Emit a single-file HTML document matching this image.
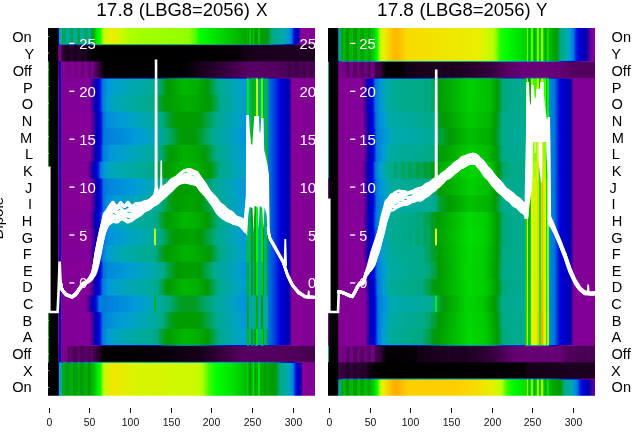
<!DOCTYPE html>
<html><head><meta charset="utf-8"><title>chart</title>
<style>
html,body{margin:0;padding:0;background:#fff;}
body{width:640px;height:440px;overflow:hidden;font-family:"Liberation Sans",sans-serif;}
svg{display:block;will-change:transform;}
text{font-family:"Liberation Sans",sans-serif;}
</style></head><body>
<svg width="640" height="440" viewBox="0 0 640 440">
<rect width="640" height="440" fill="#fff"/>
<defs><linearGradient id="g1" gradientUnits="userSpaceOnUse" x1="48.0" x2="315.0" y1="0" y2="0"><stop offset=".0007" stop-color="#000"/><stop offset=".0382" stop-color="#000"/><stop offset=".0397" stop-color="#00d"/><stop offset=".0412" stop-color="#00d"/><stop offset=".0427" stop-color="#0096dd"/><stop offset=".0442" stop-color="#00aaa9"/><stop offset=".0516" stop-color="#00aa9f"/><stop offset=".0531" stop-color="#00a456"/><stop offset=".0606" stop-color="#00a353"/><stop offset=".0636" stop-color="#00a55f"/><stop offset=".0651" stop-color="#00a55e"/><stop offset=".0666" stop-color="#00aaa1"/><stop offset=".0786" stop-color="#00aaa5"/><stop offset=".0801" stop-color="#00a770"/><stop offset=".0861" stop-color="#00a76d"/><stop offset=".0876" stop-color="#00a24a"/><stop offset=".0921" stop-color="#00a249"/><stop offset=".0936" stop-color="#00aa9b"/><stop offset=".107" stop-color="#00aaa3"/><stop offset=".1085" stop-color="#00a666"/><stop offset=".11" stop-color="#00a665"/><stop offset=".1115" stop-color="#00a247"/><stop offset=".1205" stop-color="#00a244"/><stop offset=".122" stop-color="#00aa9a"/><stop offset=".134" stop-color="#00aaa0"/><stop offset=".1355" stop-color="#00a55c"/><stop offset=".1475" stop-color="#00a457"/><stop offset=".149" stop-color="#0a9"/><stop offset=".1609" stop-color="#00aa90"/><stop offset=".1624" stop-color="#009c1b"/><stop offset=".1639" stop-color="#009c1b"/><stop offset=".1654" stop-color="#00a55c"/><stop offset=".1669" stop-color="#009d21"/><stop offset=".1684" stop-color="#00a000"/><stop offset=".1849" stop-color="#00f300"/><stop offset=".1939" stop-color="#04ff00"/><stop offset=".1984" stop-color="#25ff00"/><stop offset=".2058" stop-color="#bf0"/><stop offset=".2298" stop-color="#e7f000"/><stop offset=".2493" stop-color="#e8f000"/><stop offset=".3031" stop-color="#b0ff00"/><stop offset=".357" stop-color="#a4ff00"/><stop offset=".5262" stop-color="#91ff00"/><stop offset=".5531" stop-color="#4fff00"/><stop offset=".5696" stop-color="#0f0"/><stop offset=".7463" stop-color="#00a600"/><stop offset=".7478" stop-color="#00c900"/><stop offset=".7493" stop-color="#00c900"/><stop offset=".7507" stop-color="#00a500"/><stop offset=".7537" stop-color="#00a400"/><stop offset=".7552" stop-color="#00cf00"/><stop offset=".7597" stop-color="#00cf00"/><stop offset=".7612" stop-color="#00a300"/><stop offset=".7657" stop-color="#00a200"/><stop offset=".7672" stop-color="#00c900"/><stop offset=".7717" stop-color="#00c900"/><stop offset=".7732" stop-color="#00a100"/><stop offset=".7792" stop-color="#090"/><stop offset=".7867" stop-color="#009f00"/><stop offset=".7882" stop-color="#00c900"/><stop offset=".7927" stop-color="#00c900"/><stop offset=".7942" stop-color="#009d00"/><stop offset=".8091" stop-color="#009b00"/><stop offset=".8106" stop-color="#009c1b"/><stop offset=".8136" stop-color="#009c1b"/><stop offset=".8151" stop-color="#009a00"/><stop offset=".8196" stop-color="#090"/><stop offset=".8361" stop-color="#00a76e"/><stop offset=".8436" stop-color="#00aa8c"/><stop offset=".884" stop-color="#00aaa9"/><stop offset=".9004" stop-color="#0096dd"/><stop offset=".9124" stop-color="#0079dd"/><stop offset=".9214" stop-color="#0013dd"/><stop offset=".9259" stop-color="#0000d9"/><stop offset=".9349" stop-color="#0000b8"/><stop offset=".9379" stop-color="#0500a9"/><stop offset=".9469" stop-color="#809"/><stop offset=".9993" stop-color="#810092"/></linearGradient>
<linearGradient id="g2" gradientUnits="userSpaceOnUse" x1="48.0" x2="315.0" y1="0" y2="0"><stop offset=".0007" stop-color="#000"/><stop offset=".0382" stop-color="#000"/><stop offset=".0397" stop-color="#7e008f"/><stop offset=".0487" stop-color="#708"/><stop offset=".0501" stop-color="#51005c"/><stop offset=".0516" stop-color="#400049"/><stop offset=".0576" stop-color="#2a0030"/><stop offset=".0651" stop-color="#28002e"/><stop offset=".0681" stop-color="#1c0020"/><stop offset=".0786" stop-color="#19001d"/><stop offset=".0816" stop-color="#25002b"/><stop offset=".0921" stop-color="#28002d"/><stop offset=".0951" stop-color="#1b001f"/><stop offset=".107" stop-color="#17001b"/><stop offset=".11" stop-color="#240029"/><stop offset=".1205" stop-color="#26002b"/><stop offset=".1235" stop-color="#17001a"/><stop offset=".134" stop-color="#160019"/><stop offset=".137" stop-color="#200025"/><stop offset=".1475" stop-color="#18001b"/><stop offset=".149" stop-color="#0c000e"/><stop offset=".1969" stop-color="#000"/><stop offset=".4963" stop-color="#000"/><stop offset=".7148" stop-color="#050005"/><stop offset=".7343" stop-color="#130016"/><stop offset=".7822" stop-color="#19001d"/><stop offset=".9993" stop-color="#1f0023"/></linearGradient>
<linearGradient id="g3" gradientUnits="userSpaceOnUse" x1="48.0" x2="315.0" y1="0" y2="0"><stop offset=".0007" stop-color="#0b0"/><stop offset=".0037" stop-color="#0b0"/><stop offset=".0052" stop-color="#000"/><stop offset=".0382" stop-color="#000"/><stop offset=".0397" stop-color="#7e008f"/><stop offset=".0412" stop-color="#7e008f"/><stop offset=".0427" stop-color="#0000be"/><stop offset=".0472" stop-color="#0000be"/><stop offset=".0487" stop-color="#810092"/><stop offset=".0651" stop-color="#810092"/><stop offset=".0786" stop-color="#708"/><stop offset=".0921" stop-color="#810092"/><stop offset=".107" stop-color="#720082"/><stop offset=".11" stop-color="#7e008f"/><stop offset=".1205" stop-color="#7f0090"/><stop offset=".125" stop-color="#6e007e"/><stop offset=".134" stop-color="#6b007a"/><stop offset=".1355" stop-color="#7d008e"/><stop offset=".1475" stop-color="#7d008e"/><stop offset=".1519" stop-color="#6c007c"/><stop offset=".1594" stop-color="#5e006c"/><stop offset=".1624" stop-color="#7c008d"/><stop offset=".1669" stop-color="#7b008c"/><stop offset=".1699" stop-color="#680076"/><stop offset=".2118" stop-color="#030003"/><stop offset=".5112" stop-color="#000"/><stop offset=".5322" stop-color="#0a000c"/><stop offset=".5621" stop-color="#150018"/><stop offset=".6654" stop-color="#35003c"/><stop offset=".7537" stop-color="#5a0067"/><stop offset=".8735" stop-color="#52005e"/><stop offset=".887" stop-color="#4d0058"/><stop offset=".896" stop-color="#4c0056"/><stop offset=".9004" stop-color="#42004b"/><stop offset=".9094" stop-color="#43004c"/><stop offset=".9124" stop-color="#4c0057"/><stop offset=".9229" stop-color="#4a0055"/><stop offset=".9274" stop-color="#3e0046"/><stop offset=".9364" stop-color="#3d0046"/><stop offset=".9409" stop-color="#490054"/><stop offset=".9513" stop-color="#4f005b"/><stop offset=".9543" stop-color="#460050"/><stop offset=".9648" stop-color="#43004c"/><stop offset=".9678" stop-color="#4c0057"/><stop offset=".9783" stop-color="#4e0059"/><stop offset=".9828" stop-color="#45004f"/><stop offset=".9933" stop-color="#43004d"/><stop offset=".9963" stop-color="#4d0058"/><stop offset=".9993" stop-color="#4a0054"/></linearGradient>
<linearGradient id="g4" gradientUnits="userSpaceOnUse" x1="48.0" x2="315.0" y1="0" y2="0"><stop offset=".0007" stop-color="#0b0"/><stop offset=".0037" stop-color="#0b0"/><stop offset=".0052" stop-color="#000"/><stop offset=".0367" stop-color="#000"/><stop offset=".0382" stop-color="#7e008f"/><stop offset=".0397" stop-color="#7e008f"/><stop offset=".0412" stop-color="#0000be"/><stop offset=".0472" stop-color="#0000be"/><stop offset=".0487" stop-color="#810092"/><stop offset=".1549" stop-color="#81009a"/><stop offset=".1699" stop-color="#3600a3"/><stop offset=".1759" stop-color="#00a"/><stop offset=".1909" stop-color="#00d"/><stop offset=".1984" stop-color="#0030dd"/><stop offset=".2043" stop-color="#0078dd"/><stop offset=".2268" stop-color="#009adb"/><stop offset=".2582" stop-color="#00a1c5"/><stop offset=".2702" stop-color="#00a1c6"/><stop offset=".2867" stop-color="#00a5b8"/><stop offset=".354" stop-color="#00aaa6"/><stop offset=".4109" stop-color="#00aa8b"/><stop offset=".4469" stop-color="#090"/><stop offset=".5097" stop-color="#00b700"/><stop offset=".5591" stop-color="#00af00"/><stop offset=".5951" stop-color="#009903"/><stop offset=".637" stop-color="#00aa8a"/><stop offset=".7163" stop-color="#00a2c3"/><stop offset=".7433" stop-color="#009ad9"/><stop offset=".7448" stop-color="#00f100"/><stop offset=".7507" stop-color="#00f100"/><stop offset=".7522" stop-color="#0a9"/><stop offset=".7582" stop-color="#0a9"/><stop offset=".7597" stop-color="#0b0"/><stop offset=".7672" stop-color="#0b0"/><stop offset=".7687" stop-color="#00a352"/><stop offset=".7702" stop-color="#00a352"/><stop offset=".7717" stop-color="#0b0"/><stop offset=".7792" stop-color="#0b0"/><stop offset=".7807" stop-color="#c5fc00"/><stop offset=".7867" stop-color="#c5fc00"/><stop offset=".7882" stop-color="#0a9"/><stop offset=".7957" stop-color="#0a9"/><stop offset=".7972" stop-color="#4bff00"/><stop offset=".8046" stop-color="#4bff00"/><stop offset=".8061" stop-color="#0b0"/><stop offset=".8076" stop-color="#0b0"/><stop offset=".8091" stop-color="#0a8"/><stop offset=".8181" stop-color="#0a8"/><stop offset=".8196" stop-color="#0b0"/><stop offset=".8241" stop-color="#0b0"/><stop offset=".8256" stop-color="#0076dd"/><stop offset=".8466" stop-color="#0045dd"/><stop offset=".8705" stop-color="#0000db"/><stop offset=".9019" stop-color="#0000ad"/><stop offset=".9064" stop-color="#2600a5"/><stop offset=".9124" stop-color="#78009b"/><stop offset=".9154" stop-color="#860097"/><stop offset=".9993" stop-color="#810092"/></linearGradient>
<linearGradient id="g5" gradientUnits="userSpaceOnUse" x1="48.0" x2="315.0" y1="0" y2="0"><stop offset=".0007" stop-color="#0b0"/><stop offset=".0037" stop-color="#0b0"/><stop offset=".0052" stop-color="#000"/><stop offset=".0367" stop-color="#000"/><stop offset=".0382" stop-color="#7e008f"/><stop offset=".0397" stop-color="#7e008f"/><stop offset=".0412" stop-color="#0000be"/><stop offset=".0472" stop-color="#0000be"/><stop offset=".0487" stop-color="#810092"/><stop offset=".1549" stop-color="#81009a"/><stop offset=".1699" stop-color="#3600a3"/><stop offset=".1759" stop-color="#00a"/><stop offset=".1909" stop-color="#00d"/><stop offset=".1984" stop-color="#0030dd"/><stop offset=".2043" stop-color="#0078dd"/><stop offset=".2193" stop-color="#009bd7"/><stop offset=".2343" stop-color="#00a1c5"/><stop offset=".2582" stop-color="#00a8b0"/><stop offset=".2702" stop-color="#00a7b2"/><stop offset=".2882" stop-color="#00aaa9"/><stop offset=".393" stop-color="#0a8"/><stop offset=".3975" stop-color="#00a97e"/><stop offset=".399" stop-color="#00aa87"/><stop offset=".4109" stop-color="#00a55f"/><stop offset=".4154" stop-color="#00a244"/><stop offset=".4319" stop-color="#009b12"/><stop offset=".4469" stop-color="#009d00"/><stop offset=".5262" stop-color="#00b000"/><stop offset=".5621" stop-color="#00a500"/><stop offset=".607" stop-color="#009a07"/><stop offset=".646" stop-color="#00aa89"/><stop offset=".7223" stop-color="#00a2c1"/><stop offset=".7433" stop-color="#009dd1"/><stop offset=".7448" stop-color="#00f100"/><stop offset=".7507" stop-color="#00f100"/><stop offset=".7522" stop-color="#0a9"/><stop offset=".7582" stop-color="#0a9"/><stop offset=".7597" stop-color="#0b0"/><stop offset=".7672" stop-color="#0b0"/><stop offset=".7687" stop-color="#00a352"/><stop offset=".7702" stop-color="#00a352"/><stop offset=".7717" stop-color="#0b0"/><stop offset=".7792" stop-color="#0b0"/><stop offset=".7807" stop-color="#c5fc00"/><stop offset=".7867" stop-color="#c5fc00"/><stop offset=".7882" stop-color="#0a9"/><stop offset=".7957" stop-color="#0a9"/><stop offset=".7972" stop-color="#4bff00"/><stop offset=".8046" stop-color="#4bff00"/><stop offset=".8061" stop-color="#0b0"/><stop offset=".8076" stop-color="#0b0"/><stop offset=".8091" stop-color="#0a8"/><stop offset=".8181" stop-color="#0a8"/><stop offset=".8196" stop-color="#0b0"/><stop offset=".8241" stop-color="#0b0"/><stop offset=".8256" stop-color="#0076dd"/><stop offset=".8466" stop-color="#0045dd"/><stop offset=".8705" stop-color="#0000db"/><stop offset=".9019" stop-color="#0000ad"/><stop offset=".9064" stop-color="#2600a5"/><stop offset=".9124" stop-color="#78009b"/><stop offset=".9154" stop-color="#860097"/><stop offset=".9993" stop-color="#810092"/></linearGradient>
<linearGradient id="g6" gradientUnits="userSpaceOnUse" x1="48.0" x2="315.0" y1="0" y2="0"><stop offset=".0007" stop-color="#0b0"/><stop offset=".0037" stop-color="#0b0"/><stop offset=".0052" stop-color="#000"/><stop offset=".0367" stop-color="#000"/><stop offset=".0382" stop-color="#7e008f"/><stop offset=".0397" stop-color="#7e008f"/><stop offset=".0412" stop-color="#0000be"/><stop offset=".0472" stop-color="#0000be"/><stop offset=".0487" stop-color="#810092"/><stop offset=".1579" stop-color="#850099"/><stop offset=".1729" stop-color="#3d00a2"/><stop offset=".1804" stop-color="#0000ad"/><stop offset=".1954" stop-color="#0005dd"/><stop offset=".2028" stop-color="#0039dd"/><stop offset=".2073" stop-color="#0072dd"/><stop offset=".2238" stop-color="#008cdd"/><stop offset=".2732" stop-color="#009bd7"/><stop offset=".3451" stop-color="#00a5b9"/><stop offset=".4109" stop-color="#0a9"/><stop offset=".4289" stop-color="#00a980"/><stop offset=".4573" stop-color="#009e27"/><stop offset=".4828" stop-color="#009b00"/><stop offset=".5561" stop-color="#009d00"/><stop offset=".5741" stop-color="#009c14"/><stop offset=".6145" stop-color="#00a667"/><stop offset=".628" stop-color="#00aa8b"/><stop offset=".7133" stop-color="#00a0c8"/><stop offset=".7433" stop-color="#0096dd"/><stop offset=".7448" stop-color="#00f100"/><stop offset=".7507" stop-color="#00f100"/><stop offset=".7522" stop-color="#0a9"/><stop offset=".7582" stop-color="#0a9"/><stop offset=".7597" stop-color="#0b0"/><stop offset=".7672" stop-color="#0b0"/><stop offset=".7687" stop-color="#00a352"/><stop offset=".7702" stop-color="#00a352"/><stop offset=".7717" stop-color="#0b0"/><stop offset=".7792" stop-color="#0b0"/><stop offset=".7807" stop-color="#c5fc00"/><stop offset=".7867" stop-color="#c5fc00"/><stop offset=".7882" stop-color="#0a9"/><stop offset=".7957" stop-color="#0a9"/><stop offset=".7972" stop-color="#4bff00"/><stop offset=".8046" stop-color="#4bff00"/><stop offset=".8061" stop-color="#0b0"/><stop offset=".8076" stop-color="#0b0"/><stop offset=".8091" stop-color="#0a8"/><stop offset=".8181" stop-color="#0a8"/><stop offset=".8196" stop-color="#0b0"/><stop offset=".8241" stop-color="#0b0"/><stop offset=".8256" stop-color="#0076dd"/><stop offset=".8466" stop-color="#0045dd"/><stop offset=".8705" stop-color="#0000db"/><stop offset=".9019" stop-color="#0000ad"/><stop offset=".9064" stop-color="#2600a5"/><stop offset=".9124" stop-color="#78009b"/><stop offset=".9154" stop-color="#860097"/><stop offset=".9993" stop-color="#810092"/></linearGradient>
<linearGradient id="g7" gradientUnits="userSpaceOnUse" x1="48.0" x2="315.0" y1="0" y2="0"><stop offset=".0007" stop-color="#0b0"/><stop offset=".0037" stop-color="#0b0"/><stop offset=".0052" stop-color="#000"/><stop offset=".0367" stop-color="#000"/><stop offset=".0382" stop-color="#7e008f"/><stop offset=".0397" stop-color="#7e008f"/><stop offset=".0412" stop-color="#0000be"/><stop offset=".0472" stop-color="#0000be"/><stop offset=".0487" stop-color="#810092"/><stop offset=".1579" stop-color="#850099"/><stop offset=".1729" stop-color="#3d00a2"/><stop offset=".1804" stop-color="#0000ad"/><stop offset=".1954" stop-color="#0005dd"/><stop offset=".2028" stop-color="#0039dd"/><stop offset=".2073" stop-color="#0072dd"/><stop offset=".2268" stop-color="#0081dd"/><stop offset=".2463" stop-color="#0084dd"/><stop offset=".3271" stop-color="#009ada"/><stop offset=".3451" stop-color="#009dd2"/><stop offset=".39" stop-color="#00a4bc"/><stop offset=".4439" stop-color="#00a982"/><stop offset=".4963" stop-color="#009a05"/><stop offset=".5487" stop-color="#009a05"/><stop offset=".616" stop-color="#00aa8c"/><stop offset=".7088" stop-color="#009ecd"/><stop offset=".7343" stop-color="#0094dd"/><stop offset=".7433" stop-color="#008fdd"/><stop offset=".7448" stop-color="#00f100"/><stop offset=".7507" stop-color="#00f100"/><stop offset=".7522" stop-color="#0a9"/><stop offset=".7582" stop-color="#0a9"/><stop offset=".7597" stop-color="#0b0"/><stop offset=".7672" stop-color="#0b0"/><stop offset=".7687" stop-color="#00a352"/><stop offset=".7702" stop-color="#00a352"/><stop offset=".7717" stop-color="#0b0"/><stop offset=".7792" stop-color="#0b0"/><stop offset=".7807" stop-color="#c5fc00"/><stop offset=".7867" stop-color="#c5fc00"/><stop offset=".7882" stop-color="#0a9"/><stop offset=".7957" stop-color="#0a9"/><stop offset=".7972" stop-color="#4bff00"/><stop offset=".8046" stop-color="#4bff00"/><stop offset=".8061" stop-color="#0b0"/><stop offset=".8076" stop-color="#0b0"/><stop offset=".8091" stop-color="#0a8"/><stop offset=".8181" stop-color="#0a8"/><stop offset=".8196" stop-color="#0b0"/><stop offset=".8241" stop-color="#0b0"/><stop offset=".8256" stop-color="#0076dd"/><stop offset=".8466" stop-color="#0045dd"/><stop offset=".8705" stop-color="#0000db"/><stop offset=".9019" stop-color="#0000ad"/><stop offset=".9064" stop-color="#2600a5"/><stop offset=".9124" stop-color="#78009b"/><stop offset=".9154" stop-color="#860097"/><stop offset=".9993" stop-color="#810092"/></linearGradient>
<linearGradient id="g8" gradientUnits="userSpaceOnUse" x1="48.0" x2="315.0" y1="0" y2="0"><stop offset=".0007" stop-color="#0b0"/><stop offset=".0037" stop-color="#0b0"/><stop offset=".0052" stop-color="#000"/><stop offset=".0367" stop-color="#000"/><stop offset=".0382" stop-color="#7e008f"/><stop offset=".0397" stop-color="#7e008f"/><stop offset=".0412" stop-color="#0000be"/><stop offset=".0472" stop-color="#0000be"/><stop offset=".0487" stop-color="#810092"/><stop offset=".1564" stop-color="#83009a"/><stop offset=".1714" stop-color="#3a00a3"/><stop offset=".1774" stop-color="#0300aa"/><stop offset=".1939" stop-color="#0007dd"/><stop offset=".2013" stop-color="#003edd"/><stop offset=".2058" stop-color="#07d"/><stop offset=".2283" stop-color="#0094dd"/><stop offset=".2522" stop-color="#009cd3"/><stop offset=".2732" stop-color="#009ecd"/><stop offset=".3436" stop-color="#00a8af"/><stop offset=".4109" stop-color="#00aa92"/><stop offset=".4229" stop-color="#00a87a"/><stop offset=".4469" stop-color="#009c1b"/><stop offset=".4603" stop-color="#009b00"/><stop offset=".5127" stop-color="#00b000"/><stop offset=".5591" stop-color="#00a800"/><stop offset=".5891" stop-color="#009a08"/><stop offset=".6325" stop-color="#00aa8a"/><stop offset=".7163" stop-color="#00a0c7"/><stop offset=".7433" stop-color="#09d"/><stop offset=".7448" stop-color="#00f100"/><stop offset=".7507" stop-color="#00f100"/><stop offset=".7522" stop-color="#0a9"/><stop offset=".7582" stop-color="#0a9"/><stop offset=".7597" stop-color="#0b0"/><stop offset=".7672" stop-color="#0b0"/><stop offset=".7687" stop-color="#00a352"/><stop offset=".7702" stop-color="#00a352"/><stop offset=".7717" stop-color="#0b0"/><stop offset=".7792" stop-color="#0b0"/><stop offset=".7807" stop-color="#c5fc00"/><stop offset=".7867" stop-color="#c5fc00"/><stop offset=".7882" stop-color="#0a9"/><stop offset=".7957" stop-color="#0a9"/><stop offset=".7972" stop-color="#4bff00"/><stop offset=".8046" stop-color="#4bff00"/><stop offset=".8061" stop-color="#0b0"/><stop offset=".8076" stop-color="#0b0"/><stop offset=".8091" stop-color="#0a8"/><stop offset=".8181" stop-color="#0a8"/><stop offset=".8196" stop-color="#0b0"/><stop offset=".8241" stop-color="#0b0"/><stop offset=".8256" stop-color="#0076dd"/><stop offset=".8466" stop-color="#0045dd"/><stop offset=".8705" stop-color="#0000db"/><stop offset=".9019" stop-color="#0000ad"/><stop offset=".9064" stop-color="#2600a5"/><stop offset=".9124" stop-color="#78009b"/><stop offset=".9154" stop-color="#860097"/><stop offset=".9993" stop-color="#810092"/></linearGradient>
<linearGradient id="g9" gradientUnits="userSpaceOnUse" x1="48.0" x2="315.0" y1="0" y2="0"><stop offset=".0007" stop-color="#0b0"/><stop offset=".0037" stop-color="#0b0"/><stop offset=".0052" stop-color="#000"/><stop offset=".0367" stop-color="#000"/><stop offset=".0382" stop-color="#7e008f"/><stop offset=".0397" stop-color="#7e008f"/><stop offset=".0412" stop-color="#0000be"/><stop offset=".0472" stop-color="#0000be"/><stop offset=".0487" stop-color="#810092"/><stop offset=".146" stop-color="#82009a"/><stop offset=".1475" stop-color="#7b009b"/><stop offset=".149" stop-color="#860099"/><stop offset=".1519" stop-color="#6d009c"/><stop offset=".1624" stop-color="#3600a3"/><stop offset=".1684" stop-color="#00a"/><stop offset=".1834" stop-color="#00d"/><stop offset=".1909" stop-color="#0030dd"/><stop offset=".1969" stop-color="#0078dd"/><stop offset=".2133" stop-color="#009bd8"/><stop offset=".2298" stop-color="#00a3be"/><stop offset=".2493" stop-color="#00a7b4"/><stop offset=".2732" stop-color="#00a9ae"/><stop offset=".3705" stop-color="#00aa94"/><stop offset=".3975" stop-color="#00a97e"/><stop offset=".399" stop-color="#00aa87"/><stop offset=".4109" stop-color="#00a55f"/><stop offset=".4154" stop-color="#00a244"/><stop offset=".4379" stop-color="#009a00"/><stop offset=".5142" stop-color="#00b700"/><stop offset=".5576" stop-color="#00af00"/><stop offset=".607" stop-color="#009a05"/><stop offset=".6445" stop-color="#0a8"/><stop offset=".7223" stop-color="#00a2c1"/><stop offset=".7433" stop-color="#009dd1"/><stop offset=".7448" stop-color="#00f100"/><stop offset=".7507" stop-color="#00f100"/><stop offset=".7522" stop-color="#0a9"/><stop offset=".7582" stop-color="#0a9"/><stop offset=".7597" stop-color="#0b0"/><stop offset=".7672" stop-color="#0b0"/><stop offset=".7687" stop-color="#00a352"/><stop offset=".7702" stop-color="#00a352"/><stop offset=".7717" stop-color="#0b0"/><stop offset=".7792" stop-color="#0b0"/><stop offset=".7807" stop-color="#c5fc00"/><stop offset=".7867" stop-color="#c5fc00"/><stop offset=".7882" stop-color="#0a9"/><stop offset=".7957" stop-color="#0a9"/><stop offset=".7972" stop-color="#4bff00"/><stop offset=".8046" stop-color="#4bff00"/><stop offset=".8061" stop-color="#0b0"/><stop offset=".8076" stop-color="#0b0"/><stop offset=".8091" stop-color="#0a8"/><stop offset=".8181" stop-color="#0a8"/><stop offset=".8196" stop-color="#0b0"/><stop offset=".8241" stop-color="#0b0"/><stop offset=".8256" stop-color="#0076dd"/><stop offset=".8466" stop-color="#0045dd"/><stop offset=".8705" stop-color="#0000db"/><stop offset=".9019" stop-color="#0000ad"/><stop offset=".9064" stop-color="#2600a5"/><stop offset=".9124" stop-color="#78009b"/><stop offset=".9154" stop-color="#860097"/><stop offset=".9993" stop-color="#810092"/></linearGradient>
<linearGradient id="g10" gradientUnits="userSpaceOnUse" x1="48.0" x2="315.0" y1="0" y2="0"><stop offset=".0007" stop-color="#0b0"/><stop offset=".0037" stop-color="#0b0"/><stop offset=".0052" stop-color="#000"/><stop offset=".0367" stop-color="#000"/><stop offset=".0382" stop-color="#7e008f"/><stop offset=".0397" stop-color="#7e008f"/><stop offset=".0412" stop-color="#0000be"/><stop offset=".0472" stop-color="#0000be"/><stop offset=".0487" stop-color="#810092"/><stop offset=".1579" stop-color="#850099"/><stop offset=".1729" stop-color="#3d00a2"/><stop offset=".1804" stop-color="#0000ad"/><stop offset=".1954" stop-color="#0005dd"/><stop offset=".2028" stop-color="#0039dd"/><stop offset=".2073" stop-color="#0072dd"/><stop offset=".2253" stop-color="#0083dd"/><stop offset=".2478" stop-color="#0089dd"/><stop offset=".3271" stop-color="#009cd5"/><stop offset=".3421" stop-color="#00a0c9"/><stop offset=".357" stop-color="#00a1c6"/><stop offset=".3855" stop-color="#00a5ba"/><stop offset=".4334" stop-color="#00aa8c"/><stop offset=".4798" stop-color="#009a00"/><stop offset=".5546" stop-color="#009f00"/><stop offset=".5681" stop-color="#009a07"/><stop offset=".6085" stop-color="#00a878"/><stop offset=".622" stop-color="#00aa8f"/><stop offset=".7058" stop-color="#00a0c8"/><stop offset=".7373" stop-color="#0094dd"/><stop offset=".7433" stop-color="#0091dd"/><stop offset=".7448" stop-color="#00f100"/><stop offset=".7507" stop-color="#00f100"/><stop offset=".7522" stop-color="#0a9"/><stop offset=".7582" stop-color="#0a9"/><stop offset=".7597" stop-color="#0b0"/><stop offset=".7672" stop-color="#0b0"/><stop offset=".7687" stop-color="#00a352"/><stop offset=".7702" stop-color="#00a352"/><stop offset=".7717" stop-color="#0b0"/><stop offset=".7792" stop-color="#0b0"/><stop offset=".7807" stop-color="#c5fc00"/><stop offset=".7867" stop-color="#c5fc00"/><stop offset=".7882" stop-color="#0a9"/><stop offset=".7957" stop-color="#0a9"/><stop offset=".7972" stop-color="#4bff00"/><stop offset=".8046" stop-color="#4bff00"/><stop offset=".8061" stop-color="#0b0"/><stop offset=".8076" stop-color="#0b0"/><stop offset=".8091" stop-color="#0a8"/><stop offset=".8181" stop-color="#0a8"/><stop offset=".8196" stop-color="#0b0"/><stop offset=".8241" stop-color="#0b0"/><stop offset=".8256" stop-color="#0076dd"/><stop offset=".8466" stop-color="#0045dd"/><stop offset=".8705" stop-color="#0000db"/><stop offset=".9019" stop-color="#0000ad"/><stop offset=".9064" stop-color="#2600a5"/><stop offset=".9124" stop-color="#78009b"/><stop offset=".9154" stop-color="#860097"/><stop offset=".9993" stop-color="#810092"/></linearGradient>
<linearGradient id="g11" gradientUnits="userSpaceOnUse" x1="48.0" x2="315.0" y1="0" y2="0"><stop offset=".0007" stop-color="#0b0"/><stop offset=".0037" stop-color="#0b0"/><stop offset=".0052" stop-color="#000"/><stop offset=".0367" stop-color="#000"/><stop offset=".0382" stop-color="#7e008f"/><stop offset=".0397" stop-color="#7e008f"/><stop offset=".0412" stop-color="#0000be"/><stop offset=".0472" stop-color="#0000be"/><stop offset=".0487" stop-color="#810092"/><stop offset=".1579" stop-color="#850099"/><stop offset=".1729" stop-color="#3d00a2"/><stop offset=".1804" stop-color="#0000ad"/><stop offset=".1954" stop-color="#0005dd"/><stop offset=".2028" stop-color="#0039dd"/><stop offset=".2073" stop-color="#0072dd"/><stop offset=".2238" stop-color="#008edd"/><stop offset=".2582" stop-color="#009cd4"/><stop offset=".2702" stop-color="#009bd6"/><stop offset=".2867" stop-color="#00a0c8"/><stop offset=".3451" stop-color="#00a7b4"/><stop offset=".4109" stop-color="#00aa95"/><stop offset=".4259" stop-color="#00a97d"/><stop offset=".4558" stop-color="#009d1d"/><stop offset=".4768" stop-color="#009b00"/><stop offset=".5367" stop-color="#00a600"/><stop offset=".5726" stop-color="#009a06"/><stop offset=".6145" stop-color="#00a55d"/><stop offset=".6295" stop-color="#00aa8a"/><stop offset=".7133" stop-color="#00a1c6"/><stop offset=".7433" stop-color="#0098dd"/><stop offset=".7448" stop-color="#00cb00"/><stop offset=".7507" stop-color="#00cb00"/><stop offset=".7522" stop-color="#00aaa3"/><stop offset=".7582" stop-color="#00aaa3"/><stop offset=".7597" stop-color="#00a000"/><stop offset=".7672" stop-color="#00a000"/><stop offset=".7687" stop-color="#00aa8b"/><stop offset=".7702" stop-color="#00aa8b"/><stop offset=".7717" stop-color="#00a000"/><stop offset=".7792" stop-color="#00a000"/><stop offset=".7807" stop-color="#00f700"/><stop offset=".7867" stop-color="#00f700"/><stop offset=".7882" stop-color="#00aaa3"/><stop offset=".7957" stop-color="#00aaa3"/><stop offset=".7972" stop-color="#00e100"/><stop offset=".8046" stop-color="#00e100"/><stop offset=".8061" stop-color="#00a000"/><stop offset=".8076" stop-color="#00a000"/><stop offset=".8091" stop-color="#00aa96"/><stop offset=".8181" stop-color="#00aa96"/><stop offset=".8196" stop-color="#00a000"/><stop offset=".8241" stop-color="#00a000"/><stop offset=".8256" stop-color="#0076dd"/><stop offset=".8466" stop-color="#0045dd"/><stop offset=".8705" stop-color="#0000db"/><stop offset=".9019" stop-color="#0000ad"/><stop offset=".9064" stop-color="#2600a5"/><stop offset=".9124" stop-color="#78009b"/><stop offset=".9154" stop-color="#860097"/><stop offset=".9993" stop-color="#810092"/></linearGradient>
<linearGradient id="g12" gradientUnits="userSpaceOnUse" x1="48.0" x2="315.0" y1="0" y2="0"><stop offset=".0007" stop-color="#0b0"/><stop offset=".0037" stop-color="#0b0"/><stop offset=".0052" stop-color="#000"/><stop offset=".0367" stop-color="#000"/><stop offset=".0382" stop-color="#7e008f"/><stop offset=".0397" stop-color="#7e008f"/><stop offset=".0412" stop-color="#0000be"/><stop offset=".0472" stop-color="#0000be"/><stop offset=".0487" stop-color="#810092"/><stop offset=".1549" stop-color="#81009a"/><stop offset=".1699" stop-color="#3600a3"/><stop offset=".1759" stop-color="#00a"/><stop offset=".1909" stop-color="#00d"/><stop offset=".1984" stop-color="#0030dd"/><stop offset=".2043" stop-color="#0078dd"/><stop offset=".2238" stop-color="#009bd7"/><stop offset=".2582" stop-color="#00a5bb"/><stop offset=".2702" stop-color="#00a4bc"/><stop offset=".2867" stop-color="#00a9ae"/><stop offset=".3945" stop-color="#00aa8e"/><stop offset=".4094" stop-color="#00a97f"/><stop offset=".4184" stop-color="#00a454"/><stop offset=".4439" stop-color="#009b00"/><stop offset=".5127" stop-color="#00b700"/><stop offset=".5576" stop-color="#00af00"/><stop offset=".5996" stop-color="#009a04"/><stop offset=".6175" stop-color="#00a03c"/><stop offset=".6415" stop-color="#00aa8a"/><stop offset=".7193" stop-color="#00a2c2"/><stop offset=".7433" stop-color="#009cd5"/><stop offset=".7448" stop-color="#0c0"/><stop offset=".7507" stop-color="#0c0"/><stop offset=".7522" stop-color="#00aaa2"/><stop offset=".7582" stop-color="#00aaa2"/><stop offset=".7597" stop-color="#00a100"/><stop offset=".7672" stop-color="#00a100"/><stop offset=".7687" stop-color="#00aa8a"/><stop offset=".7702" stop-color="#00aa8a"/><stop offset=".7717" stop-color="#00a100"/><stop offset=".7792" stop-color="#00a100"/><stop offset=".7807" stop-color="#00f800"/><stop offset=".7867" stop-color="#00f800"/><stop offset=".7882" stop-color="#00aaa2"/><stop offset=".7957" stop-color="#00aaa2"/><stop offset=".7972" stop-color="#00e200"/><stop offset=".8046" stop-color="#00e200"/><stop offset=".8061" stop-color="#00a100"/><stop offset=".8076" stop-color="#00a100"/><stop offset=".8091" stop-color="#00aa95"/><stop offset=".8181" stop-color="#00aa95"/><stop offset=".8196" stop-color="#00a100"/><stop offset=".8241" stop-color="#00a100"/><stop offset=".8256" stop-color="#0076dd"/><stop offset=".8466" stop-color="#0045dd"/><stop offset=".8705" stop-color="#0000db"/><stop offset=".9019" stop-color="#0000ad"/><stop offset=".9064" stop-color="#2600a5"/><stop offset=".9124" stop-color="#78009b"/><stop offset=".9154" stop-color="#860097"/><stop offset=".9993" stop-color="#810092"/></linearGradient>
<linearGradient id="g13" gradientUnits="userSpaceOnUse" x1="48.0" x2="315.0" y1="0" y2="0"><stop offset=".0007" stop-color="#0b0"/><stop offset=".0037" stop-color="#0b0"/><stop offset=".0052" stop-color="#000"/><stop offset=".0367" stop-color="#000"/><stop offset=".0382" stop-color="#7e008f"/><stop offset=".0397" stop-color="#7e008f"/><stop offset=".0412" stop-color="#0000be"/><stop offset=".0472" stop-color="#0000be"/><stop offset=".0487" stop-color="#810092"/><stop offset=".1579" stop-color="#850099"/><stop offset=".1729" stop-color="#3d00a2"/><stop offset=".1804" stop-color="#0000ad"/><stop offset=".1954" stop-color="#0005dd"/><stop offset=".2028" stop-color="#0039dd"/><stop offset=".2073" stop-color="#0072dd"/><stop offset=".2238" stop-color="#008edd"/><stop offset=".2582" stop-color="#009cd4"/><stop offset=".2702" stop-color="#009bd6"/><stop offset=".2867" stop-color="#00a0c8"/><stop offset=".3451" stop-color="#00a7b4"/><stop offset=".3975" stop-color="#00aa9d"/><stop offset=".399" stop-color="#c0fd00"/><stop offset=".4034" stop-color="#c0fd00"/><stop offset=".4049" stop-color="#00aa9a"/><stop offset=".4259" stop-color="#00a97d"/><stop offset=".4558" stop-color="#009d1d"/><stop offset=".4768" stop-color="#009b00"/><stop offset=".5367" stop-color="#00a600"/><stop offset=".5726" stop-color="#009a06"/><stop offset=".6145" stop-color="#00a55d"/><stop offset=".6295" stop-color="#00aa8a"/><stop offset=".7133" stop-color="#00a1c6"/><stop offset=".7433" stop-color="#0098dd"/><stop offset=".7448" stop-color="#00cb00"/><stop offset=".7507" stop-color="#00cb00"/><stop offset=".7522" stop-color="#00aaa3"/><stop offset=".7582" stop-color="#00aaa3"/><stop offset=".7597" stop-color="#00a000"/><stop offset=".7672" stop-color="#00a000"/><stop offset=".7687" stop-color="#00aa8b"/><stop offset=".7702" stop-color="#00aa8b"/><stop offset=".7717" stop-color="#00a000"/><stop offset=".7792" stop-color="#00a000"/><stop offset=".7807" stop-color="#00f700"/><stop offset=".7867" stop-color="#00f700"/><stop offset=".7882" stop-color="#00aaa3"/><stop offset=".7957" stop-color="#00aaa3"/><stop offset=".7972" stop-color="#00e100"/><stop offset=".8046" stop-color="#00e100"/><stop offset=".8061" stop-color="#00a000"/><stop offset=".8076" stop-color="#00a000"/><stop offset=".8091" stop-color="#00aa96"/><stop offset=".8181" stop-color="#00aa96"/><stop offset=".8196" stop-color="#00a000"/><stop offset=".8241" stop-color="#00a000"/><stop offset=".8256" stop-color="#0076dd"/><stop offset=".8466" stop-color="#0045dd"/><stop offset=".8705" stop-color="#0000db"/><stop offset=".9019" stop-color="#0000ad"/><stop offset=".9064" stop-color="#2600a5"/><stop offset=".9124" stop-color="#78009b"/><stop offset=".9154" stop-color="#860097"/><stop offset=".9993" stop-color="#810092"/></linearGradient>
<linearGradient id="g14" gradientUnits="userSpaceOnUse" x1="48.0" x2="315.0" y1="0" y2="0"><stop offset=".0007" stop-color="#0b0"/><stop offset=".0037" stop-color="#0b0"/><stop offset=".0052" stop-color="#000"/><stop offset=".0367" stop-color="#000"/><stop offset=".0382" stop-color="#7e008f"/><stop offset=".0397" stop-color="#7e008f"/><stop offset=".0412" stop-color="#0000be"/><stop offset=".0472" stop-color="#0000be"/><stop offset=".0487" stop-color="#810092"/><stop offset=".1549" stop-color="#81009a"/><stop offset=".1699" stop-color="#3600a3"/><stop offset=".1759" stop-color="#00a"/><stop offset=".1909" stop-color="#00d"/><stop offset=".1984" stop-color="#0030dd"/><stop offset=".2043" stop-color="#0078dd"/><stop offset=".2223" stop-color="#009bd6"/><stop offset=".2358" stop-color="#00a0c9"/><stop offset=".2582" stop-color="#00a6b5"/><stop offset=".2642" stop-color="#00a5ba"/><stop offset=".2867" stop-color="#00aaa9"/><stop offset=".3945" stop-color="#00aa8b"/><stop offset=".4049" stop-color="#00a97e"/><stop offset=".4109" stop-color="#00a76c"/><stop offset=".4139" stop-color="#00a457"/><stop offset=".4424" stop-color="#009a00"/><stop offset=".5142" stop-color="#00b300"/><stop offset=".5591" stop-color="#00ab00"/><stop offset=".6025" stop-color="#009a07"/><stop offset=".6145" stop-color="#009e27"/><stop offset=".643" stop-color="#00aa89"/><stop offset=".7208" stop-color="#00a2c2"/><stop offset=".7433" stop-color="#009cd3"/><stop offset=".7448" stop-color="#00cd00"/><stop offset=".7507" stop-color="#00cd00"/><stop offset=".7522" stop-color="#00aaa2"/><stop offset=".7582" stop-color="#00aaa2"/><stop offset=".7597" stop-color="#00a100"/><stop offset=".7672" stop-color="#00a100"/><stop offset=".7687" stop-color="#00aa89"/><stop offset=".7702" stop-color="#00aa89"/><stop offset=".7717" stop-color="#00a100"/><stop offset=".7792" stop-color="#00a100"/><stop offset=".7807" stop-color="#00f800"/><stop offset=".7867" stop-color="#00f800"/><stop offset=".7882" stop-color="#00aaa2"/><stop offset=".7957" stop-color="#00aaa2"/><stop offset=".7972" stop-color="#00e200"/><stop offset=".8046" stop-color="#00e200"/><stop offset=".8061" stop-color="#00a100"/><stop offset=".8076" stop-color="#00a100"/><stop offset=".8091" stop-color="#00aa95"/><stop offset=".8181" stop-color="#00aa95"/><stop offset=".8196" stop-color="#00a100"/><stop offset=".8241" stop-color="#00a100"/><stop offset=".8256" stop-color="#0076dd"/><stop offset=".8466" stop-color="#0045dd"/><stop offset=".8705" stop-color="#0000db"/><stop offset=".9019" stop-color="#0000ad"/><stop offset=".9064" stop-color="#2600a5"/><stop offset=".9124" stop-color="#78009b"/><stop offset=".9154" stop-color="#860097"/><stop offset=".9993" stop-color="#810092"/></linearGradient>
<linearGradient id="g15" gradientUnits="userSpaceOnUse" x1="48.0" x2="315.0" y1="0" y2="0"><stop offset=".0007" stop-color="#0b0"/><stop offset=".0037" stop-color="#0b0"/><stop offset=".0052" stop-color="#000"/><stop offset=".0367" stop-color="#000"/><stop offset=".0382" stop-color="#7e008f"/><stop offset=".0397" stop-color="#7e008f"/><stop offset=".0412" stop-color="#0000be"/><stop offset=".0472" stop-color="#0000be"/><stop offset=".0487" stop-color="#810092"/><stop offset=".1579" stop-color="#850099"/><stop offset=".1729" stop-color="#3d00a2"/><stop offset=".1804" stop-color="#0000ad"/><stop offset=".1954" stop-color="#0005dd"/><stop offset=".2028" stop-color="#0039dd"/><stop offset=".2073" stop-color="#0072dd"/><stop offset=".2253" stop-color="#08d"/><stop offset=".3001" stop-color="#009bd6"/><stop offset=".3451" stop-color="#00a2c3"/><stop offset=".384" stop-color="#00a6b6"/><stop offset=".4334" stop-color="#00aa85"/><stop offset=".4484" stop-color="#00a34d"/><stop offset=".4813" stop-color="#009a00"/><stop offset=".5516" stop-color="#00a000"/><stop offset=".5681" stop-color="#009a09"/><stop offset=".6115" stop-color="#00a76f"/><stop offset=".6235" stop-color="#00aa8c"/><stop offset=".7118" stop-color="#009fca"/><stop offset=".7418" stop-color="#0094dd"/><stop offset=".7433" stop-color="#0094dd"/><stop offset=".7448" stop-color="#00b700"/><stop offset=".7507" stop-color="#00b700"/><stop offset=".7522" stop-color="#0aa"/><stop offset=".7582" stop-color="#0aa"/><stop offset=".7597" stop-color="#009d21"/><stop offset=".7672" stop-color="#009d21"/><stop offset=".7687" stop-color="#00aa94"/><stop offset=".7702" stop-color="#00aa94"/><stop offset=".7717" stop-color="#009d21"/><stop offset=".7792" stop-color="#009d21"/><stop offset=".7807" stop-color="#0d0"/><stop offset=".7867" stop-color="#0d0"/><stop offset=".7882" stop-color="#0aa"/><stop offset=".7957" stop-color="#0aa"/><stop offset=".7972" stop-color="#00ca00"/><stop offset=".8046" stop-color="#00ca00"/><stop offset=".8061" stop-color="#009d20"/><stop offset=".8076" stop-color="#009d20"/><stop offset=".8091" stop-color="#00aa9e"/><stop offset=".8181" stop-color="#00aa9e"/><stop offset=".8196" stop-color="#009d20"/><stop offset=".8241" stop-color="#009d20"/><stop offset=".8256" stop-color="#0076dd"/><stop offset=".8466" stop-color="#0045dd"/><stop offset=".8705" stop-color="#0000db"/><stop offset=".9019" stop-color="#0000ad"/><stop offset=".9064" stop-color="#2600a5"/><stop offset=".9124" stop-color="#78009b"/><stop offset=".9154" stop-color="#860097"/><stop offset=".9993" stop-color="#810092"/></linearGradient>
<linearGradient id="g16" gradientUnits="userSpaceOnUse" x1="48.0" x2="315.0" y1="0" y2="0"><stop offset=".0007" stop-color="#0b0"/><stop offset=".0037" stop-color="#0b0"/><stop offset=".0052" stop-color="#000"/><stop offset=".0367" stop-color="#000"/><stop offset=".0382" stop-color="#7e008f"/><stop offset=".0397" stop-color="#7e008f"/><stop offset=".0412" stop-color="#0000be"/><stop offset=".0472" stop-color="#0000be"/><stop offset=".0487" stop-color="#810092"/><stop offset=".1549" stop-color="#81009a"/><stop offset=".1699" stop-color="#3600a3"/><stop offset=".1759" stop-color="#00a"/><stop offset=".1909" stop-color="#00d"/><stop offset=".1984" stop-color="#0030dd"/><stop offset=".2043" stop-color="#0078dd"/><stop offset=".2268" stop-color="#009adb"/><stop offset=".2582" stop-color="#00a1c5"/><stop offset=".2702" stop-color="#00a1c6"/><stop offset=".2867" stop-color="#00a5b8"/><stop offset=".354" stop-color="#00aaa6"/><stop offset=".4109" stop-color="#00aa8b"/><stop offset=".4469" stop-color="#090"/><stop offset=".5097" stop-color="#00b700"/><stop offset=".5591" stop-color="#00af00"/><stop offset=".5951" stop-color="#009903"/><stop offset=".637" stop-color="#00aa8a"/><stop offset=".7163" stop-color="#00a2c3"/><stop offset=".7433" stop-color="#009ad9"/><stop offset=".7448" stop-color="#00b900"/><stop offset=".7507" stop-color="#00b900"/><stop offset=".7522" stop-color="#00aaa8"/><stop offset=".7582" stop-color="#00aaa8"/><stop offset=".7597" stop-color="#009c18"/><stop offset=".7672" stop-color="#009c18"/><stop offset=".7687" stop-color="#00aa92"/><stop offset=".7702" stop-color="#00aa92"/><stop offset=".7717" stop-color="#009c18"/><stop offset=".7792" stop-color="#009c18"/><stop offset=".7807" stop-color="#00df00"/><stop offset=".7867" stop-color="#00df00"/><stop offset=".7882" stop-color="#00aaa8"/><stop offset=".7957" stop-color="#00aaa8"/><stop offset=".7972" stop-color="#0c0"/><stop offset=".8046" stop-color="#0c0"/><stop offset=".8061" stop-color="#009c19"/><stop offset=".8076" stop-color="#009c19"/><stop offset=".8091" stop-color="#00aa9c"/><stop offset=".8181" stop-color="#00aa9c"/><stop offset=".8196" stop-color="#009c19"/><stop offset=".8241" stop-color="#009c19"/><stop offset=".8256" stop-color="#0076dd"/><stop offset=".8466" stop-color="#0045dd"/><stop offset=".8705" stop-color="#0000db"/><stop offset=".9019" stop-color="#0000ad"/><stop offset=".9064" stop-color="#2600a5"/><stop offset=".9124" stop-color="#78009b"/><stop offset=".9154" stop-color="#860097"/><stop offset=".9993" stop-color="#810092"/></linearGradient>
<linearGradient id="g17" gradientUnits="userSpaceOnUse" x1="48.0" x2="315.0" y1="0" y2="0"><stop offset=".0007" stop-color="#0b0"/><stop offset=".0037" stop-color="#0b0"/><stop offset=".0052" stop-color="#000"/><stop offset=".0367" stop-color="#000"/><stop offset=".0382" stop-color="#7e008f"/><stop offset=".0397" stop-color="#7e008f"/><stop offset=".0412" stop-color="#0000be"/><stop offset=".0472" stop-color="#0000be"/><stop offset=".0487" stop-color="#810092"/><stop offset=".14" stop-color="#83009a"/><stop offset=".1475" stop-color="#62009e"/><stop offset=".149" stop-color="#6c009c"/><stop offset=".1519" stop-color="#5300a0"/><stop offset=".1579" stop-color="#2c00a4"/><stop offset=".1624" stop-color="#0300aa"/><stop offset=".1789" stop-color="#0007dd"/><stop offset=".1864" stop-color="#003edd"/><stop offset=".1909" stop-color="#07d"/><stop offset=".3271" stop-color="#009ada"/><stop offset=".3451" stop-color="#009dd2"/><stop offset=".39" stop-color="#00a4bc"/><stop offset=".3975" stop-color="#00a6b6"/><stop offset=".399" stop-color="#0b0"/><stop offset=".4034" stop-color="#0b0"/><stop offset=".4049" stop-color="#00a8b1"/><stop offset=".4499" stop-color="#00a97f"/><stop offset=".4978" stop-color="#009d20"/><stop offset=".5487" stop-color="#009d20"/><stop offset=".5861" stop-color="#00a560"/><stop offset=".6235" stop-color="#00aa92"/><stop offset=".7058" stop-color="#009fca"/><stop offset=".7343" stop-color="#0094dd"/><stop offset=".7433" stop-color="#008fdd"/><stop offset=".7448" stop-color="#009f2e"/><stop offset=".7507" stop-color="#009f2e"/><stop offset=".7522" stop-color="#00a3be"/><stop offset=".7582" stop-color="#00a3be"/><stop offset=".7597" stop-color="#00aa8d"/><stop offset=".7672" stop-color="#00aa8c"/><stop offset=".7687" stop-color="#00aaa8"/><stop offset=".7702" stop-color="#00aaa8"/><stop offset=".7717" stop-color="#00aa8c"/><stop offset=".7792" stop-color="#00aa8c"/><stop offset=".7807" stop-color="#00a900"/><stop offset=".7867" stop-color="#00a900"/><stop offset=".7882" stop-color="#00a4bd"/><stop offset=".7957" stop-color="#00a4bd"/><stop offset=".7972" stop-color="#009c00"/><stop offset=".8046" stop-color="#009c00"/><stop offset=".8061" stop-color="#00aa8c"/><stop offset=".8076" stop-color="#00aa8c"/><stop offset=".8091" stop-color="#00a8b0"/><stop offset=".8181" stop-color="#00a8b0"/><stop offset=".8196" stop-color="#00aa8c"/><stop offset=".8241" stop-color="#00aa8c"/><stop offset=".8256" stop-color="#0076dd"/><stop offset=".8466" stop-color="#0045dd"/><stop offset=".8705" stop-color="#0000db"/><stop offset=".9019" stop-color="#0000ad"/><stop offset=".9064" stop-color="#2600a5"/><stop offset=".9124" stop-color="#78009b"/><stop offset=".9154" stop-color="#860097"/><stop offset=".9993" stop-color="#810092"/></linearGradient>
<linearGradient id="g18" gradientUnits="userSpaceOnUse" x1="48.0" x2="315.0" y1="0" y2="0"><stop offset=".0007" stop-color="#0b0"/><stop offset=".0037" stop-color="#0b0"/><stop offset=".0052" stop-color="#000"/><stop offset=".0367" stop-color="#000"/><stop offset=".0382" stop-color="#7e008f"/><stop offset=".0397" stop-color="#7e008f"/><stop offset=".0412" stop-color="#0000be"/><stop offset=".0472" stop-color="#0000be"/><stop offset=".0487" stop-color="#810092"/><stop offset=".1549" stop-color="#81009a"/><stop offset=".1699" stop-color="#3600a3"/><stop offset=".1759" stop-color="#00a"/><stop offset=".1909" stop-color="#00d"/><stop offset=".1984" stop-color="#0030dd"/><stop offset=".2043" stop-color="#0078dd"/><stop offset=".2313" stop-color="#0090dd"/><stop offset=".2732" stop-color="#009bd7"/><stop offset=".3451" stop-color="#00a5b9"/><stop offset=".4109" stop-color="#0a9"/><stop offset=".4289" stop-color="#00a980"/><stop offset=".4573" stop-color="#009e27"/><stop offset=".4828" stop-color="#009b00"/><stop offset=".5561" stop-color="#009d00"/><stop offset=".5741" stop-color="#009c14"/><stop offset=".6145" stop-color="#00a667"/><stop offset=".628" stop-color="#00aa8b"/><stop offset=".7133" stop-color="#00a0c8"/><stop offset=".7433" stop-color="#0096dd"/><stop offset=".7448" stop-color="#009d21"/><stop offset=".7507" stop-color="#009d21"/><stop offset=".7522" stop-color="#00a5b9"/><stop offset=".7582" stop-color="#00a5b9"/><stop offset=".7597" stop-color="#00aa89"/><stop offset=".7672" stop-color="#00aa89"/><stop offset=".7687" stop-color="#00aaa4"/><stop offset=".7702" stop-color="#00aaa4"/><stop offset=".7717" stop-color="#00aa89"/><stop offset=".7792" stop-color="#00aa89"/><stop offset=".7807" stop-color="#00ac00"/><stop offset=".7867" stop-color="#00ac00"/><stop offset=".7882" stop-color="#00a5b9"/><stop offset=".7957" stop-color="#00a5b8"/><stop offset=".7972" stop-color="#009f00"/><stop offset=".8046" stop-color="#009f00"/><stop offset=".8061" stop-color="#00aa89"/><stop offset=".8076" stop-color="#00aa89"/><stop offset=".8091" stop-color="#00a9ac"/><stop offset=".8181" stop-color="#00a9ac"/><stop offset=".8196" stop-color="#00aa89"/><stop offset=".8241" stop-color="#00aa89"/><stop offset=".8256" stop-color="#0076dd"/><stop offset=".8466" stop-color="#0045dd"/><stop offset=".8705" stop-color="#0000db"/><stop offset=".9019" stop-color="#0000ad"/><stop offset=".9064" stop-color="#2600a5"/><stop offset=".9124" stop-color="#78009b"/><stop offset=".9154" stop-color="#860097"/><stop offset=".9993" stop-color="#810092"/></linearGradient>
<linearGradient id="g19" gradientUnits="userSpaceOnUse" x1="48.0" x2="315.0" y1="0" y2="0"><stop offset=".0007" stop-color="#0b0"/><stop offset=".0037" stop-color="#0b0"/><stop offset=".0052" stop-color="#000"/><stop offset=".0367" stop-color="#000"/><stop offset=".0382" stop-color="#7e008f"/><stop offset=".0397" stop-color="#7e008f"/><stop offset=".0412" stop-color="#0000be"/><stop offset=".0472" stop-color="#0000be"/><stop offset=".0487" stop-color="#810092"/><stop offset=".1549" stop-color="#81009a"/><stop offset=".1699" stop-color="#3600a3"/><stop offset=".1759" stop-color="#00a"/><stop offset=".1909" stop-color="#00d"/><stop offset=".1984" stop-color="#0030dd"/><stop offset=".2043" stop-color="#0078dd"/><stop offset=".2238" stop-color="#009bd7"/><stop offset=".2582" stop-color="#00a5bb"/><stop offset=".2702" stop-color="#00a4bc"/><stop offset=".2867" stop-color="#00a9ae"/><stop offset=".3945" stop-color="#00aa8e"/><stop offset=".4094" stop-color="#00a97f"/><stop offset=".4184" stop-color="#00a454"/><stop offset=".4439" stop-color="#009b00"/><stop offset=".5127" stop-color="#00b700"/><stop offset=".5576" stop-color="#00af00"/><stop offset=".5996" stop-color="#009a04"/><stop offset=".6175" stop-color="#00a03c"/><stop offset=".6415" stop-color="#00aa8a"/><stop offset=".7193" stop-color="#00a2c2"/><stop offset=".7433" stop-color="#009cd5"/><stop offset=".7448" stop-color="#00ba00"/><stop offset=".7507" stop-color="#00ba00"/><stop offset=".7522" stop-color="#00aaa7"/><stop offset=".7582" stop-color="#00aaa7"/><stop offset=".7597" stop-color="#009c15"/><stop offset=".7672" stop-color="#009c15"/><stop offset=".7687" stop-color="#00aa91"/><stop offset=".7702" stop-color="#00aa91"/><stop offset=".7717" stop-color="#009c15"/><stop offset=".7792" stop-color="#009c15"/><stop offset=".7807" stop-color="#00e000"/><stop offset=".7867" stop-color="#00e000"/><stop offset=".7882" stop-color="#00aaa7"/><stop offset=".7957" stop-color="#00aaa7"/><stop offset=".7972" stop-color="#00cd00"/><stop offset=".8046" stop-color="#00cd00"/><stop offset=".8061" stop-color="#009c16"/><stop offset=".8076" stop-color="#009c16"/><stop offset=".8091" stop-color="#00aa9b"/><stop offset=".8181" stop-color="#00aa9b"/><stop offset=".8196" stop-color="#009c16"/><stop offset=".8241" stop-color="#009c16"/><stop offset=".8256" stop-color="#0076dd"/><stop offset=".8466" stop-color="#0045dd"/><stop offset=".8705" stop-color="#0000db"/><stop offset=".9019" stop-color="#0000ad"/><stop offset=".9064" stop-color="#2600a5"/><stop offset=".9124" stop-color="#78009b"/><stop offset=".9154" stop-color="#860097"/><stop offset=".9993" stop-color="#810092"/></linearGradient>
<linearGradient id="g20" gradientUnits="userSpaceOnUse" x1="48.0" x2="315.0" y1="0" y2="0"><stop offset=".0007" stop-color="#0b0"/><stop offset=".0022" stop-color="#0b0"/><stop offset=".0037" stop-color="#07d"/><stop offset=".0052" stop-color="#000"/><stop offset=".0382" stop-color="#000"/><stop offset=".0397" stop-color="#7e008f"/><stop offset=".0412" stop-color="#7e008f"/><stop offset=".0427" stop-color="#0000be"/><stop offset=".0472" stop-color="#0000be"/><stop offset=".0487" stop-color="#810092"/><stop offset=".0711" stop-color="#7a008b"/><stop offset=".0726" stop-color="#708"/><stop offset=".0756" stop-color="#4d0058"/><stop offset=".0786" stop-color="#4d0057"/><stop offset=".0801" stop-color="#5f006d"/><stop offset=".0921" stop-color="#630071"/><stop offset=".0936" stop-color="#50005b"/><stop offset=".107" stop-color="#4a0055"/><stop offset=".1085" stop-color="#5d006a"/><stop offset=".1205" stop-color="#60006e"/><stop offset=".122" stop-color="#4e0059"/><stop offset=".134" stop-color="#490054"/><stop offset=".1355" stop-color="#5c0069"/><stop offset=".1475" stop-color="#5b0068"/><stop offset=".149" stop-color="#4c0056"/><stop offset=".1609" stop-color="#490053"/><stop offset=".1624" stop-color="#5a0067"/><stop offset=".1669" stop-color="#570064"/><stop offset=".1684" stop-color="#4a0054"/><stop offset=".2133" stop-color="#000"/><stop offset=".4154" stop-color="#060007"/><stop offset=".5741" stop-color="#17001b"/><stop offset=".7313" stop-color="#560062"/><stop offset=".9184" stop-color="#50005b"/><stop offset=".9993" stop-color="#43004c"/></linearGradient>
<linearGradient id="g21" gradientUnits="userSpaceOnUse" x1="48.0" x2="315.0" y1="0" y2="0"><stop offset=".0007" stop-color="#000"/><stop offset=".0382" stop-color="#000"/><stop offset=".0397" stop-color="#00d"/><stop offset=".0412" stop-color="#00d"/><stop offset=".0427" stop-color="#00aa9c"/><stop offset=".0516" stop-color="#00aa96"/><stop offset=".0531" stop-color="#00aa8b"/><stop offset=".0546" stop-color="#00a03c"/><stop offset=".0561" stop-color="#00ae00"/><stop offset=".0651" stop-color="#00ac00"/><stop offset=".0666" stop-color="#009d1c"/><stop offset=".0726" stop-color="#009c1a"/><stop offset=".0741" stop-color="#009e2a"/><stop offset=".0786" stop-color="#009e28"/><stop offset=".0801" stop-color="#0a0"/><stop offset=".0921" stop-color="#00b200"/><stop offset=".0936" stop-color="#009a07"/><stop offset=".0981" stop-color="#009a05"/><stop offset=".0996" stop-color="#009d1f"/><stop offset=".107" stop-color="#009c1c"/><stop offset=".1085" stop-color="#00ad00"/><stop offset=".1205" stop-color="#00b300"/><stop offset=".122" stop-color="#090"/><stop offset=".1235" stop-color="#009c14"/><stop offset=".134" stop-color="#009b12"/><stop offset=".1355" stop-color="#00af00"/><stop offset=".1475" stop-color="#00b000"/><stop offset=".149" stop-color="#009b00"/><stop offset=".1609" stop-color="#00a100"/><stop offset=".1624" stop-color="#00bc00"/><stop offset=".1639" stop-color="#00bc00"/><stop offset=".1654" stop-color="#00ad00"/><stop offset=".1879" stop-color="#00f200"/><stop offset=".1969" stop-color="#06ff00"/><stop offset=".1984" stop-color="#13ff00"/><stop offset=".2058" stop-color="#bf0"/><stop offset=".2388" stop-color="#f2e700"/><stop offset=".3256" stop-color="#d9f500"/><stop offset=".5531" stop-color="#cdf900"/><stop offset=".5771" stop-color="#b4ff00"/><stop offset=".6025" stop-color="#41ff00"/><stop offset=".631" stop-color="#00fe00"/><stop offset=".6939" stop-color="#00e100"/><stop offset=".7463" stop-color="#00ba00"/><stop offset=".7478" stop-color="#00e400"/><stop offset=".7493" stop-color="#00e400"/><stop offset=".7507" stop-color="#00b800"/><stop offset=".7537" stop-color="#00b800"/><stop offset=".7552" stop-color="#090"/><stop offset=".7597" stop-color="#090"/><stop offset=".7612" stop-color="#00b600"/><stop offset=".7657" stop-color="#00b500"/><stop offset=".7672" stop-color="#00e400"/><stop offset=".7717" stop-color="#00e400"/><stop offset=".7732" stop-color="#00b300"/><stop offset=".7762" stop-color="#00b200"/><stop offset=".7777" stop-color="#090"/><stop offset=".7792" stop-color="#090"/><stop offset=".7807" stop-color="#00b100"/><stop offset=".7867" stop-color="#00af00"/><stop offset=".7882" stop-color="#00e400"/><stop offset=".7927" stop-color="#00e400"/><stop offset=".7942" stop-color="#00ad00"/><stop offset=".7987" stop-color="#00ac00"/><stop offset=".8016" stop-color="#00a000"/><stop offset=".8046" stop-color="#0a0"/><stop offset=".8091" stop-color="#00a900"/><stop offset=".8106" stop-color="#090"/><stop offset=".8136" stop-color="#090"/><stop offset=".8151" stop-color="#00a800"/><stop offset=".8481" stop-color="#009a08"/><stop offset=".857" stop-color="#009c1b"/><stop offset=".866" stop-color="#00a876"/><stop offset=".872" stop-color="#00aa8d"/><stop offset=".8975" stop-color="#00aaa9"/><stop offset=".9109" stop-color="#0095dd"/><stop offset=".9199" stop-color="#07d"/><stop offset=".9244" stop-color="#0030dd"/><stop offset=".9319" stop-color="#00d"/><stop offset=".9454" stop-color="#0500a9"/><stop offset=".9528" stop-color="#6a009d"/><stop offset=".9558" stop-color="#809"/><stop offset=".9993" stop-color="#810092"/></linearGradient>
<linearGradient id="g22" gradientUnits="userSpaceOnUse" x1="48.0" x2="315.0" y1="0" y2="0"><stop offset=".0007" stop-color="#000"/><stop offset=".0382" stop-color="#000"/><stop offset=".0397" stop-color="#0500a9"/><stop offset=".0412" stop-color="#0500a9"/><stop offset=".0427" stop-color="#000cdd"/><stop offset=".0442" stop-color="#005edd"/><stop offset=".0472" stop-color="#005add"/><stop offset=".0487" stop-color="#004bdd"/><stop offset=".0516" stop-color="#0049dd"/><stop offset=".0531" stop-color="#007fdd"/><stop offset=".0651" stop-color="#007bdd"/><stop offset=".0666" stop-color="#0036dd"/><stop offset=".0726" stop-color="#0038dd"/><stop offset=".0756" stop-color="#002bdd"/><stop offset=".0786" stop-color="#002cdd"/><stop offset=".0801" stop-color="#0078dd"/><stop offset=".0921" stop-color="#007edd"/><stop offset=".0936" stop-color="#0041dd"/><stop offset=".0981" stop-color="#0042dd"/><stop offset=".0996" stop-color="#002edd"/><stop offset=".107" stop-color="#0030dd"/><stop offset=".1085" stop-color="#0079dd"/><stop offset=".1205" stop-color="#007fdd"/><stop offset=".122" stop-color="#0043dd"/><stop offset=".1235" stop-color="#03d"/><stop offset=".134" stop-color="#0035dd"/><stop offset=".1355" stop-color="#007bdd"/><stop offset=".1475" stop-color="#007add"/><stop offset=".149" stop-color="#0041dd"/><stop offset=".1594" stop-color="#0042dd"/><stop offset=".1609" stop-color="#0051dd"/><stop offset=".1624" stop-color="#0081dd"/><stop offset=".1654" stop-color="#07d"/><stop offset=".1744" stop-color="#009bd8"/><stop offset=".1849" stop-color="#0aa"/><stop offset=".2148" stop-color="#00a984"/><stop offset=".2283" stop-color="#00a55f"/><stop offset=".2463" stop-color="#00a456"/><stop offset=".2807" stop-color="#00aa8b"/><stop offset=".5546" stop-color="#00aa9b"/><stop offset=".7223" stop-color="#0095dd"/><stop offset=".7463" stop-color="#008edd"/><stop offset=".7478" stop-color="#009ece"/><stop offset=".7493" stop-color="#009ece"/><stop offset=".7507" stop-color="#008edd"/><stop offset=".7537" stop-color="#008edd"/><stop offset=".7552" stop-color="#00a0c7"/><stop offset=".7597" stop-color="#00a0c7"/><stop offset=".7612" stop-color="#008ddd"/><stop offset=".7657" stop-color="#008cdd"/><stop offset=".7672" stop-color="#009ece"/><stop offset=".7717" stop-color="#009ece"/><stop offset=".7732" stop-color="#008cdd"/><stop offset=".7867" stop-color="#008cdd"/><stop offset=".7882" stop-color="#009fcb"/><stop offset=".7927" stop-color="#009fcb"/><stop offset=".7942" stop-color="#008bdd"/><stop offset=".8301" stop-color="#007ddd"/><stop offset=".86" stop-color="#004edd"/><stop offset=".881" stop-color="#03d"/><stop offset=".893" stop-color="#0000db"/><stop offset=".9154" stop-color="#0500a9"/><stop offset=".9229" stop-color="#3d00a2"/><stop offset=".9334" stop-color="#71009c"/><stop offset=".9364" stop-color="#809"/><stop offset=".9678" stop-color="#79008a"/><stop offset=".9993" stop-color="#780089"/></linearGradient>
<linearGradient id="g23" gradientUnits="userSpaceOnUse" x1="48.0" x2="315.0" y1="0" y2="0"><stop offset=".0007" stop-color="#0b0"/><stop offset=".0037" stop-color="#0b0"/><stop offset=".0052" stop-color="#000"/><stop offset=".0367" stop-color="#000"/><stop offset=".0382" stop-color="#53005f"/><stop offset=".0397" stop-color="#7e008f"/><stop offset=".0412" stop-color="#5200a0"/><stop offset=".0427" stop-color="#0000be"/><stop offset=".0472" stop-color="#0000be"/><stop offset=".0487" stop-color="#810092"/><stop offset=".1609" stop-color="#810092"/><stop offset=".1819" stop-color="#81009a"/><stop offset=".1999" stop-color="#5300a0"/><stop offset=".2103" stop-color="#2600a5"/><stop offset=".2253" stop-color="#00a"/><stop offset=".4079" stop-color="#0000d9"/><stop offset=".4738" stop-color="#005add"/><stop offset=".5052" stop-color="#006fdd"/><stop offset=".5531" stop-color="#0073dd"/><stop offset=".6579" stop-color="#0000dc"/><stop offset=".7433" stop-color="#0000bf"/><stop offset=".7448" stop-color="#009cd4"/><stop offset=".7507" stop-color="#009cd4"/><stop offset=".7522" stop-color="#000fdd"/><stop offset=".7582" stop-color="#000fdd"/><stop offset=".7597" stop-color="#0084dd"/><stop offset=".7672" stop-color="#0084dd"/><stop offset=".7687" stop-color="#0045dd"/><stop offset=".7702" stop-color="#0045dd"/><stop offset=".7717" stop-color="#0084dd"/><stop offset=".7792" stop-color="#0084dd"/><stop offset=".7807" stop-color="#00aaab"/><stop offset=".7867" stop-color="#00aaab"/><stop offset=".7882" stop-color="#000fdd"/><stop offset=".7957" stop-color="#000fdd"/><stop offset=".7972" stop-color="#00a3c0"/><stop offset=".8046" stop-color="#00a3c0"/><stop offset=".8061" stop-color="#0084dd"/><stop offset=".8076" stop-color="#0084dd"/><stop offset=".8091" stop-color="#002ddd"/><stop offset=".8181" stop-color="#002ddd"/><stop offset=".8196" stop-color="#0084dd"/><stop offset=".8241" stop-color="#0084dd"/><stop offset=".8256" stop-color="#1200a8"/><stop offset=".863" stop-color="#4c00a0"/><stop offset=".8975" stop-color="#870098"/><stop offset=".9454" stop-color="#79008a"/><stop offset=".9993" stop-color="#79008a"/></linearGradient>
<linearGradient id="g24" gradientUnits="userSpaceOnUse" x1="48.0" x2="315.0" y1="0" y2="0"><stop offset=".0007" stop-color="#0b0"/><stop offset=".0022" stop-color="#0b0"/><stop offset=".0037" stop-color="#0a9"/><stop offset=".0052" stop-color="#000"/><stop offset=".0367" stop-color="#000"/><stop offset=".0382" stop-color="#53005f"/><stop offset=".0397" stop-color="#7e008f"/><stop offset=".0412" stop-color="#5200a0"/><stop offset=".0427" stop-color="#0000be"/><stop offset=".0472" stop-color="#0000be"/><stop offset=".0487" stop-color="#810092"/><stop offset=".1564" stop-color="#7d008e"/><stop offset=".1849" stop-color="#83009a"/><stop offset=".1999" stop-color="#57009f"/><stop offset=".2163" stop-color="#0b00a9"/><stop offset=".2238" stop-color="#0000ad"/><stop offset=".372" stop-color="#0000cf"/><stop offset=".4109" stop-color="#0006dd"/><stop offset=".4379" stop-color="#003cdd"/><stop offset=".4993" stop-color="#0076dd"/><stop offset=".5531" stop-color="#0071dd"/><stop offset=".6205" stop-color="#03d"/><stop offset=".6744" stop-color="#0000db"/><stop offset=".7433" stop-color="#0000c0"/><stop offset=".7448" stop-color="#0083dd"/><stop offset=".7507" stop-color="#0083dd"/><stop offset=".7522" stop-color="#0000d8"/><stop offset=".7582" stop-color="#0000d8"/><stop offset=".7597" stop-color="#005ddd"/><stop offset=".7672" stop-color="#005ddd"/><stop offset=".7687" stop-color="#001add"/><stop offset=".7702" stop-color="#001add"/><stop offset=".7717" stop-color="#005ddd"/><stop offset=".7792" stop-color="#005ddd"/><stop offset=".7807" stop-color="#0096dd"/><stop offset=".7867" stop-color="#0096dd"/><stop offset=".7882" stop-color="#0000d8"/><stop offset=".7957" stop-color="#0000d8"/><stop offset=".7972" stop-color="#008cdd"/><stop offset=".8046" stop-color="#008cdd"/><stop offset=".8061" stop-color="#005ddd"/><stop offset=".8076" stop-color="#005ddd"/><stop offset=".8091" stop-color="#0009dd"/><stop offset=".8181" stop-color="#0009dd"/><stop offset=".8196" stop-color="#005ddd"/><stop offset=".8241" stop-color="#005ddd"/><stop offset=".8256" stop-color="#1300a8"/><stop offset=".9019" stop-color="#860097"/><stop offset=".9484" stop-color="#79008a"/><stop offset=".9993" stop-color="#780089"/></linearGradient>
<linearGradient id="g25" gradientUnits="userSpaceOnUse" x1="48.0" x2="315.0" y1="0" y2="0"><stop offset=".0007" stop-color="#07d"/><stop offset=".0022" stop-color="#07d"/><stop offset=".0037" stop-color="#4400a2"/><stop offset=".0052" stop-color="#000"/><stop offset=".0382" stop-color="#000"/><stop offset=".0397" stop-color="#2900a5"/><stop offset=".0412" stop-color="#2900a5"/><stop offset=".0427" stop-color="#0085dd"/><stop offset=".0472" stop-color="#0086dd"/><stop offset=".0487" stop-color="#0043dd"/><stop offset=".0516" stop-color="#0047dd"/><stop offset=".0561" stop-color="#008bdd"/><stop offset=".0651" stop-color="#008bdd"/><stop offset=".0681" stop-color="#007cdd"/><stop offset=".0726" stop-color="#006ddd"/><stop offset=".0756" stop-color="#0050dd"/><stop offset=".0786" stop-color="#0050dd"/><stop offset=".0801" stop-color="#007cdd"/><stop offset=".0921" stop-color="#0080dd"/><stop offset=".0936" stop-color="#0060dd"/><stop offset=".0981" stop-color="#0061dd"/><stop offset=".0996" stop-color="#0053dd"/><stop offset=".107" stop-color="#05d"/><stop offset=".1085" stop-color="#007ddd"/><stop offset=".1205" stop-color="#0081dd"/><stop offset=".122" stop-color="#0062dd"/><stop offset=".1265" stop-color="#0058dd"/><stop offset=".134" stop-color="#0058dd"/><stop offset=".1355" stop-color="#007edd"/><stop offset=".1475" stop-color="#007fdd"/><stop offset=".149" stop-color="#0064dd"/><stop offset=".1594" stop-color="#0062dd"/><stop offset=".1624" stop-color="#0084dd"/><stop offset=".1699" stop-color="#0084dd"/><stop offset=".1969" stop-color="#009bd7"/><stop offset=".2148" stop-color="#00a5ba"/><stop offset=".2493" stop-color="#00aaa7"/><stop offset=".36" stop-color="#00a6b5"/><stop offset=".5681" stop-color="#00a4bb"/><stop offset=".6534" stop-color="#009cd5"/><stop offset=".7463" stop-color="#0083dd"/><stop offset=".7478" stop-color="#0098dd"/><stop offset=".7493" stop-color="#0098dd"/><stop offset=".7507" stop-color="#0082dd"/><stop offset=".7537" stop-color="#0082dd"/><stop offset=".7552" stop-color="#06d"/><stop offset=".7597" stop-color="#06d"/><stop offset=".7612" stop-color="#0081dd"/><stop offset=".7657" stop-color="#0080dd"/><stop offset=".7672" stop-color="#0098dd"/><stop offset=".7717" stop-color="#0098dd"/><stop offset=".7732" stop-color="#007fdd"/><stop offset=".7762" stop-color="#007fdd"/><stop offset=".7777" stop-color="#06d"/><stop offset=".7792" stop-color="#06d"/><stop offset=".7807" stop-color="#007edd"/><stop offset=".7867" stop-color="#007ddd"/><stop offset=".7882" stop-color="#0098dd"/><stop offset=".7927" stop-color="#0098dd"/><stop offset=".7942" stop-color="#007cdd"/><stop offset=".7987" stop-color="#007cdd"/><stop offset=".8016" stop-color="#0072dd"/><stop offset=".8076" stop-color="#007bdd"/><stop offset=".8091" stop-color="#007add"/><stop offset=".8106" stop-color="#06d"/><stop offset=".8136" stop-color="#06d"/><stop offset=".8151" stop-color="#007add"/><stop offset=".857" stop-color="#005add"/><stop offset=".8705" stop-color="#0027dd"/><stop offset=".8975" stop-color="#0000d6"/><stop offset=".9169" stop-color="#0000ac"/><stop offset=".9259" stop-color="#4700a1"/><stop offset=".9424" stop-color="#870098"/><stop offset=".9798" stop-color="#79008a"/><stop offset=".9993" stop-color="#780089"/></linearGradient>
<linearGradient id="g26" gradientUnits="userSpaceOnUse" x1="328.0" x2="595.0" y1="0" y2="0"><stop offset=".0007" stop-color="#000"/><stop offset=".0382" stop-color="#000"/><stop offset=".0397" stop-color="#00a2c4"/><stop offset=".0412" stop-color="#00aa86"/><stop offset=".0501" stop-color="#00a354"/><stop offset=".0531" stop-color="#009a0c"/><stop offset=".0546" stop-color="#00a000"/><stop offset=".0561" stop-color="#00b800"/><stop offset=".0651" stop-color="#00b600"/><stop offset=".0666" stop-color="#009c00"/><stop offset=".0786" stop-color="#090"/><stop offset=".0801" stop-color="#00b400"/><stop offset=".0921" stop-color="#00bc00"/><stop offset=".0936" stop-color="#00a100"/><stop offset=".107" stop-color="#009c00"/><stop offset=".1085" stop-color="#00b700"/><stop offset=".1205" stop-color="#00be00"/><stop offset=".122" stop-color="#00a400"/><stop offset=".134" stop-color="#00a000"/><stop offset=".1355" stop-color="#0b0"/><stop offset=".1475" stop-color="#00bd00"/><stop offset=".149" stop-color="#00a700"/><stop offset=".1609" stop-color="#00af00"/><stop offset=".1624" stop-color="#00c900"/><stop offset=".1639" stop-color="#00c900"/><stop offset=".1654" stop-color="#00ba00"/><stop offset=".1849" stop-color="#04ff00"/><stop offset=".1909" stop-color="#70ff00"/><stop offset=".1939" stop-color="#acff00"/><stop offset=".1969" stop-color="#c4fc00"/><stop offset=".2103" stop-color="#e9f000"/><stop offset=".2463" stop-color="#ffba00"/><stop offset=".2627" stop-color="#ffba00"/><stop offset=".2957" stop-color="#f8db00"/><stop offset=".5696" stop-color="#e8f000"/><stop offset=".6205" stop-color="#b7ff00"/><stop offset=".631" stop-color="#85ff00"/><stop offset=".6445" stop-color="#24ff00"/><stop offset=".6714" stop-color="#00fc00"/><stop offset=".7433" stop-color="#00cf00"/><stop offset=".7448" stop-color="#6aff00"/><stop offset=".7478" stop-color="#67ff00"/><stop offset=".7493" stop-color="#00cd00"/><stop offset=".7537" stop-color="#0c0"/><stop offset=".7552" stop-color="#0a0"/><stop offset=".7567" stop-color="#0a0"/><stop offset=".7582" stop-color="#00cb00"/><stop offset=".7597" stop-color="#57ff00"/><stop offset=".7672" stop-color="#4eff00"/><stop offset=".7687" stop-color="#00c900"/><stop offset=".7717" stop-color="#00c800"/><stop offset=".7732" stop-color="#00ad00"/><stop offset=".7762" stop-color="#00ac00"/><stop offset=".7777" stop-color="#00c700"/><stop offset=".7807" stop-color="#00c600"/><stop offset=".7822" stop-color="#86ff00"/><stop offset=".7882" stop-color="#7eff00"/><stop offset=".7897" stop-color="#00c400"/><stop offset=".7957" stop-color="#00c300"/><stop offset=".7972" stop-color="#98ff00"/><stop offset=".8061" stop-color="#8cff00"/><stop offset=".8076" stop-color="#00c000"/><stop offset=".8106" stop-color="#00bf00"/><stop offset=".8121" stop-color="#0a0"/><stop offset=".8151" stop-color="#0a0"/><stop offset=".8166" stop-color="#00be00"/><stop offset=".8196" stop-color="#00bd00"/><stop offset=".8211" stop-color="#00e500"/><stop offset=".8256" stop-color="#00e400"/><stop offset=".8271" stop-color="#0b0"/><stop offset=".8496" stop-color="#00a000"/><stop offset=".8585" stop-color="#009a05"/><stop offset=".866" stop-color="#00a55e"/><stop offset=".872" stop-color="#00aa8a"/><stop offset=".896" stop-color="#00aaa9"/><stop offset=".9079" stop-color="#0099dc"/><stop offset=".9214" stop-color="#006fdd"/><stop offset=".9289" stop-color="#0021dd"/><stop offset=".9409" stop-color="#0000db"/><stop offset=".9663" stop-color="#0500a9"/><stop offset=".9888" stop-color="#7d009a"/><stop offset=".9978" stop-color="#860097"/><stop offset=".9993" stop-color="#850096"/></linearGradient>
<linearGradient id="g27" gradientUnits="userSpaceOnUse" x1="328.0" x2="595.0" y1="0" y2="0"><stop offset=".0007" stop-color="#00aa9c"/><stop offset=".0037" stop-color="#00aa9c"/><stop offset=".0052" stop-color="#000"/><stop offset=".0382" stop-color="#000"/><stop offset=".0397" stop-color="#7a008b"/><stop offset=".0651" stop-color="#760087"/><stop offset=".0681" stop-color="#5d006a"/><stop offset=".0786" stop-color="#580064"/><stop offset=".0801" stop-color="#700080"/><stop offset=".0921" stop-color="#750086"/><stop offset=".0936" stop-color="#5c0069"/><stop offset=".107" stop-color="#540060"/><stop offset=".1085" stop-color="#6d007d"/><stop offset=".1205" stop-color="#710082"/><stop offset=".122" stop-color="#590065"/><stop offset=".134" stop-color="#53005f"/><stop offset=".1355" stop-color="#6c007b"/><stop offset=".1475" stop-color="#6c007b"/><stop offset=".149" stop-color="#570064"/><stop offset=".1609" stop-color="#5c0069"/><stop offset=".1624" stop-color="#750085"/><stop offset=".1714" stop-color="#6c007c"/><stop offset=".1759" stop-color="#5d006a"/><stop offset=".1774" stop-color="#42004c"/><stop offset=".1864" stop-color="#380040"/><stop offset=".1879" stop-color="#460050"/><stop offset=".2193" stop-color="#000"/><stop offset=".2822" stop-color="#040004"/><stop offset=".2927" stop-color="#0f0012"/><stop offset=".3331" stop-color="#18001b"/><stop offset=".357" stop-color="#19001c"/><stop offset=".3855" stop-color="#1c0020"/><stop offset=".4109" stop-color="#19001d"/><stop offset=".4244" stop-color="#200025"/><stop offset=".4364" stop-color="#19001d"/><stop offset=".4528" stop-color="#1f0024"/><stop offset=".4663" stop-color="#17001a"/><stop offset=".4798" stop-color="#1f0023"/><stop offset=".4948" stop-color="#1b001f"/><stop offset=".5082" stop-color="#230028"/><stop offset=".5217" stop-color="#210026"/><stop offset=".5352" stop-color="#29002f"/><stop offset=".5501" stop-color="#25002a"/><stop offset=".5636" stop-color="#2f0035"/><stop offset=".5771" stop-color="#2b0031"/><stop offset=".5906" stop-color="#35003d"/><stop offset=".604" stop-color="#320039"/><stop offset=".6235" stop-color="#3b0044"/><stop offset=".646" stop-color="#4a0055"/><stop offset=".6579" stop-color="#4b0055"/><stop offset=".6744" stop-color="#570063"/><stop offset=".7148" stop-color="#630071"/><stop offset=".7298" stop-color="#6c007b"/><stop offset=".7433" stop-color="#670076"/><stop offset=".7567" stop-color="#6b007a"/><stop offset=".7717" stop-color="#660075"/><stop offset=".7852" stop-color="#6c007c"/><stop offset=".7972" stop-color="#660074"/><stop offset=".8121" stop-color="#6c007b"/><stop offset=".8271" stop-color="#670075"/><stop offset=".8391" stop-color="#6d007d"/><stop offset=".851" stop-color="#660074"/><stop offset=".8645" stop-color="#690078"/><stop offset=".8825" stop-color="#5d006a"/><stop offset=".896" stop-color="#5f006c"/><stop offset=".9094" stop-color="#550062"/><stop offset=".9259" stop-color="#53005f"/><stop offset=".9603" stop-color="#52005e"/><stop offset=".9993" stop-color="#53005f"/></linearGradient>
<linearGradient id="g28" gradientUnits="userSpaceOnUse" x1="328.0" x2="595.0" y1="0" y2="0"><stop offset=".0007" stop-color="#00aa9c"/><stop offset=".0037" stop-color="#00aa9c"/><stop offset=".0052" stop-color="#000"/><stop offset=".0382" stop-color="#000"/><stop offset=".0397" stop-color="#830094"/><stop offset=".128" stop-color="#840099"/><stop offset=".14" stop-color="#4500a1"/><stop offset=".1475" stop-color="#0300aa"/><stop offset=".1579" stop-color="#0000d1"/><stop offset=".1669" stop-color="#0004dd"/><stop offset=".1774" stop-color="#0073dd"/><stop offset=".1984" stop-color="#009bd6"/><stop offset=".2223" stop-color="#00aaa2"/><stop offset=".2582" stop-color="#00aa8f"/><stop offset=".3331" stop-color="#00aa86"/><stop offset=".3421" stop-color="#00a97f"/><stop offset=".3466" stop-color="#00aa8a"/><stop offset=".3555" stop-color="#00aa8a"/><stop offset=".3615" stop-color="#00a97c"/><stop offset=".369" stop-color="#00a879"/><stop offset=".372" stop-color="#00aa85"/><stop offset=".384" stop-color="#00a97e"/><stop offset=".387" stop-color="#00a76e"/><stop offset=".3975" stop-color="#00a55d"/><stop offset=".4004" stop-color="#00a667"/><stop offset=".4034" stop-color="#00a562"/><stop offset=".4124" stop-color="#009904"/><stop offset=".5307" stop-color="#00cf00"/><stop offset=".607" stop-color="#00be00"/><stop offset=".6355" stop-color="#009a05"/><stop offset=".6564" stop-color="#00a97f"/><stop offset=".6909" stop-color="#00aa8d"/><stop offset=".7388" stop-color="#00aa8f"/><stop offset=".7403" stop-color="#0b0"/><stop offset=".7433" stop-color="#0b0"/><stop offset=".7448" stop-color="#bf0"/><stop offset=".7478" stop-color="#bf0"/><stop offset=".7493" stop-color="#090"/><stop offset=".7582" stop-color="#090"/><stop offset=".7597" stop-color="#96ff00"/><stop offset=".7672" stop-color="#96ff00"/><stop offset=".7687" stop-color="#38ff00"/><stop offset=".7807" stop-color="#38ff00"/><stop offset=".7822" stop-color="#dff300"/><stop offset=".7882" stop-color="#dff300"/><stop offset=".7897" stop-color="#00cf00"/><stop offset=".7957" stop-color="#00cf00"/><stop offset=".7972" stop-color="#f3e400"/><stop offset=".8061" stop-color="#f3e400"/><stop offset=".8076" stop-color="#38ff00"/><stop offset=".8151" stop-color="#38ff00"/><stop offset=".8166" stop-color="#00c200"/><stop offset=".8196" stop-color="#00c200"/><stop offset=".8211" stop-color="#00fc00"/><stop offset=".8256" stop-color="#00fc00"/><stop offset=".8271" stop-color="#090"/><stop offset=".8286" stop-color="#009fca"/><stop offset=".8301" stop-color="#0087dd"/><stop offset=".8481" stop-color="#0075dd"/><stop offset=".869" stop-color="#0000dc"/><stop offset=".9064" stop-color="#0000b1"/><stop offset=".9094" stop-color="#0e00a8"/><stop offset=".9199" stop-color="#80009a"/><stop offset=".9993" stop-color="#810092"/></linearGradient>
<linearGradient id="g29" gradientUnits="userSpaceOnUse" x1="328.0" x2="595.0" y1="0" y2="0"><stop offset=".0007" stop-color="#00aa9c"/><stop offset=".0037" stop-color="#00aa9c"/><stop offset=".0052" stop-color="#000"/><stop offset=".0382" stop-color="#000"/><stop offset=".0397" stop-color="#830094"/><stop offset=".128" stop-color="#840099"/><stop offset=".14" stop-color="#4500a1"/><stop offset=".1475" stop-color="#0300aa"/><stop offset=".1579" stop-color="#0000d1"/><stop offset=".1669" stop-color="#0004dd"/><stop offset=".1774" stop-color="#0073dd"/><stop offset=".1984" stop-color="#009bd6"/><stop offset=".2223" stop-color="#00aaa2"/><stop offset=".2582" stop-color="#00aa8f"/><stop offset=".3331" stop-color="#00aa86"/><stop offset=".3421" stop-color="#00a97f"/><stop offset=".3466" stop-color="#00aa8a"/><stop offset=".3555" stop-color="#00aa8a"/><stop offset=".3615" stop-color="#00a97c"/><stop offset=".369" stop-color="#00a879"/><stop offset=".372" stop-color="#00aa85"/><stop offset=".384" stop-color="#00a97e"/><stop offset=".387" stop-color="#00a76e"/><stop offset=".3975" stop-color="#00a55d"/><stop offset=".4004" stop-color="#00a667"/><stop offset=".4034" stop-color="#00a562"/><stop offset=".4124" stop-color="#009904"/><stop offset=".5307" stop-color="#00cf00"/><stop offset=".607" stop-color="#00be00"/><stop offset=".6355" stop-color="#009a05"/><stop offset=".6564" stop-color="#00a97f"/><stop offset=".6909" stop-color="#00aa8d"/><stop offset=".7388" stop-color="#00aa8f"/><stop offset=".7403" stop-color="#0b0"/><stop offset=".7433" stop-color="#0b0"/><stop offset=".7448" stop-color="#bf0"/><stop offset=".7478" stop-color="#bf0"/><stop offset=".7493" stop-color="#090"/><stop offset=".7582" stop-color="#090"/><stop offset=".7597" stop-color="#96ff00"/><stop offset=".7672" stop-color="#96ff00"/><stop offset=".7687" stop-color="#38ff00"/><stop offset=".7807" stop-color="#38ff00"/><stop offset=".7822" stop-color="#dff300"/><stop offset=".7882" stop-color="#dff300"/><stop offset=".7897" stop-color="#00cf00"/><stop offset=".7957" stop-color="#00cf00"/><stop offset=".7972" stop-color="#f3e400"/><stop offset=".8061" stop-color="#f3e400"/><stop offset=".8076" stop-color="#38ff00"/><stop offset=".8151" stop-color="#38ff00"/><stop offset=".8166" stop-color="#00c200"/><stop offset=".8196" stop-color="#00c200"/><stop offset=".8211" stop-color="#00fc00"/><stop offset=".8256" stop-color="#00fc00"/><stop offset=".8271" stop-color="#090"/><stop offset=".8286" stop-color="#009fca"/><stop offset=".8301" stop-color="#0087dd"/><stop offset=".8481" stop-color="#0075dd"/><stop offset=".869" stop-color="#0000dc"/><stop offset=".9064" stop-color="#0000b1"/><stop offset=".9094" stop-color="#0e00a8"/><stop offset=".9199" stop-color="#80009a"/><stop offset=".9993" stop-color="#810092"/></linearGradient>
<linearGradient id="g30" gradientUnits="userSpaceOnUse" x1="328.0" x2="595.0" y1="0" y2="0"><stop offset=".0007" stop-color="#00aa9c"/><stop offset=".0037" stop-color="#00aa9c"/><stop offset=".0052" stop-color="#000"/><stop offset=".0382" stop-color="#000"/><stop offset=".0397" stop-color="#830094"/><stop offset=".1295" stop-color="#860099"/><stop offset=".1415" stop-color="#4800a1"/><stop offset=".1504" stop-color="#0000ae"/><stop offset=".1609" stop-color="#0000d3"/><stop offset=".1684" stop-color="#00d"/><stop offset=".1789" stop-color="#0070dd"/><stop offset=".1894" stop-color="#08d"/><stop offset=".2088" stop-color="#009cd5"/><stop offset=".2298" stop-color="#00aaa8"/><stop offset=".3181" stop-color="#00aa9a"/><stop offset=".4049" stop-color="#0a8"/><stop offset=".4154" stop-color="#009c1b"/><stop offset=".4394" stop-color="#009c00"/><stop offset=".5307" stop-color="#00c900"/><stop offset=".601" stop-color="#00b900"/><stop offset=".6295" stop-color="#009903"/><stop offset=".6549" stop-color="#00aa8b"/><stop offset=".7388" stop-color="#00aa95"/><stop offset=".7403" stop-color="#00c200"/><stop offset=".7433" stop-color="#00c200"/><stop offset=".7448" stop-color="#c5fc00"/><stop offset=".7478" stop-color="#c5fc00"/><stop offset=".7493" stop-color="#00a000"/><stop offset=".7582" stop-color="#00a000"/><stop offset=".7597" stop-color="#bf0"/><stop offset=".7672" stop-color="#bf0"/><stop offset=".7687" stop-color="#5dff00"/><stop offset=".7807" stop-color="#5dff00"/><stop offset=".7822" stop-color="#e9f000"/><stop offset=".7882" stop-color="#e9f000"/><stop offset=".7897" stop-color="#00d600"/><stop offset=".7957" stop-color="#00d600"/><stop offset=".7972" stop-color="#f6dd00"/><stop offset=".8061" stop-color="#f6dd00"/><stop offset=".8076" stop-color="#5dff00"/><stop offset=".8151" stop-color="#5dff00"/><stop offset=".8166" stop-color="#00c900"/><stop offset=".8196" stop-color="#00c900"/><stop offset=".8211" stop-color="#13ff00"/><stop offset=".8256" stop-color="#13ff00"/><stop offset=".8271" stop-color="#00a000"/><stop offset=".8286" stop-color="#009ecd"/><stop offset=".8301" stop-color="#0087dd"/><stop offset=".8481" stop-color="#0075dd"/><stop offset=".869" stop-color="#0000dc"/><stop offset=".9064" stop-color="#0000b1"/><stop offset=".9094" stop-color="#0e00a8"/><stop offset=".9199" stop-color="#80009a"/><stop offset=".9993" stop-color="#810092"/></linearGradient>
<linearGradient id="g31" gradientUnits="userSpaceOnUse" x1="328.0" x2="595.0" y1="0" y2="0"><stop offset=".0007" stop-color="#00aa9c"/><stop offset=".0037" stop-color="#00aa9c"/><stop offset=".0052" stop-color="#000"/><stop offset=".0382" stop-color="#000"/><stop offset=".0397" stop-color="#830094"/><stop offset=".1325" stop-color="#81009a"/><stop offset=".1445" stop-color="#3e00a2"/><stop offset=".1519" stop-color="#0000ac"/><stop offset=".1624" stop-color="#0000d2"/><stop offset=".1699" stop-color="#0000dc"/><stop offset=".1819" stop-color="#0078dd"/><stop offset=".2148" stop-color="#009ad9"/><stop offset=".2358" stop-color="#00a7b2"/><stop offset=".2597" stop-color="#00a9ad"/><stop offset=".3466" stop-color="#00aaa2"/><stop offset=".4049" stop-color="#00aa92"/><stop offset=".4094" stop-color="#00a982"/><stop offset=".4154" stop-color="#00a244"/><stop offset=".4588" stop-color="#009b00"/><stop offset=".5292" stop-color="#00be00"/><stop offset=".6055" stop-color="#00ae00"/><stop offset=".6235" stop-color="#009a05"/><stop offset=".637" stop-color="#00a03a"/><stop offset=".6519" stop-color="#00aa8a"/><stop offset=".7148" stop-color="#00aa98"/><stop offset=".7388" stop-color="#0a9"/><stop offset=".7403" stop-color="#00c900"/><stop offset=".7433" stop-color="#00c900"/><stop offset=".7448" stop-color="#cff800"/><stop offset=".7478" stop-color="#cff800"/><stop offset=".7493" stop-color="#00a700"/><stop offset=".7582" stop-color="#00a700"/><stop offset=".7597" stop-color="#c5fc00"/><stop offset=".7672" stop-color="#c5fc00"/><stop offset=".7687" stop-color="#83ff00"/><stop offset=".7807" stop-color="#83ff00"/><stop offset=".7822" stop-color="#f0eb00"/><stop offset=".7882" stop-color="#f0eb00"/><stop offset=".7897" stop-color="#0d0"/><stop offset=".7957" stop-color="#0d0"/><stop offset=".7972" stop-color="#fad600"/><stop offset=".8061" stop-color="#fad600"/><stop offset=".8076" stop-color="#83ff00"/><stop offset=".8151" stop-color="#83ff00"/><stop offset=".8166" stop-color="#00cf00"/><stop offset=".8196" stop-color="#00cf00"/><stop offset=".8211" stop-color="#38ff00"/><stop offset=".8256" stop-color="#38ff00"/><stop offset=".8271" stop-color="#00a700"/><stop offset=".8286" stop-color="#009ecf"/><stop offset=".8301" stop-color="#0087dd"/><stop offset=".8481" stop-color="#0075dd"/><stop offset=".869" stop-color="#0000dc"/><stop offset=".9064" stop-color="#0000b1"/><stop offset=".9094" stop-color="#0e00a8"/><stop offset=".9199" stop-color="#80009a"/><stop offset=".9993" stop-color="#810092"/></linearGradient>
<linearGradient id="g32" gradientUnits="userSpaceOnUse" x1="328.0" x2="595.0" y1="0" y2="0"><stop offset=".0007" stop-color="#00aa9c"/><stop offset=".0037" stop-color="#00aa9c"/><stop offset=".0052" stop-color="#000"/><stop offset=".0382" stop-color="#000"/><stop offset=".0397" stop-color="#830094"/><stop offset=".1325" stop-color="#81009a"/><stop offset=".1445" stop-color="#3e00a2"/><stop offset=".1519" stop-color="#0000ac"/><stop offset=".1624" stop-color="#0000d2"/><stop offset=".1699" stop-color="#0000dc"/><stop offset=".1819" stop-color="#0078dd"/><stop offset=".2073" stop-color="#009ad9"/><stop offset=".2283" stop-color="#00aaa7"/><stop offset=".2582" stop-color="#00aa9a"/><stop offset=".3855" stop-color="#00aa89"/><stop offset=".3975" stop-color="#00a879"/><stop offset=".4004" stop-color="#00a982"/><stop offset=".4034" stop-color="#00a97d"/><stop offset=".4154" stop-color="#009b0e"/><stop offset=".4334" stop-color="#009d00"/><stop offset=".5292" stop-color="#0c0"/><stop offset=".5966" stop-color="#00be00"/><stop offset=".616" stop-color="#00a800"/><stop offset=".6325" stop-color="#009a07"/><stop offset=".6549" stop-color="#00aa89"/><stop offset=".7388" stop-color="#00aa93"/><stop offset=".7403" stop-color="#00c900"/><stop offset=".7433" stop-color="#00c900"/><stop offset=".7448" stop-color="#cff800"/><stop offset=".7478" stop-color="#cff800"/><stop offset=".7493" stop-color="#00a700"/><stop offset=".7582" stop-color="#00a700"/><stop offset=".7597" stop-color="#c5fc00"/><stop offset=".7672" stop-color="#c5fc00"/><stop offset=".7687" stop-color="#83ff00"/><stop offset=".7807" stop-color="#83ff00"/><stop offset=".7822" stop-color="#f0eb00"/><stop offset=".7882" stop-color="#f0eb00"/><stop offset=".7897" stop-color="#0d0"/><stop offset=".7957" stop-color="#0d0"/><stop offset=".7972" stop-color="#fad600"/><stop offset=".8061" stop-color="#fad600"/><stop offset=".8076" stop-color="#83ff00"/><stop offset=".8151" stop-color="#83ff00"/><stop offset=".8166" stop-color="#00cf00"/><stop offset=".8196" stop-color="#00cf00"/><stop offset=".8211" stop-color="#38ff00"/><stop offset=".8256" stop-color="#38ff00"/><stop offset=".8271" stop-color="#00a700"/><stop offset=".8286" stop-color="#009fcc"/><stop offset=".8301" stop-color="#0087dd"/><stop offset=".8481" stop-color="#0075dd"/><stop offset=".869" stop-color="#0000dc"/><stop offset=".9064" stop-color="#0000b1"/><stop offset=".9094" stop-color="#0e00a8"/><stop offset=".9199" stop-color="#80009a"/><stop offset=".9993" stop-color="#810092"/></linearGradient>
<linearGradient id="g33" gradientUnits="userSpaceOnUse" x1="328.0" x2="595.0" y1="0" y2="0"><stop offset=".0007" stop-color="#00aa9c"/><stop offset=".0037" stop-color="#00aa9c"/><stop offset=".0052" stop-color="#000"/><stop offset=".0382" stop-color="#000"/><stop offset=".0397" stop-color="#830094"/><stop offset=".128" stop-color="#840099"/><stop offset=".14" stop-color="#4500a1"/><stop offset=".1475" stop-color="#0300aa"/><stop offset=".1579" stop-color="#0000d1"/><stop offset=".1669" stop-color="#0004dd"/><stop offset=".1774" stop-color="#0073dd"/><stop offset=".1924" stop-color="#009bd8"/><stop offset=".2148" stop-color="#00aa9e"/><stop offset=".2358" stop-color="#00aa8c"/><stop offset=".2448" stop-color="#00aa8a"/><stop offset=".2478" stop-color="#00a66b"/><stop offset=".2582" stop-color="#00a664"/><stop offset=".2597" stop-color="#00aa89"/><stop offset=".2702" stop-color="#00aa87"/><stop offset=".2732" stop-color="#00a879"/><stop offset=".2747" stop-color="#00a45b"/><stop offset=".2867" stop-color="#00a55c"/><stop offset=".2882" stop-color="#00a878"/><stop offset=".3001" stop-color="#00a773"/><stop offset=".3016" stop-color="#00a456"/><stop offset=".3136" stop-color="#00a353"/><stop offset=".3151" stop-color="#00a76e"/><stop offset=".3271" stop-color="#00a668"/><stop offset=".3286" stop-color="#00a24b"/><stop offset=".3421" stop-color="#00a13f"/><stop offset=".3436" stop-color="#00a45b"/><stop offset=".3525" stop-color="#00a55f"/><stop offset=".3555" stop-color="#00a55c"/><stop offset=".357" stop-color="#00a13f"/><stop offset=".369" stop-color="#009f2f"/><stop offset=".3705" stop-color="#00a248"/><stop offset=".384" stop-color="#00a038"/><stop offset=".3855" stop-color="#009c1a"/><stop offset=".3975" stop-color="#009a04"/><stop offset=".399" stop-color="#009d1e"/><stop offset=".4034" stop-color="#009c17"/><stop offset=".4049" stop-color="#009902"/><stop offset=".4214" stop-color="#00ae00"/><stop offset=".4843" stop-color="#00c400"/><stop offset=".5352" stop-color="#00d600"/><stop offset=".61" stop-color="#00c600"/><stop offset=".6295" stop-color="#00a600"/><stop offset=".6385" stop-color="#090"/><stop offset=".6564" stop-color="#00a66a"/><stop offset=".6834" stop-color="#00aa85"/><stop offset=".7388" stop-color="#00aa8a"/><stop offset=".7403" stop-color="#00cf00"/><stop offset=".7433" stop-color="#00cf00"/><stop offset=".7448" stop-color="#daf500"/><stop offset=".7478" stop-color="#daf500"/><stop offset=".7493" stop-color="#00ad00"/><stop offset=".7582" stop-color="#00ad00"/><stop offset=".7597" stop-color="#cff800"/><stop offset=".7672" stop-color="#cff800"/><stop offset=".7687" stop-color="#a8ff00"/><stop offset=".7807" stop-color="#a8ff00"/><stop offset=".7822" stop-color="#f3e400"/><stop offset=".7882" stop-color="#f3e400"/><stop offset=".7897" stop-color="#00e400"/><stop offset=".7957" stop-color="#00e400"/><stop offset=".7972" stop-color="#fdcf00"/><stop offset=".8061" stop-color="#fdcf00"/><stop offset=".8076" stop-color="#a8ff00"/><stop offset=".8151" stop-color="#a8ff00"/><stop offset=".8166" stop-color="#00d600"/><stop offset=".8196" stop-color="#00d600"/><stop offset=".8211" stop-color="#5dff00"/><stop offset=".8256" stop-color="#5dff00"/><stop offset=".8271" stop-color="#00ad00"/><stop offset=".8286" stop-color="#00a0c7"/><stop offset=".8301" stop-color="#0087dd"/><stop offset=".8481" stop-color="#0075dd"/><stop offset=".869" stop-color="#0000dc"/><stop offset=".9064" stop-color="#0000b1"/><stop offset=".9094" stop-color="#0e00a8"/><stop offset=".9199" stop-color="#80009a"/><stop offset=".9993" stop-color="#810092"/></linearGradient>
<linearGradient id="g34" gradientUnits="userSpaceOnUse" x1="328.0" x2="595.0" y1="0" y2="0"><stop offset=".0007" stop-color="#810092"/><stop offset=".0037" stop-color="#810092"/><stop offset=".0052" stop-color="#000"/><stop offset=".0382" stop-color="#000"/><stop offset=".0397" stop-color="#830094"/><stop offset=".1295" stop-color="#860099"/><stop offset=".1415" stop-color="#4800a1"/><stop offset=".1504" stop-color="#0000ae"/><stop offset=".1609" stop-color="#0000d3"/><stop offset=".1684" stop-color="#00d"/><stop offset=".1789" stop-color="#0070dd"/><stop offset=".1924" stop-color="#008edd"/><stop offset=".2058" stop-color="#009cd3"/><stop offset=".2253" stop-color="#00aaa7"/><stop offset=".2582" stop-color="#00aa96"/><stop offset=".3795" stop-color="#00aa86"/><stop offset=".384" stop-color="#00a982"/><stop offset=".387" stop-color="#00a76f"/><stop offset=".3975" stop-color="#00a55d"/><stop offset=".4004" stop-color="#00a667"/><stop offset=".4034" stop-color="#00a562"/><stop offset=".4154" stop-color="#090"/><stop offset=".5292" stop-color="#00cf00"/><stop offset=".5966" stop-color="#00c100"/><stop offset=".616" stop-color="#0a0"/><stop offset=".6325" stop-color="#090"/><stop offset=".6549" stop-color="#0a8"/><stop offset=".7388" stop-color="#00aa92"/><stop offset=".7403" stop-color="#0d0"/><stop offset=".7433" stop-color="#0d0"/><stop offset=".7448" stop-color="#ee0"/><stop offset=".7478" stop-color="#ee0"/><stop offset=".7493" stop-color="#0b0"/><stop offset=".7582" stop-color="#0b0"/><stop offset=".7597" stop-color="#e4f100"/><stop offset=".7672" stop-color="#e4f100"/><stop offset=".7687" stop-color="#cafa00"/><stop offset=".7807" stop-color="#cafa00"/><stop offset=".7822" stop-color="#fad600"/><stop offset=".7882" stop-color="#fad600"/><stop offset=".7897" stop-color="#00f100"/><stop offset=".7957" stop-color="#00f100"/><stop offset=".7972" stop-color="#ffbd00"/><stop offset=".8061" stop-color="#ffbd00"/><stop offset=".8076" stop-color="#cafa00"/><stop offset=".8151" stop-color="#cafa00"/><stop offset=".8166" stop-color="#00e400"/><stop offset=".8196" stop-color="#00e400"/><stop offset=".8211" stop-color="#a8ff00"/><stop offset=".8256" stop-color="#a8ff00"/><stop offset=".8271" stop-color="#0b0"/><stop offset=".8286" stop-color="#009fcb"/><stop offset=".8301" stop-color="#0087dd"/><stop offset=".8481" stop-color="#0075dd"/><stop offset=".869" stop-color="#0000dc"/><stop offset=".9064" stop-color="#0000b1"/><stop offset=".9094" stop-color="#0e00a8"/><stop offset=".9199" stop-color="#80009a"/><stop offset=".9993" stop-color="#810092"/></linearGradient>
<linearGradient id="g35" gradientUnits="userSpaceOnUse" x1="328.0" x2="595.0" y1="0" y2="0"><stop offset=".0007" stop-color="#810092"/><stop offset=".0037" stop-color="#810092"/><stop offset=".0052" stop-color="#000"/><stop offset=".0382" stop-color="#000"/><stop offset=".0397" stop-color="#830094"/><stop offset=".1325" stop-color="#81009a"/><stop offset=".1445" stop-color="#3e00a2"/><stop offset=".1519" stop-color="#0000ac"/><stop offset=".1624" stop-color="#0000d2"/><stop offset=".1699" stop-color="#0000dc"/><stop offset=".1819" stop-color="#0078dd"/><stop offset=".2133" stop-color="#009bd8"/><stop offset=".2313" stop-color="#00a8b0"/><stop offset=".2597" stop-color="#00aaa9"/><stop offset=".384" stop-color="#00aa94"/><stop offset=".4049" stop-color="#00aa89"/><stop offset=".4154" stop-color="#00a036"/><stop offset=".4528" stop-color="#009b00"/><stop offset=".5292" stop-color="#00c200"/><stop offset=".6055" stop-color="#00b100"/><stop offset=".6265" stop-color="#009a08"/><stop offset=".637" stop-color="#00a034"/><stop offset=".6519" stop-color="#00aa89"/><stop offset=".7253" stop-color="#00aa97"/><stop offset=".7388" stop-color="#00aa98"/><stop offset=".7403" stop-color="#0d0"/><stop offset=".7433" stop-color="#0d0"/><stop offset=".7448" stop-color="#ee0"/><stop offset=".7478" stop-color="#ee0"/><stop offset=".7493" stop-color="#0b0"/><stop offset=".7582" stop-color="#0b0"/><stop offset=".7597" stop-color="#e4f100"/><stop offset=".7672" stop-color="#e4f100"/><stop offset=".7687" stop-color="#cafa00"/><stop offset=".7807" stop-color="#cafa00"/><stop offset=".7822" stop-color="#fad600"/><stop offset=".7882" stop-color="#fad600"/><stop offset=".7897" stop-color="#00f100"/><stop offset=".7957" stop-color="#00f100"/><stop offset=".7972" stop-color="#ffbd00"/><stop offset=".8061" stop-color="#ffbd00"/><stop offset=".8076" stop-color="#cafa00"/><stop offset=".8151" stop-color="#cafa00"/><stop offset=".8166" stop-color="#00e400"/><stop offset=".8196" stop-color="#00e400"/><stop offset=".8211" stop-color="#a8ff00"/><stop offset=".8256" stop-color="#a8ff00"/><stop offset=".8271" stop-color="#0b0"/><stop offset=".8286" stop-color="#009ece"/><stop offset=".8301" stop-color="#0087dd"/><stop offset=".8481" stop-color="#0075dd"/><stop offset=".869" stop-color="#0000dc"/><stop offset=".9064" stop-color="#0000b1"/><stop offset=".9094" stop-color="#0e00a8"/><stop offset=".9199" stop-color="#80009a"/><stop offset=".9993" stop-color="#810092"/></linearGradient>
<linearGradient id="g36" gradientUnits="userSpaceOnUse" x1="328.0" x2="595.0" y1="0" y2="0"><stop offset=".0007" stop-color="#810092"/><stop offset=".0037" stop-color="#810092"/><stop offset=".0052" stop-color="#000"/><stop offset=".0382" stop-color="#000"/><stop offset=".0397" stop-color="#830094"/><stop offset=".1295" stop-color="#860099"/><stop offset=".1415" stop-color="#4800a1"/><stop offset=".1504" stop-color="#0000ae"/><stop offset=".1609" stop-color="#0000d3"/><stop offset=".1684" stop-color="#00d"/><stop offset=".1789" stop-color="#0070dd"/><stop offset=".1969" stop-color="#009ada"/><stop offset=".2238" stop-color="#00aa9e"/><stop offset=".2582" stop-color="#00aa8c"/><stop offset=".3001" stop-color="#00aa8a"/><stop offset=".3136" stop-color="#00a980"/><stop offset=".3196" stop-color="#00aa89"/><stop offset=".3271" stop-color="#0a8"/><stop offset=".3301" stop-color="#00a879"/><stop offset=".3421" stop-color="#00a772"/><stop offset=".3451" stop-color="#00a97e"/><stop offset=".3555" stop-color="#00a876"/><stop offset=".3585" stop-color="#00a561"/><stop offset=".369" stop-color="#00a353"/><stop offset=".372" stop-color="#00a45a"/><stop offset=".384" stop-color="#00a142"/><stop offset=".3855" stop-color="#009f30"/><stop offset=".3975" stop-color="#009c19"/><stop offset=".4004" stop-color="#009d23"/><stop offset=".4049" stop-color="#009b12"/><stop offset=".4094" stop-color="#009b00"/><stop offset=".5292" stop-color="#00da00"/><stop offset=".5891" stop-color="#00cd00"/><stop offset=".6145" stop-color="#00b400"/><stop offset=".6355" stop-color="#090"/><stop offset=".6564" stop-color="#00a87a"/><stop offset=".6819" stop-color="#00aa8b"/><stop offset=".7388" stop-color="#00aa8e"/><stop offset=".7403" stop-color="#0d0"/><stop offset=".7433" stop-color="#0d0"/><stop offset=".7448" stop-color="#ee0"/><stop offset=".7478" stop-color="#ee0"/><stop offset=".7493" stop-color="#0b0"/><stop offset=".7582" stop-color="#0b0"/><stop offset=".7597" stop-color="#e4f100"/><stop offset=".7672" stop-color="#e4f100"/><stop offset=".7687" stop-color="#cafa00"/><stop offset=".7807" stop-color="#cafa00"/><stop offset=".7822" stop-color="#fad600"/><stop offset=".7882" stop-color="#fad600"/><stop offset=".7897" stop-color="#00f100"/><stop offset=".7957" stop-color="#00f100"/><stop offset=".7972" stop-color="#ffbd00"/><stop offset=".8061" stop-color="#ffbd00"/><stop offset=".8076" stop-color="#cafa00"/><stop offset=".8151" stop-color="#cafa00"/><stop offset=".8166" stop-color="#00e400"/><stop offset=".8196" stop-color="#00e400"/><stop offset=".8211" stop-color="#a8ff00"/><stop offset=".8256" stop-color="#a8ff00"/><stop offset=".8271" stop-color="#0b0"/><stop offset=".8286" stop-color="#00a0c9"/><stop offset=".8301" stop-color="#0087dd"/><stop offset=".8481" stop-color="#0075dd"/><stop offset=".869" stop-color="#0000dc"/><stop offset=".9064" stop-color="#0000b1"/><stop offset=".9094" stop-color="#0e00a8"/><stop offset=".9199" stop-color="#80009a"/><stop offset=".9993" stop-color="#810092"/></linearGradient>
<linearGradient id="g37" gradientUnits="userSpaceOnUse" x1="328.0" x2="595.0" y1="0" y2="0"><stop offset=".0007" stop-color="#810092"/><stop offset=".0037" stop-color="#810092"/><stop offset=".0052" stop-color="#000"/><stop offset=".0382" stop-color="#000"/><stop offset=".0397" stop-color="#830094"/><stop offset=".1325" stop-color="#81009a"/><stop offset=".1445" stop-color="#3e00a2"/><stop offset=".1519" stop-color="#0000ac"/><stop offset=".1624" stop-color="#0000d2"/><stop offset=".1699" stop-color="#0000dc"/><stop offset=".1819" stop-color="#0078dd"/><stop offset=".2013" stop-color="#009cd4"/><stop offset=".2238" stop-color="#00aa9e"/><stop offset=".2463" stop-color="#00aa8d"/><stop offset=".2582" stop-color="#00aa89"/><stop offset=".2612" stop-color="#00aa93"/><stop offset=".2732" stop-color="#00aa8e"/><stop offset=".2792" stop-color="#00a981"/><stop offset=".2867" stop-color="#00aa85"/><stop offset=".2927" stop-color="#00aa8d"/><stop offset=".3001" stop-color="#00aa8d"/><stop offset=".3031" stop-color="#00a97e"/><stop offset=".3136" stop-color="#00a87b"/><stop offset=".3151" stop-color="#00aa8c"/><stop offset=".3271" stop-color="#00aa8a"/><stop offset=".3286" stop-color="#00a774"/><stop offset=".3421" stop-color="#00a668"/><stop offset=".3436" stop-color="#00aa84"/><stop offset=".3555" stop-color="#00a983"/><stop offset=".357" stop-color="#00a665"/><stop offset=".369" stop-color="#00a351"/><stop offset=".3705" stop-color="#00a66a"/><stop offset=".384" stop-color="#00a455"/><stop offset=".3855" stop-color="#00a036"/><stop offset=".3975" stop-color="#009d20"/><stop offset=".399" stop-color="#00a039"/><stop offset=".4004" stop-color="#00a037"/><stop offset=".4019" stop-color="#daf500"/><stop offset=".4064" stop-color="#daf500"/><stop offset=".4079" stop-color="#009a0a"/><stop offset=".4124" stop-color="#009e00"/><stop offset=".5262" stop-color="#0d0"/><stop offset=".5846" stop-color="#00d200"/><stop offset=".6145" stop-color="#00b400"/><stop offset=".6355" stop-color="#090"/><stop offset=".6564" stop-color="#00a87a"/><stop offset=".6819" stop-color="#00aa8b"/><stop offset=".7388" stop-color="#00aa8e"/><stop offset=".7403" stop-color="#0d0"/><stop offset=".7433" stop-color="#0d0"/><stop offset=".7448" stop-color="#ee0"/><stop offset=".7478" stop-color="#ee0"/><stop offset=".7493" stop-color="#0b0"/><stop offset=".7582" stop-color="#0b0"/><stop offset=".7597" stop-color="#e4f100"/><stop offset=".7672" stop-color="#e4f100"/><stop offset=".7687" stop-color="#cafa00"/><stop offset=".7807" stop-color="#cafa00"/><stop offset=".7822" stop-color="#fad600"/><stop offset=".7882" stop-color="#fad600"/><stop offset=".7897" stop-color="#00f100"/><stop offset=".7957" stop-color="#00f100"/><stop offset=".7972" stop-color="#ffbd00"/><stop offset=".8061" stop-color="#ffbd00"/><stop offset=".8076" stop-color="#cafa00"/><stop offset=".8151" stop-color="#cafa00"/><stop offset=".8166" stop-color="#00e400"/><stop offset=".8196" stop-color="#00e400"/><stop offset=".8211" stop-color="#a8ff00"/><stop offset=".8256" stop-color="#a8ff00"/><stop offset=".8271" stop-color="#0b0"/><stop offset=".8286" stop-color="#00a0c9"/><stop offset=".8301" stop-color="#0087dd"/><stop offset=".8481" stop-color="#0075dd"/><stop offset=".869" stop-color="#0000dc"/><stop offset=".9064" stop-color="#0000b1"/><stop offset=".9094" stop-color="#0e00a8"/><stop offset=".9199" stop-color="#80009a"/><stop offset=".9993" stop-color="#810092"/></linearGradient>
<linearGradient id="g38" gradientUnits="userSpaceOnUse" x1="328.0" x2="595.0" y1="0" y2="0"><stop offset=".0007" stop-color="#810092"/><stop offset=".0037" stop-color="#810092"/><stop offset=".0052" stop-color="#000"/><stop offset=".0382" stop-color="#000"/><stop offset=".0397" stop-color="#830094"/><stop offset=".1295" stop-color="#860099"/><stop offset=".1415" stop-color="#4800a1"/><stop offset=".1504" stop-color="#0000ae"/><stop offset=".1609" stop-color="#0000d3"/><stop offset=".1684" stop-color="#00d"/><stop offset=".1789" stop-color="#0070dd"/><stop offset=".1939" stop-color="#0092dd"/><stop offset=".2073" stop-color="#009fca"/><stop offset=".2253" stop-color="#00aaa3"/><stop offset=".2582" stop-color="#00aa93"/><stop offset=".3555" stop-color="#00aa8a"/><stop offset=".3615" stop-color="#00a875"/><stop offset=".369" stop-color="#00a668"/><stop offset=".372" stop-color="#00a76e"/><stop offset=".384" stop-color="#00a351"/><stop offset=".387" stop-color="#00a03b"/><stop offset=".3975" stop-color="#009e27"/><stop offset=".399" stop-color="#009f33"/><stop offset=".4064" stop-color="#009c1a"/><stop offset=".4139" stop-color="#009b00"/><stop offset=".5262" stop-color="#00da00"/><stop offset=".5831" stop-color="#00cf00"/><stop offset=".6145" stop-color="#00b000"/><stop offset=".634" stop-color="#009902"/><stop offset=".6564" stop-color="#00aa85"/><stop offset=".7388" stop-color="#00aa91"/><stop offset=".7403" stop-color="#0d0"/><stop offset=".7433" stop-color="#0d0"/><stop offset=".7448" stop-color="#ee0"/><stop offset=".7478" stop-color="#ee0"/><stop offset=".7493" stop-color="#0b0"/><stop offset=".7582" stop-color="#0b0"/><stop offset=".7597" stop-color="#e4f100"/><stop offset=".7672" stop-color="#e4f100"/><stop offset=".7687" stop-color="#cafa00"/><stop offset=".7807" stop-color="#cafa00"/><stop offset=".7822" stop-color="#fad600"/><stop offset=".7882" stop-color="#fad600"/><stop offset=".7897" stop-color="#00f100"/><stop offset=".7957" stop-color="#00f100"/><stop offset=".7972" stop-color="#ffbd00"/><stop offset=".8061" stop-color="#ffbd00"/><stop offset=".8076" stop-color="#cafa00"/><stop offset=".8151" stop-color="#cafa00"/><stop offset=".8166" stop-color="#00e400"/><stop offset=".8196" stop-color="#00e400"/><stop offset=".8211" stop-color="#a8ff00"/><stop offset=".8256" stop-color="#a8ff00"/><stop offset=".8271" stop-color="#0b0"/><stop offset=".8286" stop-color="#009fca"/><stop offset=".8301" stop-color="#0087dd"/><stop offset=".8481" stop-color="#0075dd"/><stop offset=".869" stop-color="#0000dc"/><stop offset=".9064" stop-color="#0000b1"/><stop offset=".9094" stop-color="#0e00a8"/><stop offset=".9199" stop-color="#80009a"/><stop offset=".9993" stop-color="#810092"/></linearGradient>
<linearGradient id="g39" gradientUnits="userSpaceOnUse" x1="328.0" x2="595.0" y1="0" y2="0"><stop offset=".0007" stop-color="#810092"/><stop offset=".0037" stop-color="#810092"/><stop offset=".0052" stop-color="#000"/><stop offset=".0382" stop-color="#000"/><stop offset=".0397" stop-color="#830094"/><stop offset=".134" stop-color="#83009a"/><stop offset=".146" stop-color="#4100a2"/><stop offset=".1534" stop-color="#00a"/><stop offset=".1624" stop-color="#0000d0"/><stop offset=".1729" stop-color="#0008dd"/><stop offset=".1834" stop-color="#07d"/><stop offset=".2088" stop-color="#009cd5"/><stop offset=".2283" stop-color="#00aaa5"/><stop offset=".2597" stop-color="#00aa9b"/><stop offset=".3615" stop-color="#00aa87"/><stop offset=".369" stop-color="#00a87b"/><stop offset=".372" stop-color="#00a983"/><stop offset=".384" stop-color="#00a66b"/><stop offset=".3855" stop-color="#00a459"/><stop offset=".3975" stop-color="#00a142"/><stop offset=".399" stop-color="#00a34e"/><stop offset=".4049" stop-color="#00a03a"/><stop offset=".4154" stop-color="#090"/><stop offset=".5247" stop-color="#00da00"/><stop offset=".5831" stop-color="#00cf00"/><stop offset=".6145" stop-color="#00ad00"/><stop offset=".6325" stop-color="#090"/><stop offset=".6549" stop-color="#0a8"/><stop offset=".7388" stop-color="#00aa92"/><stop offset=".7403" stop-color="#0d0"/><stop offset=".7433" stop-color="#0d0"/><stop offset=".7448" stop-color="#ee0"/><stop offset=".7478" stop-color="#ee0"/><stop offset=".7493" stop-color="#0b0"/><stop offset=".7582" stop-color="#0b0"/><stop offset=".7597" stop-color="#e4f100"/><stop offset=".7672" stop-color="#e4f100"/><stop offset=".7687" stop-color="#cafa00"/><stop offset=".7807" stop-color="#cafa00"/><stop offset=".7822" stop-color="#fad600"/><stop offset=".7882" stop-color="#fad600"/><stop offset=".7897" stop-color="#00f100"/><stop offset=".7957" stop-color="#00f100"/><stop offset=".7972" stop-color="#ffbd00"/><stop offset=".8061" stop-color="#ffbd00"/><stop offset=".8076" stop-color="#cafa00"/><stop offset=".8151" stop-color="#cafa00"/><stop offset=".8166" stop-color="#00e400"/><stop offset=".8196" stop-color="#00e400"/><stop offset=".8211" stop-color="#a8ff00"/><stop offset=".8256" stop-color="#a8ff00"/><stop offset=".8271" stop-color="#0b0"/><stop offset=".8286" stop-color="#009fcb"/><stop offset=".8301" stop-color="#0087dd"/><stop offset=".8481" stop-color="#0075dd"/><stop offset=".869" stop-color="#0000dc"/><stop offset=".9064" stop-color="#0000b1"/><stop offset=".9094" stop-color="#0e00a8"/><stop offset=".9199" stop-color="#80009a"/><stop offset=".9993" stop-color="#810092"/></linearGradient>
<linearGradient id="g40" gradientUnits="userSpaceOnUse" x1="328.0" x2="595.0" y1="0" y2="0"><stop offset=".0007" stop-color="#810092"/><stop offset=".0037" stop-color="#810092"/><stop offset=".0052" stop-color="#000"/><stop offset=".0382" stop-color="#000"/><stop offset=".0397" stop-color="#830094"/><stop offset=".1355" stop-color="#840099"/><stop offset=".1475" stop-color="#4500a1"/><stop offset=".1549" stop-color="#0300aa"/><stop offset=".1654" stop-color="#0000d1"/><stop offset=".1744" stop-color="#0004dd"/><stop offset=".1849" stop-color="#0073dd"/><stop offset=".2058" stop-color="#009bd6"/><stop offset=".2283" stop-color="#00aaa0"/><stop offset=".2582" stop-color="#00aa8f"/><stop offset=".3331" stop-color="#00aa86"/><stop offset=".3421" stop-color="#00a97f"/><stop offset=".3466" stop-color="#00aa89"/><stop offset=".3555" stop-color="#00a97e"/><stop offset=".3585" stop-color="#00a668"/><stop offset=".369" stop-color="#00a354"/><stop offset=".372" stop-color="#00a459"/><stop offset=".384" stop-color="#00a038"/><stop offset=".3855" stop-color="#009e25"/><stop offset=".3975" stop-color="#009a0c"/><stop offset=".4004" stop-color="#009c15"/><stop offset=".4094" stop-color="#009b00"/><stop offset=".5292" stop-color="#00da00"/><stop offset=".5876" stop-color="#00cd00"/><stop offset=".6145" stop-color="#00b200"/><stop offset=".6355" stop-color="#009a05"/><stop offset=".6564" stop-color="#00a97f"/><stop offset=".6909" stop-color="#00aa8d"/><stop offset=".7388" stop-color="#00aa8f"/><stop offset=".7403" stop-color="#00e400"/><stop offset=".7433" stop-color="#00e400"/><stop offset=".7448" stop-color="#f1e700"/><stop offset=".7478" stop-color="#f1e700"/><stop offset=".7493" stop-color="#00c200"/><stop offset=".7582" stop-color="#00c200"/><stop offset=".7597" stop-color="#ee0"/><stop offset=".7672" stop-color="#ee0"/><stop offset=".7687" stop-color="#d4f600"/><stop offset=".7807" stop-color="#d4f600"/><stop offset=".7822" stop-color="#fdcf00"/><stop offset=".7882" stop-color="#fdcf00"/><stop offset=".7897" stop-color="#00f800"/><stop offset=".7957" stop-color="#00f800"/><stop offset=".7972" stop-color="#ffb200"/><stop offset=".8061" stop-color="#ffb200"/><stop offset=".8076" stop-color="#d4f600"/><stop offset=".8151" stop-color="#d4f600"/><stop offset=".8166" stop-color="#00eb00"/><stop offset=".8196" stop-color="#00eb00"/><stop offset=".8211" stop-color="#c0fd00"/><stop offset=".8256" stop-color="#c0fd00"/><stop offset=".8271" stop-color="#00c200"/><stop offset=".8286" stop-color="#009fca"/><stop offset=".8301" stop-color="#0087dd"/><stop offset=".8481" stop-color="#0075dd"/><stop offset=".869" stop-color="#0000dc"/><stop offset=".9064" stop-color="#0000b1"/><stop offset=".9094" stop-color="#0e00a8"/><stop offset=".9199" stop-color="#80009a"/><stop offset=".9993" stop-color="#810092"/></linearGradient>
<linearGradient id="g41" gradientUnits="userSpaceOnUse" x1="328.0" x2="595.0" y1="0" y2="0"><stop offset=".0007" stop-color="#810092"/><stop offset=".0037" stop-color="#810092"/><stop offset=".0052" stop-color="#000"/><stop offset=".0382" stop-color="#000"/><stop offset=".0397" stop-color="#830094"/><stop offset=".137" stop-color="#860099"/><stop offset=".149" stop-color="#4800a1"/><stop offset=".1579" stop-color="#0000ae"/><stop offset=".1684" stop-color="#0000d3"/><stop offset=".1759" stop-color="#00d"/><stop offset=".1864" stop-color="#0070dd"/><stop offset=".1954" stop-color="#0084dd"/><stop offset=".2178" stop-color="#0099dc"/><stop offset=".2358" stop-color="#00a9ad"/><stop offset=".3481" stop-color="#00aa9e"/><stop offset=".4004" stop-color="#00aa8d"/><stop offset=".4019" stop-color="#00f100"/><stop offset=".4064" stop-color="#00f100"/><stop offset=".4079" stop-color="#00a772"/><stop offset=".4169" stop-color="#009f32"/><stop offset=".4364" stop-color="#009a00"/><stop offset=".5217" stop-color="#00d300"/><stop offset=".5801" stop-color="#00c900"/><stop offset=".616" stop-color="#00a200"/><stop offset=".6265" stop-color="#009a08"/><stop offset=".637" stop-color="#00a034"/><stop offset=".6519" stop-color="#00aa89"/><stop offset=".7253" stop-color="#00aa97"/><stop offset=".7388" stop-color="#00aa98"/><stop offset=".7403" stop-color="#00e400"/><stop offset=".7433" stop-color="#00e400"/><stop offset=".7448" stop-color="#f1e700"/><stop offset=".7478" stop-color="#f1e700"/><stop offset=".7493" stop-color="#00c200"/><stop offset=".7582" stop-color="#00c200"/><stop offset=".7597" stop-color="#ee0"/><stop offset=".7672" stop-color="#ee0"/><stop offset=".7687" stop-color="#d4f600"/><stop offset=".7807" stop-color="#d4f600"/><stop offset=".7822" stop-color="#fdcf00"/><stop offset=".7882" stop-color="#fdcf00"/><stop offset=".7897" stop-color="#00f800"/><stop offset=".7957" stop-color="#00f800"/><stop offset=".7972" stop-color="#ffb200"/><stop offset=".8061" stop-color="#ffb200"/><stop offset=".8076" stop-color="#d4f600"/><stop offset=".8151" stop-color="#d4f600"/><stop offset=".8166" stop-color="#00eb00"/><stop offset=".8196" stop-color="#00eb00"/><stop offset=".8211" stop-color="#c0fd00"/><stop offset=".8256" stop-color="#c0fd00"/><stop offset=".8271" stop-color="#00c200"/><stop offset=".8286" stop-color="#009ece"/><stop offset=".8301" stop-color="#0087dd"/><stop offset=".8481" stop-color="#0075dd"/><stop offset=".869" stop-color="#0000dc"/><stop offset=".9064" stop-color="#0000b1"/><stop offset=".9094" stop-color="#0e00a8"/><stop offset=".9199" stop-color="#80009a"/><stop offset=".9993" stop-color="#810092"/></linearGradient>
<linearGradient id="g42" gradientUnits="userSpaceOnUse" x1="328.0" x2="595.0" y1="0" y2="0"><stop offset=".0007" stop-color="#810092"/><stop offset=".0037" stop-color="#810092"/><stop offset=".0052" stop-color="#000"/><stop offset=".0382" stop-color="#000"/><stop offset=".0397" stop-color="#830094"/><stop offset=".137" stop-color="#860099"/><stop offset=".149" stop-color="#4800a1"/><stop offset=".1579" stop-color="#0000ae"/><stop offset=".1684" stop-color="#0000d3"/><stop offset=".1759" stop-color="#00d"/><stop offset=".1864" stop-color="#0070dd"/><stop offset=".1999" stop-color="#008edd"/><stop offset=".2133" stop-color="#009cd3"/><stop offset=".2328" stop-color="#00aaa3"/><stop offset=".2612" stop-color="#00aa9b"/><stop offset=".3585" stop-color="#00aa87"/><stop offset=".369" stop-color="#00a875"/><stop offset=".372" stop-color="#00a87b"/><stop offset=".384" stop-color="#00a55f"/><stop offset=".387" stop-color="#00a249"/><stop offset=".3975" stop-color="#00a035"/><stop offset=".4004" stop-color="#00a13e"/><stop offset=".4109" stop-color="#009b14"/><stop offset=".4169" stop-color="#009a00"/><stop offset=".5262" stop-color="#00d600"/><stop offset=".5846" stop-color="#00cb00"/><stop offset=".6145" stop-color="#00ad00"/><stop offset=".6325" stop-color="#090"/><stop offset=".6549" stop-color="#0a8"/><stop offset=".7388" stop-color="#00aa92"/><stop offset=".7403" stop-color="#00eb00"/><stop offset=".7433" stop-color="#00eb00"/><stop offset=".7448" stop-color="#f5e000"/><stop offset=".7478" stop-color="#f5e000"/><stop offset=".7493" stop-color="#00c900"/><stop offset=".7582" stop-color="#00c900"/><stop offset=".7597" stop-color="#f1e700"/><stop offset=".7672" stop-color="#f1e700"/><stop offset=".7687" stop-color="#dff300"/><stop offset=".7807" stop-color="#dff300"/><stop offset=".7822" stop-color="#ffc700"/><stop offset=".7882" stop-color="#ffc700"/><stop offset=".7897" stop-color="#0f0"/><stop offset=".7957" stop-color="#0f0"/><stop offset=".7972" stop-color="#ffa800"/><stop offset=".8061" stop-color="#ffa800"/><stop offset=".8076" stop-color="#dff300"/><stop offset=".8151" stop-color="#dff300"/><stop offset=".8166" stop-color="#00f100"/><stop offset=".8196" stop-color="#00f100"/><stop offset=".8211" stop-color="#cafa00"/><stop offset=".8256" stop-color="#cafa00"/><stop offset=".8271" stop-color="#00c900"/><stop offset=".8286" stop-color="#009fcb"/><stop offset=".8301" stop-color="#0087dd"/><stop offset=".8481" stop-color="#0075dd"/><stop offset=".869" stop-color="#0000dc"/><stop offset=".9064" stop-color="#0000b1"/><stop offset=".9094" stop-color="#0e00a8"/><stop offset=".9199" stop-color="#80009a"/><stop offset=".9993" stop-color="#810092"/></linearGradient>
<linearGradient id="g43" gradientUnits="userSpaceOnUse" x1="328.0" x2="595.0" y1="0" y2="0"><stop offset=".0007" stop-color="#810092"/><stop offset=".0037" stop-color="#810092"/><stop offset=".0052" stop-color="#000"/><stop offset=".0382" stop-color="#000"/><stop offset=".0397" stop-color="#830094"/><stop offset=".137" stop-color="#860099"/><stop offset=".149" stop-color="#4800a1"/><stop offset=".1579" stop-color="#0000ae"/><stop offset=".1684" stop-color="#0000d3"/><stop offset=".1759" stop-color="#00d"/><stop offset=".1864" stop-color="#0070dd"/><stop offset=".2043" stop-color="#0098dd"/><stop offset=".2313" stop-color="#00aa9c"/><stop offset=".2672" stop-color="#00aa93"/><stop offset=".3331" stop-color="#00aa86"/><stop offset=".3421" stop-color="#00a97f"/><stop offset=".3466" stop-color="#00aa89"/><stop offset=".3555" stop-color="#00a97e"/><stop offset=".3585" stop-color="#00a668"/><stop offset=".369" stop-color="#00a354"/><stop offset=".372" stop-color="#00a459"/><stop offset=".384" stop-color="#00a038"/><stop offset=".3855" stop-color="#009e25"/><stop offset=".3975" stop-color="#009a0c"/><stop offset=".4004" stop-color="#009c15"/><stop offset=".4094" stop-color="#009b00"/><stop offset=".5292" stop-color="#00da00"/><stop offset=".5876" stop-color="#00cd00"/><stop offset=".6145" stop-color="#00b200"/><stop offset=".6355" stop-color="#009a05"/><stop offset=".6564" stop-color="#00a97f"/><stop offset=".6909" stop-color="#00aa8d"/><stop offset=".7388" stop-color="#00aa8f"/><stop offset=".7403" stop-color="#00eb00"/><stop offset=".7433" stop-color="#00eb00"/><stop offset=".7448" stop-color="#f5e000"/><stop offset=".7478" stop-color="#f5e000"/><stop offset=".7493" stop-color="#00c900"/><stop offset=".7582" stop-color="#00c900"/><stop offset=".7597" stop-color="#f1e700"/><stop offset=".7672" stop-color="#f1e700"/><stop offset=".7687" stop-color="#dff300"/><stop offset=".7807" stop-color="#dff300"/><stop offset=".7822" stop-color="#ffc700"/><stop offset=".7882" stop-color="#ffc700"/><stop offset=".7897" stop-color="#0f0"/><stop offset=".7957" stop-color="#0f0"/><stop offset=".7972" stop-color="#ffa800"/><stop offset=".8061" stop-color="#ffa800"/><stop offset=".8076" stop-color="#dff300"/><stop offset=".8151" stop-color="#dff300"/><stop offset=".8166" stop-color="#00f100"/><stop offset=".8196" stop-color="#00f100"/><stop offset=".8211" stop-color="#cafa00"/><stop offset=".8256" stop-color="#cafa00"/><stop offset=".8271" stop-color="#00c900"/><stop offset=".8286" stop-color="#009fca"/><stop offset=".8301" stop-color="#0087dd"/><stop offset=".8481" stop-color="#0075dd"/><stop offset=".869" stop-color="#0000dc"/><stop offset=".9064" stop-color="#0000b1"/><stop offset=".9094" stop-color="#0e00a8"/><stop offset=".9199" stop-color="#80009a"/><stop offset=".9993" stop-color="#810092"/></linearGradient>
<linearGradient id="g44" gradientUnits="userSpaceOnUse" x1="328.0" x2="595.0" y1="0" y2="0"><stop offset=".0007" stop-color="#00aa9c"/><stop offset=".0037" stop-color="#00aa9c"/><stop offset=".0052" stop-color="#000"/><stop offset=".0382" stop-color="#000"/><stop offset=".0397" stop-color="#7a008b"/><stop offset=".0651" stop-color="#760087"/><stop offset=".0681" stop-color="#5d006a"/><stop offset=".0786" stop-color="#580064"/><stop offset=".0801" stop-color="#700080"/><stop offset=".0921" stop-color="#750086"/><stop offset=".0936" stop-color="#5c0069"/><stop offset=".107" stop-color="#540060"/><stop offset=".1085" stop-color="#6d007d"/><stop offset=".1205" stop-color="#710082"/><stop offset=".122" stop-color="#590065"/><stop offset=".134" stop-color="#53005f"/><stop offset=".1355" stop-color="#6c007b"/><stop offset=".1475" stop-color="#6c007b"/><stop offset=".149" stop-color="#570064"/><stop offset=".1609" stop-color="#5c0069"/><stop offset=".1624" stop-color="#750085"/><stop offset=".1714" stop-color="#6c007c"/><stop offset=".1759" stop-color="#5d006a"/><stop offset=".1774" stop-color="#42004c"/><stop offset=".1864" stop-color="#380040"/><stop offset=".1879" stop-color="#460050"/><stop offset=".2193" stop-color="#000"/><stop offset=".3316" stop-color="#060007"/><stop offset=".3406" stop-color="#18001b"/><stop offset=".3555" stop-color="#100013"/><stop offset=".369" stop-color="#19001d"/><stop offset=".384" stop-color="#140016"/><stop offset=".3975" stop-color="#1c0020"/><stop offset=".4124" stop-color="#1c0020"/><stop offset=".4394" stop-color="#1b001e"/><stop offset=".4528" stop-color="#220027"/><stop offset=".4663" stop-color="#1b001e"/><stop offset=".4798" stop-color="#200025"/><stop offset=".4903" stop-color="#1a001e"/><stop offset=".5217" stop-color="#1d0021"/><stop offset=".5352" stop-color="#25002b"/><stop offset=".5501" stop-color="#200025"/><stop offset=".5636" stop-color="#2a0030"/><stop offset=".5771" stop-color="#27002d"/><stop offset=".5906" stop-color="#320039"/><stop offset=".604" stop-color="#300037"/><stop offset=".6205" stop-color="#380041"/><stop offset=".6475" stop-color="#45004f"/><stop offset=".6744" stop-color="#590065"/><stop offset=".7298" stop-color="#6a0079"/><stop offset=".7433" stop-color="#650073"/><stop offset=".7567" stop-color="#690078"/><stop offset=".7717" stop-color="#640072"/><stop offset=".8121" stop-color="#690078"/><stop offset=".8271" stop-color="#640073"/><stop offset=".8406" stop-color="#690078"/><stop offset=".854" stop-color="#640072"/><stop offset=".8675" stop-color="#680077"/><stop offset=".8825" stop-color="#590066"/><stop offset=".9094" stop-color="#4e0059"/><stop offset=".9229" stop-color="#50005c"/><stop offset=".9364" stop-color="#480052"/><stop offset=".9513" stop-color="#4f005a"/><stop offset=".9648" stop-color="#460050"/><stop offset=".9783" stop-color="#4d0058"/><stop offset=".9933" stop-color="#460050"/><stop offset=".9993" stop-color="#4a0054"/></linearGradient>
<linearGradient id="g45" gradientUnits="userSpaceOnUse" x1="328.0" x2="595.0" y1="0" y2="0"><stop offset=".0007" stop-color="#000"/><stop offset=".0382" stop-color="#000"/><stop offset=".0397" stop-color="#460050"/><stop offset=".0516" stop-color="#310038"/><stop offset=".0651" stop-color="#34003c"/><stop offset=".0666" stop-color="#28002d"/><stop offset=".0786" stop-color="#25002a"/><stop offset=".0816" stop-color="#310038"/><stop offset=".0921" stop-color="#34003b"/><stop offset=".0951" stop-color="#27002d"/><stop offset=".107" stop-color="#230028"/><stop offset=".11" stop-color="#2f0036"/><stop offset=".1205" stop-color="#310038"/><stop offset=".1235" stop-color="#220027"/><stop offset=".134" stop-color="#220027"/><stop offset=".1355" stop-color="#2d0034"/><stop offset=".1475" stop-color="#210025"/><stop offset=".149" stop-color="#150018"/><stop offset=".1609" stop-color="#0e0010"/><stop offset=".1819" stop-color="#000"/><stop offset=".4813" stop-color="#000"/><stop offset=".7358" stop-color="#060007"/><stop offset=".7463" stop-color="#130016"/><stop offset=".8451" stop-color="#19001d"/><stop offset=".9993" stop-color="#1d0021"/></linearGradient>
<linearGradient id="g46" gradientUnits="userSpaceOnUse" x1="328.0" x2="595.0" y1="0" y2="0"><stop offset=".0007" stop-color="#000"/><stop offset=".0382" stop-color="#000"/><stop offset=".0397" stop-color="#00a2c4"/><stop offset=".0412" stop-color="#00aa86"/><stop offset=".0501" stop-color="#00a354"/><stop offset=".0531" stop-color="#009a0c"/><stop offset=".0546" stop-color="#00a000"/><stop offset=".0561" stop-color="#00b800"/><stop offset=".0651" stop-color="#00b600"/><stop offset=".0666" stop-color="#009c00"/><stop offset=".0786" stop-color="#090"/><stop offset=".0801" stop-color="#00b400"/><stop offset=".0921" stop-color="#00bc00"/><stop offset=".0936" stop-color="#00a100"/><stop offset=".107" stop-color="#009c00"/><stop offset=".1085" stop-color="#00b700"/><stop offset=".1205" stop-color="#00be00"/><stop offset=".122" stop-color="#00a400"/><stop offset=".134" stop-color="#00a000"/><stop offset=".1355" stop-color="#0b0"/><stop offset=".1475" stop-color="#00bd00"/><stop offset=".149" stop-color="#00a700"/><stop offset=".1609" stop-color="#00af00"/><stop offset=".1624" stop-color="#00c900"/><stop offset=".1639" stop-color="#00c900"/><stop offset=".1654" stop-color="#00ba00"/><stop offset=".1849" stop-color="#04ff00"/><stop offset=".1909" stop-color="#70ff00"/><stop offset=".1939" stop-color="#acff00"/><stop offset=".1969" stop-color="#c7fb00"/><stop offset=".2058" stop-color="#ecef00"/><stop offset=".2403" stop-color="#ffb800"/><stop offset=".2582" stop-color="#ffac00"/><stop offset=".2972" stop-color="#fecf00"/><stop offset=".4708" stop-color="#fecf00"/><stop offset=".5367" stop-color="#f9d700"/><stop offset=".6145" stop-color="#e7f000"/><stop offset=".6504" stop-color="#b9ff00"/><stop offset=".6684" stop-color="#43ff00"/><stop offset=".6909" stop-color="#00fd00"/><stop offset=".7433" stop-color="#00dc00"/><stop offset=".7448" stop-color="#b1ff00"/><stop offset=".7478" stop-color="#abff00"/><stop offset=".7493" stop-color="#00da00"/><stop offset=".7537" stop-color="#00d800"/><stop offset=".7552" stop-color="#00b500"/><stop offset=".7567" stop-color="#00b500"/><stop offset=".7582" stop-color="#00d600"/><stop offset=".7597" stop-color="#92ff00"/><stop offset=".7672" stop-color="#82ff00"/><stop offset=".7687" stop-color="#00d200"/><stop offset=".7717" stop-color="#00d100"/><stop offset=".7732" stop-color="#00b500"/><stop offset=".7762" stop-color="#00b400"/><stop offset=".7777" stop-color="#00cf00"/><stop offset=".7807" stop-color="#00cd00"/><stop offset=".7822" stop-color="#adff00"/><stop offset=".7882" stop-color="#a0ff00"/><stop offset=".7897" stop-color="#00ca00"/><stop offset=".7957" stop-color="#00c800"/><stop offset=".7972" stop-color="#b2ff00"/><stop offset=".8061" stop-color="#9fff00"/><stop offset=".8076" stop-color="#00c300"/><stop offset=".8106" stop-color="#00c200"/><stop offset=".8121" stop-color="#00ad00"/><stop offset=".8151" stop-color="#00ac00"/><stop offset=".8166" stop-color="#00bf00"/><stop offset=".8196" stop-color="#00be00"/><stop offset=".8211" stop-color="#00e700"/><stop offset=".8256" stop-color="#00e500"/><stop offset=".8271" stop-color="#0b0"/><stop offset=".8466" stop-color="#00a400"/><stop offset=".8705" stop-color="#009a05"/><stop offset=".887" stop-color="#00aa8a"/><stop offset=".9109" stop-color="#00aaa9"/><stop offset=".9229" stop-color="#0094dd"/><stop offset=".9349" stop-color="#0072dd"/><stop offset=".9439" stop-color="#0021dd"/><stop offset=".9558" stop-color="#0000db"/><stop offset=".9768" stop-color="#00a"/><stop offset=".9903" stop-color="#4900a1"/><stop offset=".9993" stop-color="#5d009e"/></linearGradient>
<linearGradient id="g47" gradientUnits="userSpaceOnUse" x1="328.0" x2="595.0" y1="0" y2="0"><stop offset=".0007" stop-color="#0000ce"/><stop offset=".0037" stop-color="#0000ce"/><stop offset=".0052" stop-color="#000"/><stop offset=".0382" stop-color="#000"/><stop offset=".0397" stop-color="#0000d5"/><stop offset=".0412" stop-color="#0048dd"/><stop offset=".0501" stop-color="#005edd"/><stop offset=".0561" stop-color="#008add"/><stop offset=".0651" stop-color="#0086dd"/><stop offset=".0681" stop-color="#0070dd"/><stop offset=".0786" stop-color="#0068dd"/><stop offset=".0801" stop-color="#0083dd"/><stop offset=".0921" stop-color="#08d"/><stop offset=".0936" stop-color="#07d"/><stop offset=".0981" stop-color="#0078dd"/><stop offset=".0996" stop-color="#006add"/><stop offset=".107" stop-color="#006bdd"/><stop offset=".1085" stop-color="#0085dd"/><stop offset=".1205" stop-color="#0089dd"/><stop offset=".1235" stop-color="#0070dd"/><stop offset=".134" stop-color="#0072dd"/><stop offset=".1355" stop-color="#0086dd"/><stop offset=".1475" stop-color="#0087dd"/><stop offset=".1504" stop-color="#007add"/><stop offset=".1609" stop-color="#007edd"/><stop offset=".1624" stop-color="#008fdd"/><stop offset=".1684" stop-color="#008bdd"/><stop offset=".1834" stop-color="#009cd3"/><stop offset=".2058" stop-color="#00aaab"/><stop offset=".2597" stop-color="#00aa92"/><stop offset=".3406" stop-color="#00aa9f"/><stop offset=".5936" stop-color="#00aaab"/><stop offset=".6654" stop-color="#009fcb"/><stop offset=".7388" stop-color="#0090dd"/><stop offset=".7433" stop-color="#0090dd"/><stop offset=".7448" stop-color="#00a6b7"/><stop offset=".7478" stop-color="#00a5b8"/><stop offset=".7493" stop-color="#0090dd"/><stop offset=".7537" stop-color="#008fdd"/><stop offset=".7552" stop-color="#007edd"/><stop offset=".7567" stop-color="#007edd"/><stop offset=".7582" stop-color="#008edd"/><stop offset=".7597" stop-color="#00a4bb"/><stop offset=".7672" stop-color="#00a4bc"/><stop offset=".7687" stop-color="#008ddd"/><stop offset=".7717" stop-color="#008cdd"/><stop offset=".7747" stop-color="#007fdd"/><stop offset=".7807" stop-color="#008cdd"/><stop offset=".7822" stop-color="#00a7b4"/><stop offset=".7882" stop-color="#00a6b6"/><stop offset=".7897" stop-color="#008add"/><stop offset=".7957" stop-color="#0089dd"/><stop offset=".7972" stop-color="#00a7b2"/><stop offset=".8061" stop-color="#00a7b3"/><stop offset=".8076" stop-color="#0089dd"/><stop offset=".8151" stop-color="#007ddd"/><stop offset=".8196" stop-color="#0087dd"/><stop offset=".8211" stop-color="#009ada"/><stop offset=".8256" stop-color="#009adb"/><stop offset=".8271" stop-color="#0086dd"/><stop offset=".8585" stop-color="#006fdd"/><stop offset=".875" stop-color="#0020dd"/><stop offset=".896" stop-color="#0000d9"/><stop offset=".9184" stop-color="#0200aa"/><stop offset=".9289" stop-color="#4600a1"/><stop offset=".9499" stop-color="#71009c"/><stop offset=".9588" stop-color="#870098"/><stop offset=".9993" stop-color="#7b008c"/></linearGradient>
<linearGradient id="g48" gradientUnits="userSpaceOnUse" x1="328.0" x2="595.0" y1="0" y2="0"><stop offset=".0007" stop-color="#00aa9c"/><stop offset=".0037" stop-color="#00aa9c"/><stop offset=".0052" stop-color="#000"/><stop offset=".0382" stop-color="#000"/><stop offset=".0397" stop-color="#7f0090"/><stop offset=".134" stop-color="#7f0090"/><stop offset=".1504" stop-color="#809"/><stop offset=".1579" stop-color="#66009d"/><stop offset=".1609" stop-color="#5e009e"/><stop offset=".1639" stop-color="#4a00a1"/><stop offset=".1699" stop-color="#3400a4"/><stop offset=".1759" stop-color="#1900a7"/><stop offset=".1789" stop-color="#1900a7"/><stop offset=".1879" stop-color="#0000b0"/><stop offset=".2433" stop-color="#0000d2"/><stop offset=".3031" stop-color="#0007dd"/><stop offset=".3136" stop-color="#0009dd"/><stop offset=".3196" stop-color="#0001dd"/><stop offset=".3271" stop-color="#0003dd"/><stop offset=".3361" stop-color="#0010dd"/><stop offset=".3421" stop-color="#01d"/><stop offset=".3496" stop-color="#0006dd"/><stop offset=".3555" stop-color="#0006dd"/><stop offset=".3615" stop-color="#0012dd"/><stop offset=".369" stop-color="#0014dd"/><stop offset=".3735" stop-color="#000cdd"/><stop offset=".384" stop-color="#000fdd"/><stop offset=".39" stop-color="#001bdd"/><stop offset=".3975" stop-color="#02d"/><stop offset=".4034" stop-color="#001edd"/><stop offset=".4169" stop-color="#0058dd"/><stop offset=".5187" stop-color="#0086dd"/><stop offset=".6145" stop-color="#007bdd"/><stop offset=".643" stop-color="#0049dd"/><stop offset=".6579" stop-color="#0028dd"/><stop offset=".7148" stop-color="#0026dd"/><stop offset=".7388" stop-color="#0026dd"/><stop offset=".7403" stop-color="#0086dd"/><stop offset=".7433" stop-color="#0086dd"/><stop offset=".7448" stop-color="#00a9ac"/><stop offset=".7478" stop-color="#00a9ac"/><stop offset=".7493" stop-color="#0072dd"/><stop offset=".7582" stop-color="#006edd"/><stop offset=".7597" stop-color="#00a7b3"/><stop offset=".7672" stop-color="#00a7b3"/><stop offset=".7702" stop-color="#00a3bf"/><stop offset=".7807" stop-color="#00a3be"/><stop offset=".7822" stop-color="#00aaa0"/><stop offset=".7882" stop-color="#00aaa1"/><stop offset=".7897" stop-color="#0090dd"/><stop offset=".7957" stop-color="#0090dd"/><stop offset=".7972" stop-color="#00aa96"/><stop offset=".8061" stop-color="#00aa96"/><stop offset=".8076" stop-color="#00a3be"/><stop offset=".8151" stop-color="#00a3bf"/><stop offset=".8166" stop-color="#0089dd"/><stop offset=".8196" stop-color="#0089dd"/><stop offset=".8211" stop-color="#009fca"/><stop offset=".8256" stop-color="#009fca"/><stop offset=".8271" stop-color="#006fdd"/><stop offset=".8286" stop-color="#0000cb"/><stop offset=".8301" stop-color="#0000b4"/><stop offset=".8466" stop-color="#0600a9"/><stop offset=".872" stop-color="#56009f"/><stop offset=".899" stop-color="#80009a"/><stop offset=".9124" stop-color="#830094"/><stop offset=".9858" stop-color="#7a008b"/><stop offset=".9993" stop-color="#7a008b"/></linearGradient>
<linearGradient id="g49" gradientUnits="userSpaceOnUse" x1="328.0" x2="595.0" y1="0" y2="0"><stop offset=".0007" stop-color="#003cdd"/><stop offset=".0037" stop-color="#003cdd"/><stop offset=".0052" stop-color="#000"/><stop offset=".0382" stop-color="#000"/><stop offset=".0397" stop-color="#7f0090"/><stop offset=".1415" stop-color="#800091"/><stop offset=".1609" stop-color="#80009a"/><stop offset=".1639" stop-color="#5e009e"/><stop offset=".1759" stop-color="#5300a0"/><stop offset=".1774" stop-color="#59009f"/><stop offset=".1909" stop-color="#0c00a9"/><stop offset=".2043" stop-color="#0000b0"/><stop offset=".2433" stop-color="#0000d2"/><stop offset=".3331" stop-color="#0006dd"/><stop offset=".3421" stop-color="#0010dd"/><stop offset=".3481" stop-color="#0007dd"/><stop offset=".3555" stop-color="#000cdd"/><stop offset=".3615" stop-color="#001cdd"/><stop offset=".384" stop-color="#002ddd"/><stop offset=".39" stop-color="#003edd"/><stop offset=".3975" stop-color="#04d"/><stop offset=".4034" stop-color="#0040dd"/><stop offset=".4244" stop-color="#005edd"/><stop offset=".4708" stop-color="#007ddd"/><stop offset=".5651" stop-color="#008bdd"/><stop offset=".619" stop-color="#07d"/><stop offset=".646" stop-color="#0042dd"/><stop offset=".6594" stop-color="#0028dd"/><stop offset=".7388" stop-color="#0025dd"/><stop offset=".7403" stop-color="#009bd7"/><stop offset=".7433" stop-color="#009bd7"/><stop offset=".7448" stop-color="#00aa94"/><stop offset=".7478" stop-color="#00aa94"/><stop offset=".7493" stop-color="#008ddd"/><stop offset=".7582" stop-color="#008cdd"/><stop offset=".7597" stop-color="#0a9"/><stop offset=".7672" stop-color="#00aa98"/><stop offset=".7732" stop-color="#00aaa0"/><stop offset=".7807" stop-color="#00aaa0"/><stop offset=".7822" stop-color="#0a8"/><stop offset=".7882" stop-color="#00aa89"/><stop offset=".7897" stop-color="#00a0c8"/><stop offset=".7957" stop-color="#00a0c8"/><stop offset=".7972" stop-color="#00a564"/><stop offset=".8061" stop-color="#00a560"/><stop offset=".8076" stop-color="#00aaa0"/><stop offset=".8151" stop-color="#00aaa1"/><stop offset=".8166" stop-color="#009dd2"/><stop offset=".8196" stop-color="#009dd2"/><stop offset=".8211" stop-color="#00aaa8"/><stop offset=".8256" stop-color="#00aaa8"/><stop offset=".8271" stop-color="#008cdd"/><stop offset=".8286" stop-color="#0000cb"/><stop offset=".8301" stop-color="#0000b3"/><stop offset=".8466" stop-color="#0700a9"/><stop offset=".8735" stop-color="#59009f"/><stop offset=".9049" stop-color="#870098"/><stop offset=".9499" stop-color="#7a008b"/><stop offset=".9993" stop-color="#79008a"/></linearGradient>
<linearGradient id="g50" gradientUnits="userSpaceOnUse" x1="328.0" x2="595.0" y1="0" y2="0"><stop offset=".0007" stop-color="#000"/><stop offset=".0382" stop-color="#000"/><stop offset=".0397" stop-color="#0000c6"/><stop offset=".0412" stop-color="#0023dd"/><stop offset=".0501" stop-color="#0031dd"/><stop offset=".0561" stop-color="#007ddd"/><stop offset=".0651" stop-color="#007cdd"/><stop offset=".0666" stop-color="#05d"/><stop offset=".0726" stop-color="#0056dd"/><stop offset=".0786" stop-color="#004edd"/><stop offset=".0801" stop-color="#007add"/><stop offset=".0921" stop-color="#007fdd"/><stop offset=".0936" stop-color="#005edd"/><stop offset=".0981" stop-color="#005fdd"/><stop offset=".0996" stop-color="#0051dd"/><stop offset=".107" stop-color="#0053dd"/><stop offset=".1085" stop-color="#007cdd"/><stop offset=".1205" stop-color="#0080dd"/><stop offset=".122" stop-color="#0061dd"/><stop offset=".1265" stop-color="#0058dd"/><stop offset=".134" stop-color="#0059dd"/><stop offset=".1355" stop-color="#007ddd"/><stop offset=".1475" stop-color="#007ddd"/><stop offset=".149" stop-color="#005fdd"/><stop offset=".1594" stop-color="#005fdd"/><stop offset=".1609" stop-color="#0068dd"/><stop offset=".1624" stop-color="#0080dd"/><stop offset=".1684" stop-color="#007cdd"/><stop offset=".1879" stop-color="#009bd6"/><stop offset=".2073" stop-color="#00aaa9"/><stop offset=".2582" stop-color="#00aa8e"/><stop offset=".3525" stop-color="#00aa9c"/><stop offset=".5636" stop-color="#00aaa1"/><stop offset=".643" stop-color="#00a3be"/><stop offset=".6939" stop-color="#0097dd"/><stop offset=".7433" stop-color="#008add"/><stop offset=".7448" stop-color="#00a2c1"/><stop offset=".7478" stop-color="#00a2c2"/><stop offset=".7493" stop-color="#0089dd"/><stop offset=".7537" stop-color="#08d"/><stop offset=".7552" stop-color="#0076dd"/><stop offset=".7567" stop-color="#0075dd"/><stop offset=".7582" stop-color="#0087dd"/><stop offset=".7597" stop-color="#00a1c5"/><stop offset=".7672" stop-color="#00a0c7"/><stop offset=".7687" stop-color="#0085dd"/><stop offset=".7717" stop-color="#0085dd"/><stop offset=".7747" stop-color="#0075dd"/><stop offset=".7762" stop-color="#0074dd"/><stop offset=".7777" stop-color="#0083dd"/><stop offset=".7807" stop-color="#0083dd"/><stop offset=".7822" stop-color="#00a2c1"/><stop offset=".7882" stop-color="#00a2c3"/><stop offset=".7897" stop-color="#0081dd"/><stop offset=".7957" stop-color="#0080dd"/><stop offset=".7972" stop-color="#00a2c1"/><stop offset=".8061" stop-color="#00a2c3"/><stop offset=".8076" stop-color="#007edd"/><stop offset=".8106" stop-color="#007ddd"/><stop offset=".8121" stop-color="#0068dd"/><stop offset=".8151" stop-color="#06d"/><stop offset=".8166" stop-color="#007cdd"/><stop offset=".8196" stop-color="#007bdd"/><stop offset=".8211" stop-color="#008fdd"/><stop offset=".8256" stop-color="#008fdd"/><stop offset=".8271" stop-color="#007add"/><stop offset=".8421" stop-color="#005cdd"/><stop offset=".8705" stop-color="#0046dd"/><stop offset=".8915" stop-color="#0000db"/><stop offset=".9139" stop-color="#0000c2"/><stop offset=".9244" stop-color="#0500a9"/><stop offset=".9454" stop-color="#68009d"/><stop offset=".9648" stop-color="#870098"/><stop offset=".9993" stop-color="#7c008d"/></linearGradient></defs>
<rect x="48.0" y="28.00" width="267.0" height="17.72" fill="url(#g1)"/>
<rect x="48.0" y="44.72" width="267.0" height="17.72" fill="url(#g2)"/>
<rect x="48.0" y="61.43" width="267.0" height="17.72" fill="url(#g3)"/>
<rect x="48.0" y="78.15" width="267.0" height="17.72" fill="url(#g4)"/>
<rect x="48.0" y="94.86" width="267.0" height="17.72" fill="url(#g5)"/>
<rect x="48.0" y="111.58" width="267.0" height="17.72" fill="url(#g6)"/>
<rect x="48.0" y="128.30" width="267.0" height="17.72" fill="url(#g7)"/>
<rect x="48.0" y="145.01" width="267.0" height="17.72" fill="url(#g8)"/>
<rect x="48.0" y="161.73" width="267.0" height="17.72" fill="url(#g9)"/>
<rect x="48.0" y="178.44" width="267.0" height="17.72" fill="url(#g10)"/>
<rect x="48.0" y="195.16" width="267.0" height="17.72" fill="url(#g11)"/>
<rect x="48.0" y="211.88" width="267.0" height="17.72" fill="url(#g12)"/>
<rect x="48.0" y="228.59" width="267.0" height="17.72" fill="url(#g13)"/>
<rect x="48.0" y="245.31" width="267.0" height="17.72" fill="url(#g14)"/>
<rect x="48.0" y="262.02" width="267.0" height="17.72" fill="url(#g15)"/>
<rect x="48.0" y="278.74" width="267.0" height="17.72" fill="url(#g16)"/>
<rect x="48.0" y="295.45" width="267.0" height="17.72" fill="url(#g17)"/>
<rect x="48.0" y="312.17" width="267.0" height="17.72" fill="url(#g18)"/>
<rect x="48.0" y="328.89" width="267.0" height="17.72" fill="url(#g19)"/>
<rect x="48.0" y="345.60" width="267.0" height="17.72" fill="url(#g20)"/>
<rect x="48.0" y="362.32" width="267.0" height="33.43" fill="url(#g21)"/>
<rect x="48.0" y="44.32" width="267.0" height="0.80" fill="url(#g22)"/>
<rect x="48.0" y="77.75" width="267.0" height="0.80" fill="url(#g23)"/>
<rect x="48.0" y="345.10" width="267.0" height="1.00" fill="url(#g24)"/>
<rect x="48.0" y="361.82" width="267.0" height="1.00" fill="url(#g25)"/>
<rect x="328.0" y="28.00" width="267.0" height="34.43" fill="url(#g26)"/>
<rect x="328.0" y="61.43" width="267.0" height="17.72" fill="url(#g27)"/>
<rect x="328.0" y="78.15" width="267.0" height="17.72" fill="url(#g28)"/>
<rect x="328.0" y="94.86" width="267.0" height="17.72" fill="url(#g29)"/>
<rect x="328.0" y="111.58" width="267.0" height="17.72" fill="url(#g30)"/>
<rect x="328.0" y="128.30" width="267.0" height="17.72" fill="url(#g31)"/>
<rect x="328.0" y="145.01" width="267.0" height="17.72" fill="url(#g32)"/>
<rect x="328.0" y="161.73" width="267.0" height="17.72" fill="url(#g33)"/>
<rect x="328.0" y="178.44" width="267.0" height="17.72" fill="url(#g34)"/>
<rect x="328.0" y="195.16" width="267.0" height="17.72" fill="url(#g35)"/>
<rect x="328.0" y="211.88" width="267.0" height="17.72" fill="url(#g36)"/>
<rect x="328.0" y="228.59" width="267.0" height="17.72" fill="url(#g37)"/>
<rect x="328.0" y="245.31" width="267.0" height="17.72" fill="url(#g38)"/>
<rect x="328.0" y="262.02" width="267.0" height="17.72" fill="url(#g39)"/>
<rect x="328.0" y="278.74" width="267.0" height="17.72" fill="url(#g40)"/>
<rect x="328.0" y="295.45" width="267.0" height="17.72" fill="url(#g41)"/>
<rect x="328.0" y="312.17" width="267.0" height="17.72" fill="url(#g42)"/>
<rect x="328.0" y="328.89" width="267.0" height="17.72" fill="url(#g43)"/>
<rect x="328.0" y="345.60" width="267.0" height="17.72" fill="url(#g44)"/>
<rect x="328.0" y="362.32" width="267.0" height="17.72" fill="url(#g45)"/>
<rect x="328.0" y="379.03" width="267.0" height="16.72" fill="url(#g46)"/>
<rect x="328.0" y="60.93" width="267.0" height="1.00" fill="url(#g47)"/>
<rect x="328.0" y="77.75" width="267.0" height="0.80" fill="url(#g48)"/>
<rect x="328.0" y="345.10" width="267.0" height="1.00" fill="url(#g49)"/>
<rect x="328.0" y="378.53" width="267.0" height="1.00" fill="url(#g50)"/>
<text x="31.74" y="42.00" font-size="14.6" text-anchor="end" fill="#000">On</text>
<text x="611.54" y="42.00" font-size="14.6" text-anchor="start" fill="#000">On</text>
<text x="34.21" y="59.35" font-size="14.6" text-anchor="end" fill="#000">Y</text>
<text x="611.20" y="59.35" font-size="14.6" text-anchor="start" fill="#000">Y</text>
<text x="31.93" y="76.00" font-size="14.6" text-anchor="end" fill="#000">Off</text>
<text x="611.49" y="76.00" font-size="14.6" text-anchor="start" fill="#000">Off</text>
<text x="32.83" y="92.65" font-size="14.6" text-anchor="end" fill="#000">P</text>
<text x="611.69" y="92.65" font-size="14.6" text-anchor="start" fill="#000">P</text>
<text x="33.17" y="109.30" font-size="14.6" text-anchor="end" fill="#000">O</text>
<text x="611.49" y="109.30" font-size="14.6" text-anchor="start" fill="#000">O</text>
<text x="32.26" y="125.95" font-size="14.6" text-anchor="end" fill="#000">N</text>
<text x="611.69" y="125.95" font-size="14.6" text-anchor="start" fill="#000">N</text>
<text x="32.27" y="142.60" font-size="14.6" text-anchor="end" fill="#000">M</text>
<text x="611.69" y="142.60" font-size="14.6" text-anchor="start" fill="#000">M</text>
<text x="33.14" y="159.25" font-size="14.6" text-anchor="end" fill="#000">L</text>
<text x="611.69" y="159.25" font-size="14.6" text-anchor="start" fill="#000">L</text>
<text x="32.82" y="175.90" font-size="14.6" text-anchor="end" fill="#000">K</text>
<text x="611.69" y="175.90" font-size="14.6" text-anchor="start" fill="#000">K</text>
<text x="32.18" y="192.55" font-size="14.6" text-anchor="end" fill="#000">J</text>
<text x="609.55" y="192.55" font-size="14.6" text-anchor="start" fill="#000">J</text>
<text x="32.02" y="209.20" font-size="14.6" text-anchor="end" fill="#000">I</text>
<text x="611.50" y="209.20" font-size="14.6" text-anchor="start" fill="#000">I</text>
<text x="32.26" y="225.85" font-size="14.6" text-anchor="end" fill="#000">H</text>
<text x="611.69" y="225.85" font-size="14.6" text-anchor="start" fill="#000">H</text>
<text x="33.05" y="242.50" font-size="14.6" text-anchor="end" fill="#000">G</text>
<text x="611.37" y="242.50" font-size="14.6" text-anchor="start" fill="#000">G</text>
<text x="31.60" y="259.15" font-size="14.6" text-anchor="end" fill="#000">F</text>
<text x="611.69" y="259.15" font-size="14.6" text-anchor="start" fill="#000">F</text>
<text x="32.62" y="275.80" font-size="14.6" text-anchor="end" fill="#000">E</text>
<text x="611.69" y="275.80" font-size="14.6" text-anchor="start" fill="#000">E</text>
<text x="32.76" y="292.45" font-size="14.6" text-anchor="end" fill="#000">D</text>
<text x="611.69" y="292.45" font-size="14.6" text-anchor="start" fill="#000">D</text>
<text x="33.56" y="309.10" font-size="14.6" text-anchor="end" fill="#000">C</text>
<text x="611.37" y="309.10" font-size="14.6" text-anchor="start" fill="#000">C</text>
<text x="32.30" y="325.75" font-size="14.6" text-anchor="end" fill="#000">B</text>
<text x="611.69" y="325.75" font-size="14.6" text-anchor="start" fill="#000">B</text>
<text x="32.60" y="342.40" font-size="14.6" text-anchor="end" fill="#000">A</text>
<text x="611.52" y="342.40" font-size="14.6" text-anchor="start" fill="#000">A</text>
<text x="31.41" y="359.05" font-size="14.6" text-anchor="end" fill="#000">Off</text>
<text x="611.49" y="359.05" font-size="14.6" text-anchor="start" fill="#000">Off</text>
<text x="32.67" y="375.70" font-size="14.6" text-anchor="end" fill="#000">X</text>
<text x="611.11" y="375.70" font-size="14.6" text-anchor="start" fill="#000">X</text>
<text x="31.67" y="392.35" font-size="14.6" text-anchor="end" fill="#000">On</text>
<text x="611.54" y="392.35" font-size="14.6" text-anchor="start" fill="#000">On</text>
<text transform="translate(2.5,218.2) rotate(-90)" font-size="14.6" text-anchor="middle" textLength="42.5" lengthAdjust="spacingAndGlyphs" fill="#000">Dipole</text>
<text x="96.28" y="15.7" font-size="17.6" textLength="36.95" lengthAdjust="spacingAndGlyphs" fill="#000">17.8</text>
<text x="138.78" y="15.7" font-size="17.6" textLength="111.21" lengthAdjust="spacingAndGlyphs" fill="#000">(LBG8=2056)</text>
<text x="255.91" y="15.7" font-size="17.6" textLength="11.57" lengthAdjust="spacingAndGlyphs" fill="#000">X</text>
<text x="377.13" y="15.7" font-size="17.6" textLength="36.76" lengthAdjust="spacingAndGlyphs" fill="#000">17.8</text>
<text x="419.50" y="15.7" font-size="17.6" textLength="111.19" lengthAdjust="spacingAndGlyphs" fill="#000">(LBG8=2056)</text>
<text x="536.01" y="15.7" font-size="17.6" textLength="11.51" lengthAdjust="spacingAndGlyphs" fill="#000">Y</text>
<rect x="49" y="408" width="1" height="5" fill="#000" shape-rendering="crispEdges"/>
<text x="49.50" y="425.8" font-size="10.4" text-anchor="middle" fill="#111">0</text>
<rect x="89" y="408" width="1" height="5" fill="#000" shape-rendering="crispEdges"/>
<text x="89.50" y="425.8" font-size="10.4" text-anchor="middle" fill="#111">50</text>
<rect x="130" y="408" width="1" height="5" fill="#000" shape-rendering="crispEdges"/>
<text x="130.50" y="425.8" font-size="10.4" text-anchor="middle" fill="#111">100</text>
<rect x="171" y="408" width="1" height="5" fill="#000" shape-rendering="crispEdges"/>
<text x="171.50" y="425.8" font-size="10.4" text-anchor="middle" fill="#111">150</text>
<rect x="211" y="408" width="1" height="5" fill="#000" shape-rendering="crispEdges"/>
<text x="211.50" y="425.8" font-size="10.4" text-anchor="middle" fill="#111">200</text>
<rect x="252" y="408" width="1" height="5" fill="#000" shape-rendering="crispEdges"/>
<text x="252.50" y="425.8" font-size="10.4" text-anchor="middle" fill="#111">250</text>
<rect x="293" y="408" width="1" height="5" fill="#000" shape-rendering="crispEdges"/>
<text x="293.50" y="425.8" font-size="10.4" text-anchor="middle" fill="#111">300</text>
<rect x="329" y="408" width="1" height="5" fill="#000" shape-rendering="crispEdges"/>
<text x="329.50" y="425.8" font-size="10.4" text-anchor="middle" fill="#111">0</text>
<rect x="370" y="408" width="1" height="5" fill="#000" shape-rendering="crispEdges"/>
<text x="370.50" y="425.8" font-size="10.4" text-anchor="middle" fill="#111">50</text>
<rect x="410" y="408" width="1" height="5" fill="#000" shape-rendering="crispEdges"/>
<text x="410.50" y="425.8" font-size="10.4" text-anchor="middle" fill="#111">100</text>
<rect x="451" y="408" width="1" height="5" fill="#000" shape-rendering="crispEdges"/>
<text x="451.50" y="425.8" font-size="10.4" text-anchor="middle" fill="#111">150</text>
<rect x="492" y="408" width="1" height="5" fill="#000" shape-rendering="crispEdges"/>
<text x="492.50" y="425.8" font-size="10.4" text-anchor="middle" fill="#111">200</text>
<rect x="532" y="408" width="1" height="5" fill="#000" shape-rendering="crispEdges"/>
<text x="532.50" y="425.8" font-size="10.4" text-anchor="middle" fill="#111">250</text>
<rect x="573" y="408" width="1" height="5" fill="#000" shape-rendering="crispEdges"/>
<text x="573.50" y="425.8" font-size="10.4" text-anchor="middle" fill="#111">300</text>
<rect x="47.6" y="35.86" width="1.6" height="1" fill="#ddd" opacity="0.75"/>
<rect x="47.6" y="52.57" width="1.6" height="1" fill="#ddd" opacity="0.75"/>
<rect x="47.6" y="69.29" width="1.6" height="1" fill="#ddd" opacity="0.75"/>
<rect x="47.6" y="86.01" width="1.6" height="1" fill="#ddd" opacity="0.75"/>
<rect x="47.6" y="102.72" width="1.6" height="1" fill="#ddd" opacity="0.75"/>
<rect x="47.6" y="119.44" width="1.6" height="1" fill="#ddd" opacity="0.75"/>
<rect x="47.6" y="136.15" width="1.6" height="1" fill="#ddd" opacity="0.75"/>
<rect x="47.6" y="152.87" width="1.6" height="1" fill="#ddd" opacity="0.75"/>
<rect x="47.6" y="169.59" width="1.6" height="1" fill="#ddd" opacity="0.75"/>
<rect x="47.6" y="186.30" width="1.6" height="1" fill="#ddd" opacity="0.75"/>
<rect x="47.6" y="203.02" width="1.6" height="1" fill="#ddd" opacity="0.75"/>
<rect x="47.6" y="219.73" width="1.6" height="1" fill="#ddd" opacity="0.75"/>
<rect x="47.6" y="236.45" width="1.6" height="1" fill="#ddd" opacity="0.75"/>
<rect x="47.6" y="253.16" width="1.6" height="1" fill="#ddd" opacity="0.75"/>
<rect x="47.6" y="269.88" width="1.6" height="1" fill="#ddd" opacity="0.75"/>
<rect x="47.6" y="286.60" width="1.6" height="1" fill="#ddd" opacity="0.75"/>
<rect x="47.6" y="303.31" width="1.6" height="1" fill="#ddd" opacity="0.75"/>
<rect x="47.6" y="320.03" width="1.6" height="1" fill="#ddd" opacity="0.75"/>
<rect x="47.6" y="336.74" width="1.6" height="1" fill="#ddd" opacity="0.75"/>
<rect x="47.6" y="353.46" width="1.6" height="1" fill="#ddd" opacity="0.75"/>
<rect x="47.6" y="370.18" width="1.6" height="1" fill="#ddd" opacity="0.75"/>
<rect x="47.6" y="386.89" width="1.6" height="1" fill="#ddd" opacity="0.75"/>
<rect x="69.3" y="282.25" width="5.2" height="1.3" fill="#fff"/>
<text x="79.3" y="288.40" font-size="14.6" text-anchor="start" fill="#fff" textLength="8.0" lengthAdjust="spacingAndGlyphs">0</text>
<rect x="350.1" y="282.25" width="5.2" height="1.3" fill="#fff"/>
<text x="359.3" y="288.40" font-size="14.6" text-anchor="start" fill="#fff" textLength="8.0" lengthAdjust="spacingAndGlyphs">0</text>
<text x="316.0" y="288.40" font-size="14.6" text-anchor="end" fill="#fff" textLength="8.0" lengthAdjust="spacingAndGlyphs">0</text>
<rect x="69.3" y="234.35" width="5.2" height="1.3" fill="#fff"/>
<text x="79.3" y="240.50" font-size="14.6" text-anchor="start" fill="#fff" textLength="8.0" lengthAdjust="spacingAndGlyphs">5</text>
<rect x="350.1" y="234.35" width="5.2" height="1.3" fill="#fff"/>
<text x="359.3" y="240.50" font-size="14.6" text-anchor="start" fill="#fff" textLength="8.0" lengthAdjust="spacingAndGlyphs">5</text>
<text x="316.0" y="240.50" font-size="14.6" text-anchor="end" fill="#fff" textLength="8.0" lengthAdjust="spacingAndGlyphs">5</text>
<rect x="69.3" y="186.45" width="5.2" height="1.3" fill="#fff"/>
<text x="79.3" y="192.60" font-size="14.6" text-anchor="start" fill="#fff" textLength="16.6" lengthAdjust="spacingAndGlyphs">10</text>
<rect x="350.1" y="186.45" width="5.2" height="1.3" fill="#fff"/>
<text x="359.3" y="192.60" font-size="14.6" text-anchor="start" fill="#fff" textLength="16.6" lengthAdjust="spacingAndGlyphs">10</text>
<text x="316.0" y="192.60" font-size="14.6" text-anchor="end" fill="#fff" textLength="16.6" lengthAdjust="spacingAndGlyphs">10</text>
<rect x="69.3" y="138.55" width="5.2" height="1.3" fill="#fff"/>
<text x="79.3" y="144.70" font-size="14.6" text-anchor="start" fill="#fff" textLength="16.6" lengthAdjust="spacingAndGlyphs">15</text>
<rect x="350.1" y="138.55" width="5.2" height="1.3" fill="#fff"/>
<text x="359.3" y="144.70" font-size="14.6" text-anchor="start" fill="#fff" textLength="16.6" lengthAdjust="spacingAndGlyphs">15</text>
<text x="316.0" y="144.70" font-size="14.6" text-anchor="end" fill="#fff" textLength="16.6" lengthAdjust="spacingAndGlyphs">15</text>
<rect x="69.3" y="90.65" width="5.2" height="1.3" fill="#fff"/>
<text x="79.3" y="96.80" font-size="14.6" text-anchor="start" fill="#fff" textLength="16.6" lengthAdjust="spacingAndGlyphs">20</text>
<rect x="350.1" y="90.65" width="5.2" height="1.3" fill="#fff"/>
<text x="359.3" y="96.80" font-size="14.6" text-anchor="start" fill="#fff" textLength="16.6" lengthAdjust="spacingAndGlyphs">20</text>
<text x="316.0" y="96.80" font-size="14.6" text-anchor="end" fill="#fff" textLength="16.6" lengthAdjust="spacingAndGlyphs">20</text>
<rect x="69.3" y="42.75" width="5.2" height="1.3" fill="#fff"/>
<text x="79.3" y="48.90" font-size="14.6" text-anchor="start" fill="#fff" textLength="16.6" lengthAdjust="spacingAndGlyphs">25</text>
<rect x="350.1" y="42.75" width="5.2" height="1.3" fill="#fff"/>
<text x="359.3" y="48.90" font-size="14.6" text-anchor="start" fill="#fff" textLength="16.6" lengthAdjust="spacingAndGlyphs">25</text>
<text x="316.0" y="48.90" font-size="14.6" text-anchor="end" fill="#fff" textLength="16.6" lengthAdjust="spacingAndGlyphs">25</text>
<polyline points="60.6,282.5 61.4,287.1 62.2,290.6 63.0,291.3 63.8,291.9 64.6,292.6 65.4,293.3 66.2,293.9 67.0,294.4 67.8,294.9 68.6,295.4 69.4,295.9 70.2,296.3 71.0,296.5 71.8,296.7 72.6,296.1 73.4,295.2 74.2,294.4 75.0,293.7 75.8,293.1 76.6,292.2 77.4,291.2 78.2,290.2 79.0,289.0 79.8,287.8 80.6,286.6 81.4,285.3 82.2,284.0 83.0,282.8 83.8,282.4 84.6,282.1 85.4,281.9 86.2,281.6 87.0,281.3 87.8,280.9 88.6,279.7 89.4,278.3 90.2,276.8 91.0,275.3 91.8,273.9 92.6,271.3 93.4,268.3 94.2,264.2 95.0,259.0 95.8,253.9 96.6,249.6 97.4,245.1 98.2,240.9 99.0,236.9 99.8,232.9 100.6,229.4 101.4,226.3 102.2,223.0 103.0,219.7 103.8,216.3 104.6,214.0 105.4,212.8 106.2,211.6 107.0,210.2 107.8,208.9 108.6,207.5 109.4,206.2 110.2,205.1 111.0,204.0 111.8,203.0 112.6,202.0 113.4,202.3 114.2,203.5 115.0,204.6 115.8,205.5 116.6,206.4 117.4,206.0 118.2,205.3 119.0,204.6 119.8,203.9 120.6,203.4 121.4,204.4 122.2,205.2 123.0,205.9 123.8,206.6 124.6,206.5 125.4,205.3 126.2,204.2 127.0,203.0 127.8,202.1 128.6,202.7 129.4,203.9 130.2,205.0 131.0,206.1 131.8,207.0 132.6,206.2 133.4,205.4 134.2,204.6 135.0,203.8 135.8,203.3 136.6,203.2 137.4,203.1 138.2,203.2 139.0,203.2 139.8,203.1 140.6,203.0 141.4,202.7 142.2,202.4 143.0,202.2 143.8,201.8 144.6,201.5 145.4,201.3 146.2,201.1 147.0,201.0 147.8,200.9 148.6,200.6 149.4,200.2 150.2,199.6 151.0,198.8 151.8,197.9 152.6,197.1 153.4,196.3 154.2,195.6 155.0,194.9 155.8,194.3 156.6,193.7 157.4,193.0 158.2,192.3 159.0,191.5 159.8,190.6 160.6,189.6 161.4,188.8 162.2,188.0 163.0,187.3 163.8,186.8 164.6,186.3 165.4,185.7 166.2,185.1 167.0,184.3 167.8,183.4 168.6,182.5 169.4,181.6 170.2,180.7 171.0,179.9 171.8,179.3 172.6,178.7 173.4,178.4 174.2,178.1 175.0,177.6 175.8,177.2 176.6,176.6 177.4,176.0 178.2,175.3 179.0,174.7 179.8,174.1 180.6,173.6 181.4,173.1 182.2,172.7 183.0,172.1 183.8,171.4 184.6,170.7 185.4,170.3 186.2,170.0 187.0,169.6 187.8,169.4 188.6,169.4 189.4,169.5 190.2,169.8 191.0,170.0 191.8,170.2 192.6,170.5 193.4,170.9 194.2,171.2 195.0,171.5 195.8,171.8 196.6,172.1 197.4,172.8 198.2,174.0 199.0,175.2 199.8,176.4 200.6,177.6 201.4,178.6 202.2,179.6 203.0,180.7 203.8,181.8 204.6,182.9 205.4,184.1 206.2,185.4 207.0,186.8 207.8,188.3 208.6,189.7 209.4,191.0 210.2,192.2 211.0,193.2 211.8,194.1 212.6,194.9 213.4,195.6 214.2,196.4 215.0,197.2 215.8,198.1 216.6,199.0 217.4,200.1 218.2,201.3 219.0,202.4 219.8,203.3 220.6,204.2 221.4,204.6 222.2,205.1 223.0,205.6 223.8,206.2 224.6,207.0 225.4,207.8 226.2,208.6 227.0,209.4 227.8,210.0 228.6,210.6 229.4,211.0 230.2,211.3 231.0,211.7 231.8,212.1 232.6,212.7 233.4,213.6 234.2,214.5 235.0,215.4 235.8,216.2 236.6,216.9 237.4,217.5 238.2,217.9 239.0,218.1 239.8,218.4 240.6,218.7 241.4,219.1 242.2,219.5 243.0,220.4 243.8,221.4 244.6,222.4 245.4,223.2" fill="none" stroke="#fff" stroke-width="2.6" stroke-linejoin="round" stroke-linecap="round"/>
<polyline points="60.6,282.2 61.4,286.5 62.2,290.0 63.0,290.8 63.8,291.8 64.6,292.8 65.4,293.8 66.2,294.6 67.0,294.9 67.8,295.2 68.6,295.3 69.4,295.5 70.2,295.6 71.0,295.9 71.8,296.3 72.6,296.0 73.4,295.5 74.2,295.0 75.0,294.4 75.8,293.7 76.6,292.5 77.4,291.1 78.2,289.8 79.0,288.5 79.8,287.4 80.6,286.4 81.4,285.6 82.2,284.8 83.0,283.9 83.8,283.5 84.6,282.9 85.4,282.3 86.2,281.6 87.0,281.0 87.8,280.4 88.6,279.4 89.4,278.2 90.2,277.1 91.0,276.0 91.8,274.7 92.6,272.1 93.4,268.8 94.2,264.2 95.0,258.6 95.8,253.1 96.6,248.8 97.4,244.5 98.2,240.7 99.0,237.1 99.8,233.4 100.6,230.1 101.4,226.9 102.2,223.3 103.0,219.6 103.8,215.9 104.6,213.3 105.4,212.4 106.2,211.7 107.0,211.0 107.8,210.3 108.6,209.6 109.4,208.8 110.2,208.0 111.0,207.0 111.8,206.1 112.6,205.1 113.4,205.2 114.2,206.2 115.0,207.2 115.8,208.2 116.6,209.1 117.4,208.7 118.2,207.9 119.0,206.6 119.8,205.3 120.6,204.1 121.4,204.4 122.2,204.9 123.0,205.5 123.8,206.4 124.6,206.5 125.4,205.7 126.2,204.7 127.0,203.6 127.8,202.5 128.6,202.8 129.4,203.6 130.2,204.5 131.0,205.5 131.8,206.5 132.6,206.0 133.4,205.6 134.2,205.0 135.0,204.5 135.8,204.2 136.6,204.1 137.4,203.9 138.2,203.9 139.0,203.9 139.8,204.0 140.6,204.2 141.4,204.4 142.2,204.5 143.0,204.5 143.8,204.1 144.6,203.6 145.4,203.0 146.2,202.4 147.0,201.9 147.8,201.4 148.6,201.0 149.4,200.6 150.2,200.2 151.0,199.5 151.8,198.7 152.6,197.7 153.4,196.7 154.2,195.7 155.0,194.7 155.8,193.9 156.6,193.1 157.4,192.5 158.2,192.1 159.0,191.5 159.8,190.9 160.6,190.1 161.4,189.2 162.2,188.3 163.0,187.4 163.8,186.6 164.6,185.9 165.4,185.4 166.2,185.1 167.0,184.7 167.8,184.3 168.6,183.9 169.4,183.2 170.2,182.5 171.0,181.8 171.8,181.1 172.6,180.4 173.4,179.9 174.2,179.4 175.0,178.9 175.8,178.6 176.6,178.1 177.4,177.5 178.2,176.7 179.0,175.8 179.8,174.9 180.6,174.0 181.4,173.2 182.2,172.5 183.0,171.8 183.8,171.2 184.6,170.6 185.4,170.4 186.2,170.2 187.0,169.9 187.8,169.6 188.6,169.5 189.4,169.4 190.2,169.5 191.0,169.7 191.8,170.0 192.6,170.4 193.4,170.9 194.2,171.4 195.0,171.9 195.8,172.4 196.6,172.9 197.4,173.7 198.2,174.9 199.0,176.3 199.8,177.8 200.6,179.2 201.4,180.7 202.2,182.0 203.0,183.1 203.8,184.2 204.6,185.1 205.4,186.1 206.2,187.1 207.0,188.2 207.8,189.3 208.6,190.5 209.4,191.7 210.2,192.8 211.0,193.7 211.8,194.5 212.6,195.2 213.4,195.8 214.2,196.4 215.0,197.1 215.8,197.9 216.6,198.9 217.4,200.0 218.2,201.2 219.0,202.4 219.8,203.4 220.6,204.2 221.4,204.7 222.2,205.1 223.0,205.6 223.8,206.2 224.6,207.0 225.4,208.0 226.2,209.0 227.0,210.0 227.8,210.9 228.6,211.7 229.4,212.2 230.2,212.8 231.0,213.3 231.8,213.9 232.6,214.6 233.4,215.3 234.2,216.1 235.0,216.9 235.8,217.5 236.6,218.0 237.4,218.4 238.2,218.6 239.0,218.7 239.8,218.8 240.6,219.1 241.4,219.4 242.2,219.8 243.0,220.6 243.8,221.5 244.6,222.4 245.4,223.1" fill="none" stroke="#fff" stroke-width="2.6" stroke-linejoin="round" stroke-linecap="round"/>
<polyline points="60.6,281.9 61.4,286.4 62.2,290.0 63.0,291.0 63.8,291.9 64.6,292.9 65.4,293.8 66.2,294.6 67.0,295.0 67.8,295.3 68.6,295.6 69.4,295.8 70.2,296.0 71.0,296.2 71.8,296.5 72.6,296.0 73.4,295.3 74.2,294.8 75.0,294.2 75.8,293.7 76.6,292.8 77.4,291.7 78.2,290.6 79.0,289.4 79.8,288.3 80.6,287.2 81.4,286.0 82.2,284.8 83.0,283.6 83.8,282.9 84.6,282.3 85.4,281.8 86.2,281.3 87.0,280.9 87.8,280.5 88.6,279.6 89.4,278.3 90.2,277.1 91.0,275.7 91.8,274.3 92.6,271.5 93.4,268.3 94.2,264.0 95.0,258.8 95.8,253.9 96.6,250.2 97.4,246.6 98.2,243.2 99.0,239.9 99.8,236.7 100.6,233.8 101.4,230.9 102.2,227.9 103.0,224.7 103.8,221.4 104.6,219.0 105.4,217.6 106.2,216.2 107.0,214.9 107.8,213.6 108.6,212.5 109.4,211.4 110.2,210.4 111.0,209.4 111.8,208.3 112.6,207.1 113.4,206.8 114.2,207.2 115.0,207.6 115.8,207.9 116.6,208.2 117.4,207.2 118.2,205.9 119.0,204.5 119.8,203.2 120.6,202.2 121.4,203.0 122.2,203.9 123.0,204.9 123.8,206.0 124.6,206.5 125.4,206.1 126.2,205.7 127.0,205.3 127.8,204.9 128.6,205.6 129.4,206.5 130.2,207.5 131.0,208.4 131.8,209.1 132.6,208.7 133.4,208.4 134.2,208.1 135.0,207.8 135.8,207.6 136.6,207.6 137.4,207.5 138.2,207.4 139.0,207.1 139.8,206.7 140.6,206.3 141.4,205.7 142.2,205.2 143.0,204.6 143.8,203.9 144.6,203.2 145.4,202.6 146.2,202.0 147.0,201.5 147.8,201.0 148.6,200.5 149.4,199.9 150.2,199.4 151.0,198.6 151.8,197.9 152.6,197.1 153.4,196.4 154.2,195.6 155.0,195.0 155.8,194.4 156.6,193.8 157.4,193.4 158.2,193.0 159.0,192.6 159.8,192.2 160.6,191.8 161.4,191.4 162.2,191.0 163.0,190.5 163.8,189.9 164.6,189.2 165.4,188.5 166.2,187.7 167.0,186.9 167.8,186.1 168.6,185.4 169.4,184.6 170.2,183.9 171.0,183.2 171.8,182.5 172.6,181.7 173.4,180.9 174.2,180.1 175.0,179.1 175.8,178.3 176.6,177.4 177.4,176.5 178.2,175.5 179.0,174.6 179.8,173.8 180.6,173.0 181.4,172.4 182.2,171.8 183.0,171.3 183.8,170.9 184.6,170.5 185.4,170.8 186.2,171.1 187.0,171.3 187.8,171.5 188.6,171.7 189.4,171.8 190.2,172.0 191.0,172.2 191.8,172.5 192.6,172.9 193.4,173.6 194.2,174.3 195.0,175.0 195.8,175.7 196.6,176.3 197.4,177.2 198.2,178.4 199.0,179.4 199.8,180.3 200.6,181.1 201.4,181.9 202.2,182.6 203.0,183.3 203.8,184.1 204.6,184.8 205.4,185.7 206.2,186.6 207.0,187.6 207.8,188.7 208.6,189.7 209.4,190.7 210.2,191.7 211.0,192.7 211.8,193.7 212.6,194.6 213.4,195.5 214.2,196.4 215.0,197.4 215.8,198.5 216.6,199.7 217.4,201.0 218.2,202.3 219.0,203.7 219.8,205.2 220.6,206.5 221.4,207.5 222.2,208.3 223.0,209.1 223.8,209.9 224.6,210.5 225.4,211.1 226.2,211.6 227.0,212.2 227.8,212.7 228.6,213.3 229.4,213.8 230.2,214.3 231.0,214.8 231.8,215.3 232.6,215.8 233.4,216.2 234.2,216.6 235.0,216.9 235.8,217.1 236.6,217.3 237.4,217.5 238.2,217.6 239.0,217.8 239.8,218.0 240.6,218.3 241.4,218.7 242.2,219.2 243.0,220.0 243.8,221.2 244.6,222.3 245.4,223.5" fill="none" stroke="#fff" stroke-width="2.6" stroke-linejoin="round" stroke-linecap="round"/>
<polyline points="60.6,282.5 61.4,287.1 62.2,290.6 63.0,291.4 63.8,292.0 64.6,292.7 65.4,293.4 66.2,294.2 67.0,294.7 67.8,295.2 68.6,295.8 69.4,296.2 70.2,296.5 71.0,296.6 71.8,296.7 72.6,296.1 73.4,295.4 74.2,294.8 75.0,294.4 75.8,293.9 76.6,292.9 77.4,291.7 78.2,290.3 79.0,288.8 79.8,287.6 80.6,286.4 81.4,285.3 82.2,284.4 83.0,283.6 83.8,283.3 84.6,282.9 85.4,282.4 86.2,281.7 87.0,281.1 87.8,280.5 88.6,279.5 89.4,278.5 90.2,277.7 91.0,276.9 91.8,276.0 92.6,274.0 93.4,271.5 94.2,268.2 95.0,264.4 95.8,260.2 96.6,256.8 97.4,253.4 98.2,249.8 99.0,246.1 99.8,242.2 100.6,238.1 101.4,233.9 102.2,229.6 103.0,225.5 103.8,221.4 104.6,218.6 105.4,217.0 106.2,215.4 107.0,214.0 107.8,212.4 108.6,210.9 109.4,209.4 110.2,208.0 111.0,206.7 111.8,205.7 112.6,204.9 113.4,205.0 114.2,206.1 115.0,207.1 115.8,207.9 116.6,208.8 117.4,208.5 118.2,208.2 119.0,207.8 119.8,207.5 120.6,207.5 121.4,208.6 122.2,209.5 123.0,210.1 123.8,210.9 124.6,211.2 125.4,210.8 126.2,210.6 127.0,210.4 127.8,210.3 128.6,210.6 129.4,211.0 130.2,211.1 131.0,211.2 131.8,211.1 132.6,210.0 133.4,209.1 134.2,208.3 135.0,207.5 135.8,207.0 136.6,206.7 137.4,206.3 138.2,205.7 139.0,205.2 139.8,204.6 140.6,204.2 141.4,203.9 142.2,203.8 143.0,203.9 143.8,203.7 144.6,203.5 145.4,203.2 146.2,202.7 147.0,202.2 147.8,201.8 148.6,201.6 149.4,201.5 150.2,201.4 151.0,201.2 151.8,201.0 152.6,200.5 153.4,199.9 154.2,199.2 155.0,198.4 155.8,197.7 156.6,197.2 157.4,196.7 158.2,196.2 159.0,195.6 159.8,194.8 160.6,193.9 161.4,192.8 162.2,191.6 163.0,190.5 163.8,189.6 164.6,188.7 165.4,188.0 166.2,187.3 167.0,186.5 167.8,185.6 168.6,184.6 169.4,183.5 170.2,182.5 171.0,181.6 171.8,180.9 172.6,180.4 173.4,179.9 174.2,179.5 175.0,178.9 175.8,178.4 176.6,177.8 177.4,177.3 178.2,176.8 179.0,176.5 179.8,176.3 180.6,176.2 181.4,176.1 182.2,175.9 183.0,175.6 183.8,175.0 184.6,174.5 185.4,174.5 186.2,174.5 187.0,174.6 187.8,174.9 188.6,175.1 189.4,175.2 190.2,175.1 191.0,174.8 191.8,174.4 192.6,174.1 193.4,174.1 194.2,174.3 195.0,174.6 195.8,175.0 196.6,175.4 197.4,176.0 198.2,176.8 199.0,177.5 199.8,178.2 200.6,179.0 201.4,179.9 202.2,181.1 203.0,182.4 203.8,183.8 204.6,185.1 205.4,186.3 206.2,187.5 207.0,188.7 207.8,189.8 208.6,191.1 209.4,192.6 210.2,194.2 211.0,195.8 211.8,197.3 212.6,198.7 213.4,199.8 214.2,200.8 215.0,201.7 215.8,202.6 216.6,203.6 217.4,204.7 218.2,205.9 219.0,207.0 219.8,208.0 220.6,208.8 221.4,209.0 222.2,209.1 223.0,209.3 223.8,209.5 224.6,210.0 225.4,210.5 226.2,211.1 227.0,211.7 227.8,212.1 228.6,212.4 229.4,212.6 230.2,212.8 231.0,213.2 231.8,213.7 232.6,214.4 233.4,215.2 234.2,216.0 235.0,216.8 235.8,217.3 236.6,217.8 237.4,218.3 238.2,218.8 239.0,219.3 239.8,220.1 240.6,220.9 241.4,221.8 242.2,222.5 243.0,223.4 243.8,224.3 244.6,225.2 245.4,226.0" fill="none" stroke="#fff" stroke-width="2.6" stroke-linejoin="round" stroke-linecap="round"/>
<polyline points="60.6,282.5 61.4,286.9 62.2,290.5 63.0,291.5 63.8,292.4 64.6,293.2 65.4,293.9 66.2,294.5 67.0,294.6 67.8,294.8 68.6,295.1 69.4,295.5 70.2,295.9 71.0,296.4 71.8,296.9 72.6,296.6 73.4,296.0 74.2,295.4 75.0,294.7 75.8,293.9 76.6,292.7 77.4,291.3 78.2,289.9 79.0,288.7 79.8,287.7 80.6,286.7 81.4,285.9 82.2,285.1 83.0,284.2 83.8,283.9 84.6,283.5 85.4,283.0 86.2,282.4 87.0,281.8 87.8,281.2 88.6,280.2 89.4,279.2 90.2,278.2 91.0,277.3 91.8,276.4 92.6,274.6 93.4,272.4 94.2,269.3 95.0,265.5 95.8,261.0 96.6,256.9 97.4,252.7 98.2,248.4 99.0,244.0 99.8,239.8 100.6,235.8 101.4,232.0 102.2,228.3 103.0,224.6 103.8,221.1 104.6,218.7 105.4,217.3 106.2,216.0 107.0,214.7 107.8,213.5 108.6,212.5 109.4,211.6 110.2,210.9 111.0,210.2 111.8,209.7 112.6,209.3 113.4,209.7 114.2,210.9 115.0,212.1 115.8,213.1 116.6,214.0 117.4,214.1 118.2,213.7 119.0,212.8 119.8,211.8 120.6,210.9 121.4,210.9 122.2,211.0 123.0,211.1 123.8,211.8 124.6,212.0 125.4,211.6 126.2,211.1 127.0,210.4 127.8,209.6 128.6,209.4 129.4,209.3 130.2,209.4 131.0,209.6 131.8,209.9 132.6,209.1 133.4,208.5 134.2,208.0 135.0,207.6 135.8,207.3 136.6,207.3 137.4,207.2 138.2,207.1 139.0,206.9 139.8,206.7 140.6,206.5 141.4,206.3 142.2,206.1 143.0,206.0 143.8,205.9 144.6,205.8 145.4,205.7 146.2,205.6 147.0,205.4 147.8,205.2 148.6,204.8 149.4,204.4 150.2,203.7 151.0,202.9 151.8,202.0 152.6,201.1 153.4,200.2 154.2,199.5 155.0,198.7 155.8,198.0 156.6,197.3 157.4,196.6 158.2,195.8 159.0,194.9 159.8,193.9 160.6,192.9 161.4,191.9 162.2,190.9 163.0,190.0 163.8,189.2 164.6,188.4 165.4,187.8 166.2,187.3 167.0,186.9 167.8,186.4 168.6,185.9 169.4,185.4 170.2,184.8 171.0,184.2 171.8,183.5 172.6,182.8 173.4,182.2 174.2,181.6 175.0,181.0 175.8,180.8 176.6,180.6 177.4,180.3 178.2,180.0 179.0,179.7 179.8,179.2 180.6,178.6 181.4,177.9 182.2,177.1 183.0,176.3 183.8,175.4 184.6,174.7 185.4,174.5 186.2,174.4 187.0,174.3 187.8,174.2 188.6,174.2 189.4,174.1 190.2,174.0 191.0,173.9 191.8,173.7 192.6,173.6 193.4,173.8 194.2,174.0 195.0,174.4 195.8,174.8 196.6,175.4 197.4,176.4 198.2,177.7 199.0,179.2 199.8,180.6 200.6,181.9 201.4,183.3 202.2,184.5 203.0,185.7 203.8,186.8 204.6,188.0 205.4,189.2 206.2,190.4 207.0,191.7 207.8,193.0 208.6,194.4 209.4,195.7 210.2,196.9 211.0,198.0 211.8,199.1 212.6,200.0 213.4,200.7 214.2,201.3 215.0,201.9 215.8,202.6 216.6,203.3 217.4,204.0 218.2,204.9 219.0,205.8 219.8,206.8 220.6,207.7 221.4,208.2 222.2,208.8 223.0,209.2 223.8,209.7 224.6,210.1 225.4,210.6 226.2,211.1 227.0,211.7 227.8,212.5 228.6,213.3 229.4,214.1 230.2,214.9 231.0,215.8 231.8,216.6 232.6,217.3 233.4,218.0 234.2,218.5 235.0,219.0 235.8,219.5 236.6,219.9 237.4,220.4 238.2,220.9 239.0,221.4 239.8,222.0 240.6,222.5 241.4,223.1 242.2,223.5 243.0,224.2 243.8,225.0 244.6,225.7 245.4,226.4" fill="none" stroke="#fff" stroke-width="2.6" stroke-linejoin="round" stroke-linecap="round"/>
<polyline points="60.6,282.2 61.4,286.4 62.2,289.9 63.0,290.9 63.8,292.0 64.6,293.1 65.4,294.1 66.2,295.0 67.0,295.3 67.8,295.5 68.6,295.6 69.4,295.8 70.2,296.0 71.0,296.3 71.8,296.7 72.6,296.4 73.4,296.0 74.2,295.6 75.0,295.0 75.8,294.4 76.6,293.1 77.4,291.7 78.2,290.2 79.0,288.8 79.8,287.7 80.6,286.7 81.4,285.8 82.2,284.9 83.0,284.1 83.8,283.7 84.6,283.3 85.4,282.8 86.2,282.2 87.0,281.6 87.8,280.9 88.6,280.0 89.4,279.0 90.2,278.2 91.0,277.5 91.8,276.8 92.6,275.3 93.4,273.5 94.2,271.0 95.0,268.1 95.8,264.2 96.6,260.8 97.4,257.3 98.2,253.6 99.0,249.9 99.8,246.2 100.6,242.2 101.4,238.1 102.2,234.1 103.0,230.0 103.8,225.9 104.6,222.7 105.4,220.4 106.2,218.3 107.0,216.5 107.8,214.9 108.6,213.7 109.4,212.7 110.2,211.8 111.0,210.9 111.8,209.9 112.6,208.9 113.4,208.7 114.2,209.3 115.0,210.0 115.8,210.8 116.6,211.7 117.4,211.9 118.2,212.0 119.0,211.8 119.8,211.6 120.6,211.4 121.4,212.0 122.2,212.5 123.0,212.7 123.8,213.5 124.6,213.8 125.4,213.8 126.2,213.9 127.0,213.9 127.8,214.0 128.6,214.2 129.4,214.3 130.2,214.3 131.0,214.2 131.8,214.0 132.6,212.9 133.4,211.9 134.2,210.9 135.0,210.1 135.8,209.4 136.6,208.9 137.4,208.6 138.2,208.2 139.0,207.8 139.8,207.4 140.6,206.9 141.4,206.4 142.2,205.9 143.0,205.5 143.8,205.0 144.6,204.7 145.4,204.6 146.2,204.5 147.0,204.4 147.8,204.4 148.6,204.2 149.4,203.9 150.2,203.6 151.0,203.0 151.8,202.4 152.6,201.8 153.4,201.3 154.2,200.9 155.0,200.6 155.8,200.2 156.6,199.7 157.4,199.1 158.2,198.4 159.0,197.5 159.8,196.5 160.6,195.4 161.4,194.4 162.2,193.5 163.0,192.6 163.8,191.8 164.6,191.1 165.4,190.3 166.2,189.5 167.0,188.6 167.8,187.6 168.6,186.5 169.4,185.5 170.2,184.5 171.0,183.6 171.8,182.8 172.6,182.2 173.4,181.7 174.2,181.2 175.0,180.8 175.8,180.4 176.6,180.0 177.4,179.6 178.2,179.1 179.0,178.6 179.8,178.2 180.6,178.0 181.4,177.8 182.2,177.7 183.0,177.6 183.8,177.4 184.6,177.3 185.4,177.5 186.2,177.5 187.0,177.4 187.8,177.3 188.6,177.1 189.4,177.0 190.2,177.0 191.0,177.0 191.8,177.1 192.6,177.2 193.4,177.4 194.2,177.5 195.0,177.6 195.8,177.5 196.6,177.5 197.4,177.8 198.2,178.6 199.0,179.4 199.8,180.5 200.6,181.6 201.4,182.8 202.2,184.0 203.0,185.1 203.8,186.2 204.6,187.3 205.4,188.3 206.2,189.5 207.0,190.7 207.8,192.0 208.6,193.4 209.4,195.0 210.2,196.6 211.0,198.1 211.8,199.6 212.6,201.0 213.4,202.1 214.2,203.1 215.0,204.1 215.8,205.0 216.6,206.0 217.4,207.0 218.2,208.0 219.0,209.1 219.8,210.2 220.6,211.1 221.4,211.6 222.2,211.9 223.0,212.1 223.8,212.2 224.6,212.3 225.4,212.5 226.2,212.8 227.0,213.3 227.8,213.8 228.6,214.4 229.4,214.9 230.2,215.4 231.0,215.8 231.8,216.2 232.6,216.5 233.4,216.8 234.2,217.3 235.0,217.8 235.8,218.4 236.6,219.2 237.4,220.0 238.2,220.8 239.0,221.6 239.8,222.3 240.6,222.9 241.4,223.4 242.2,223.8 243.0,224.6 243.8,225.5 244.6,226.6 245.4,227.7" fill="none" stroke="#fff" stroke-width="2.6" stroke-linejoin="round" stroke-linecap="round"/>
<polyline points="60.6,282.5 61.4,286.6 62.2,289.9 63.0,290.8 63.8,291.7 64.6,292.8 65.4,293.9 66.2,294.9 67.0,295.3 67.8,295.7 68.6,295.9 69.4,296.1 70.2,296.2 71.0,296.4 71.8,296.7 72.6,296.4 73.4,295.9 74.2,295.5 75.0,295.1 75.8,294.7 76.6,293.6 77.4,292.2 78.2,290.8 79.0,289.3 79.8,288.1 80.6,287.0 81.4,285.9 82.2,285.0 83.0,284.1 83.8,283.8 84.6,283.4 85.4,283.0 86.2,282.5 87.0,281.9 87.8,281.2 88.6,280.2 89.4,279.1 90.2,278.0 91.0,277.2 91.8,276.4 92.6,274.9 93.4,273.1 94.2,270.8 95.0,268.1 95.8,264.6 96.6,261.5 97.4,258.3 98.2,254.9 99.0,251.5 99.8,248.2 100.6,244.5 101.4,240.6 102.2,236.9 103.0,233.3 103.8,229.4 104.6,226.6 105.4,224.2 106.2,222.0 107.0,220.1 107.8,218.2 108.6,217.0 109.4,215.9 110.2,214.9 111.0,213.9 111.8,212.9 112.6,211.8 113.4,211.3 114.2,211.6 115.0,211.9 115.8,212.2 116.6,212.7 117.4,212.5 118.2,212.1 119.0,211.6 119.8,211.1 120.6,210.9 121.4,211.6 122.2,212.1 123.0,212.5 123.8,213.4 124.6,213.9 125.4,213.9 126.2,214.1 127.0,214.4 127.8,214.8 128.6,215.2 129.4,215.7 130.2,216.0 131.0,216.1 131.8,216.0 132.6,215.3 133.4,214.5 134.2,213.7 135.0,212.8 135.8,212.1 136.6,211.6 137.4,211.1 138.2,210.7 139.0,210.2 139.8,209.7 140.6,209.1 141.4,208.4 142.2,207.7 143.0,207.0 143.8,206.3 144.6,205.7 145.4,205.2 146.2,204.9 147.0,204.6 147.8,204.4 148.6,204.2 149.4,204.0 150.2,203.6 151.0,202.9 151.8,202.3 152.6,201.7 153.4,201.1 154.2,200.7 155.0,200.3 155.8,200.0 156.6,199.8 157.4,199.5 158.2,199.0 159.0,198.4 159.8,197.7 160.6,196.9 161.4,196.0 162.2,195.1 163.0,194.3 163.8,193.6 164.6,192.9 165.4,192.3 166.2,191.6 167.0,190.8 167.8,189.9 168.6,188.8 169.4,187.7 170.2,186.6 171.0,185.5 171.8,184.5 172.6,183.6 173.4,182.8 174.2,182.1 175.0,181.5 175.8,181.1 176.6,180.6 177.4,180.0 178.2,179.4 179.0,178.8 179.8,178.2 180.6,177.7 181.4,177.4 182.2,177.2 183.0,177.1 183.8,177.1 184.6,177.1 185.4,177.5 186.2,177.8 187.0,178.0 187.8,178.1 188.6,178.2 189.4,178.3 190.2,178.4 191.0,178.6 191.8,178.8 192.6,179.2 193.4,179.6 194.2,180.0 195.0,180.2 195.8,180.3 196.6,180.2 197.4,180.5 198.2,181.2 199.0,181.9 199.8,182.8 200.6,183.7 201.4,184.7 202.2,185.7 203.0,186.7 203.8,187.7 204.6,188.5 205.4,189.4 206.2,190.3 207.0,191.2 207.8,192.3 208.6,193.4 209.4,194.7 210.2,196.2 211.0,197.7 211.8,199.2 212.6,200.7 213.4,202.0 214.2,203.1 215.0,204.2 215.8,205.3 216.6,206.4 217.4,207.5 218.2,208.7 219.0,210.0 219.8,211.3 220.6,212.5 221.4,213.2 222.2,213.8 223.0,214.2 223.8,214.5 224.6,214.8 225.4,215.0 226.2,215.2 227.0,215.5 227.8,216.0 228.6,216.4 229.4,216.9 230.2,217.3 231.0,217.6 231.8,217.8 232.6,218.0 233.4,218.2 234.2,218.3 235.0,218.6 235.8,218.9 236.6,219.4 237.4,220.1 238.2,220.8 239.0,221.5 239.8,222.1 240.6,222.7 241.4,223.3 242.2,223.7 243.0,224.5 243.8,225.5 244.6,226.5 245.4,227.7" fill="none" stroke="#fff" stroke-width="2.6" stroke-linejoin="round" stroke-linecap="round"/>
<polyline points="60.6,282.6 61.4,287.0 62.2,290.5 63.0,291.5 63.8,292.3 64.6,293.1 65.4,293.9 66.2,294.5 67.0,294.7 67.8,295.0 68.6,295.3 69.4,295.7 70.2,296.1 71.0,296.6 71.8,297.1 72.6,296.9 73.4,296.5 74.2,296.0 75.0,295.4 75.8,294.8 76.6,293.5 77.4,292.1 78.2,290.6 79.0,289.2 79.8,288.2 80.6,287.3 81.4,286.4 82.2,285.6 83.0,284.8 83.8,284.4 84.6,284.0 85.4,283.5 86.2,282.9 87.0,282.3 87.8,281.6 88.6,280.6 89.4,279.6 90.2,278.5 91.0,277.5 91.8,276.6 92.6,274.8 93.4,272.9 94.2,270.4 95.0,267.5 95.8,263.8 96.6,260.7 97.4,257.6 98.2,254.3 99.0,250.9 99.8,247.6 100.6,244.0 101.4,240.2 102.2,236.7 103.0,233.3 103.8,229.9 104.6,227.7 105.4,226.0 106.2,224.3 107.0,223.0 107.8,221.6 108.6,220.7 109.4,219.9 110.2,218.9 111.0,217.9 111.8,216.9 112.6,215.8 113.4,215.3 114.2,215.6 115.0,215.9 115.8,216.2 116.6,216.6 117.4,216.4 118.2,215.8 119.0,214.7 119.8,213.6 120.6,212.5 121.4,212.4 122.2,212.2 123.0,212.2 123.8,212.9 124.6,213.2 125.4,213.3 126.2,213.4 127.0,213.7 127.8,214.1 128.6,214.6 129.4,215.2 130.2,215.6 131.0,215.9 131.8,216.0 132.6,215.5 133.4,215.1 134.2,214.6 135.0,214.1 135.8,213.7 136.6,213.4 137.4,213.1 138.2,212.8 139.0,212.5 139.8,212.1 140.6,211.7 141.4,211.1 142.2,210.5 143.0,209.8 143.8,209.1 144.6,208.3 145.4,207.6 146.2,206.9 147.0,206.3 147.8,205.7 148.6,205.2 149.4,204.8 150.2,204.3 151.0,203.7 151.8,203.1 152.6,202.4 153.4,201.7 154.2,201.0 155.0,200.3 155.8,199.6 156.6,199.0 157.4,198.4 158.2,197.8 159.0,197.4 159.8,196.9 160.6,196.6 161.4,196.2 162.2,195.8 163.0,195.4 163.8,194.9 164.6,194.3 165.4,193.6 166.2,192.8 167.0,192.0 167.8,191.1 168.6,190.3 169.4,189.5 170.2,188.7 171.0,188.0 171.8,187.2 172.6,186.5 173.4,185.7 174.2,184.9 175.0,184.0 175.8,183.3 176.6,182.5 177.4,181.7 178.2,180.8 179.0,180.0 179.8,179.2 180.6,178.6 181.4,178.0 182.2,177.6 183.0,177.2 183.8,176.9 184.6,176.7 185.4,177.0 186.2,177.2 187.0,177.5 187.8,177.7 188.6,177.9 189.4,178.0 190.2,178.2 191.0,178.5 191.8,178.8 192.6,179.2 193.4,179.8 194.2,180.5 195.0,181.1 195.8,181.7 196.6,182.2 197.4,183.0 198.2,184.1 199.0,185.0 199.8,185.9 200.6,186.7 201.4,187.5 202.2,188.3 203.0,189.1 203.8,189.9 204.6,190.9 205.4,191.8 206.2,192.9 207.0,193.9 207.8,194.9 208.6,195.8 209.4,196.7 210.2,197.6 211.0,198.5 211.8,199.4 212.6,200.3 213.4,201.3 214.2,202.3 215.0,203.4 215.8,204.6 216.6,205.9 217.4,207.3 218.2,208.7 219.0,210.0 219.8,211.3 220.6,212.5 221.4,213.2 222.2,213.8 223.0,214.4 223.8,214.9 224.6,215.5 225.4,216.1 226.2,216.7 227.0,217.4 227.8,218.0 228.6,218.7 229.4,219.2 230.2,219.6 231.0,220.0 231.8,220.2 232.6,220.4 233.4,220.5 234.2,220.6 235.0,220.7 235.8,220.9 236.6,221.1 237.4,221.4 238.2,221.8 239.0,222.2 239.8,222.7 240.6,223.2 241.4,223.7 242.2,224.2 243.0,224.9 243.8,225.8 244.6,226.7 245.4,227.6" fill="none" stroke="#fff" stroke-width="2.6" stroke-linejoin="round" stroke-linecap="round"/>
<polyline points="60.6,282.3 61.4,286.6 62.2,290.2 63.0,291.4 63.8,292.4 64.6,293.2 65.4,294.0 66.2,294.5 67.0,294.7 67.8,295.0 68.6,295.5 69.4,296.0 70.2,296.6 71.0,297.1 71.8,297.4 72.6,296.9 73.4,296.2 74.2,295.5 75.0,294.9 75.8,294.4 76.6,293.5 77.4,292.4 78.2,291.3 79.0,290.0 79.8,288.9 80.6,287.8 81.4,286.6 82.2,285.5 83.0,284.6 83.8,284.2 84.6,283.9 85.4,283.6 86.2,283.1 87.0,282.5 87.8,281.8 88.6,280.8 89.4,279.8 90.2,278.9 91.0,278.2 91.8,277.5 92.6,276.0 93.4,274.2 94.2,271.8 95.0,269.0 95.8,265.2 96.6,262.0 97.4,259.0 98.2,255.9 99.0,252.9 99.8,249.9 100.6,246.5 101.4,242.7 102.2,239.0 103.0,235.3 103.8,231.6 104.6,229.1 105.4,227.2 106.2,225.5 107.0,224.4 107.8,223.0 108.6,222.3 109.4,221.5 110.2,220.6 111.0,219.6 111.8,218.6 112.6,217.7 113.4,217.4 114.2,217.8 115.0,218.2 115.8,218.5 116.6,218.6 117.4,218.1 118.2,217.4 119.0,216.1 119.8,214.9 120.6,214.1 121.4,214.1 122.2,214.2 123.0,214.3 123.8,214.9 124.6,215.2 125.4,215.0 126.2,215.0 127.0,215.1 127.8,215.6 128.6,216.1 129.4,216.6 130.2,217.0 131.0,217.2 131.8,217.2 132.6,216.6 133.4,216.1 134.2,215.7 135.0,215.4 135.8,215.2 136.6,215.0 137.4,214.8 138.2,214.4 139.0,213.8 139.8,213.0 140.6,212.2 141.4,211.5 142.2,210.9 143.0,210.4 143.8,210.1 144.6,209.7 145.4,209.2 146.2,208.5 147.0,207.8 147.8,206.9 148.6,206.2 149.4,205.6 150.2,205.1 151.0,204.5 151.8,204.0 152.6,203.4 153.4,202.8 154.2,202.0 155.0,201.2 155.8,200.4 156.6,199.8 157.4,199.4 158.2,199.1 159.0,198.8 159.8,198.4 160.6,197.9 161.4,197.3 162.2,196.5 163.0,195.8 163.8,195.1 164.6,194.6 165.4,194.2 166.2,193.8 167.0,193.3 167.8,192.7 168.6,191.8 169.4,190.9 170.2,189.9 171.0,188.9 171.8,188.0 172.6,187.3 173.4,186.6 174.2,185.9 175.0,185.0 175.8,184.3 176.6,183.4 177.4,182.5 178.2,181.7 179.0,181.0 179.8,180.4 180.6,180.1 181.4,179.7 182.2,179.3 183.0,178.8 183.8,178.2 184.6,177.6 185.4,177.6 186.2,177.7 187.0,178.1 187.8,178.5 188.6,179.1 189.4,179.6 190.2,180.0 191.0,180.2 191.8,180.3 192.6,180.5 193.4,180.9 194.2,181.4 195.0,182.1 195.8,182.7 196.6,183.3 197.4,184.1 198.2,185.1 199.0,186.0 199.8,186.8 200.6,187.6 201.4,188.5 202.2,189.6 203.0,190.7 203.8,191.7 204.6,192.7 205.4,193.5 206.2,194.2 207.0,194.8 207.8,195.5 208.6,196.4 209.4,197.4 210.2,198.6 211.0,199.8 211.8,201.0 212.6,202.1 213.4,203.0 214.2,203.8 215.0,204.7 215.8,205.7 216.6,206.9 217.4,208.3 218.2,209.7 219.0,211.1 219.8,212.4 220.6,213.5 221.4,214.0 222.2,214.6 223.0,215.1 223.8,215.9 224.6,216.7 225.4,217.5 226.2,218.3 227.0,219.0 227.8,219.4 228.6,219.7 229.4,219.8 230.2,220.0 231.0,220.3 231.8,220.7 232.6,221.1 233.4,221.6 234.2,222.0 235.0,222.2 235.8,222.2 236.6,222.2 237.4,222.3 238.2,222.5 239.0,222.9 239.8,223.5 240.6,224.1 241.4,224.6 242.2,225.1 243.0,225.7 243.8,226.5 244.6,227.2 245.4,228.2" fill="none" stroke="#fff" stroke-width="2.6" stroke-linejoin="round" stroke-linecap="round"/>
<polyline points="60.6,283.0 61.4,287.1 62.2,290.3 63.0,291.1 63.8,291.8 64.6,292.6 65.4,293.6 66.2,294.5 67.0,295.1 67.8,295.6 68.6,296.1 69.4,296.4 70.2,296.6 71.0,296.7 71.8,296.8 72.6,296.4 73.4,295.9 74.2,295.6 75.0,295.3 75.8,295.0 76.6,294.0 77.4,292.6 78.2,291.2 79.0,289.7 79.8,288.6 80.6,287.6 81.4,286.7 82.2,286.0 83.0,285.3 83.8,285.0 84.6,284.5 85.4,284.0 86.2,283.3 87.0,282.5 87.8,281.8 88.6,281.1 89.4,280.5 90.2,279.9 91.0,279.3 91.8,278.7 92.6,277.2 93.4,275.4 94.2,273.0 95.0,270.3 95.8,266.6 96.6,263.3 97.4,260.2 98.2,256.9 99.0,253.7 99.8,250.5 100.6,246.8 101.4,242.9 102.2,239.0 103.0,235.4 103.8,231.8 104.6,229.4 105.4,227.7 106.2,226.2 107.0,225.1 107.8,224.0 108.6,223.4 109.4,222.9 110.2,222.3 111.0,221.7 111.8,221.0 112.6,220.4 113.4,220.4 114.2,220.9 115.0,221.4 115.8,221.7 116.6,221.9 117.4,221.8 118.2,221.2 119.0,219.8 119.8,218.5 120.6,217.4 121.4,216.8 122.2,216.4 123.0,216.1 123.8,216.6 124.6,216.8 125.4,216.6 126.2,216.4 127.0,216.3 127.8,216.3 128.6,216.5 129.4,216.7 130.2,217.0 131.0,217.3 131.8,217.4 132.6,217.1 133.4,216.7 134.2,216.2 135.0,215.7 135.8,215.4 136.6,215.2 137.4,215.1 138.2,215.0 139.0,214.8 139.8,214.5 140.6,214.0 141.4,213.3 142.2,212.6 143.0,211.8 143.8,211.3 144.6,210.9 145.4,210.6 146.2,210.3 147.0,209.9 147.8,209.4 148.6,208.7 149.4,207.9 150.2,207.0 151.0,206.0 151.8,205.0 152.6,204.3 153.4,203.7 154.2,203.1 155.0,202.5 155.8,201.8 156.6,201.0 157.4,200.2 158.2,199.4 159.0,198.6 159.8,197.9 160.6,197.5 161.4,197.1 162.2,196.8 163.0,196.4 163.8,195.9 164.6,195.3 165.4,194.6 166.2,193.9 167.0,193.2 167.8,192.6 168.6,192.2 169.4,191.7 170.2,191.3 171.0,190.8 171.8,190.0 172.6,189.2 173.4,188.2 174.2,187.1 175.0,186.1 175.8,185.6 176.6,185.1 177.4,184.7 178.2,184.2 179.0,183.7 179.8,183.0 180.6,182.1 181.4,181.3 182.2,180.4 183.0,179.7 183.8,179.1 184.6,178.7 185.4,179.0 186.2,179.2 187.0,179.4 187.8,179.5 188.6,179.5 189.4,179.5 190.2,179.6 191.0,179.8 191.8,180.1 192.6,180.7 193.4,181.5 194.2,182.2 195.0,182.9 195.8,183.3 196.6,183.7 197.4,184.3 198.2,185.4 199.0,186.6 199.8,187.9 200.6,189.2 201.4,190.6 202.2,191.8 203.0,192.9 203.8,193.8 204.6,194.6 205.4,195.3 206.2,196.1 207.0,196.9 207.8,197.8 208.6,198.9 209.4,200.0 210.2,201.0 211.0,201.9 211.8,202.7 212.6,203.5 213.4,204.1 214.2,204.8 215.0,205.6 215.8,206.7 216.6,207.9 217.4,209.1 218.2,210.3 219.0,211.5 219.8,212.5 220.6,213.4 221.4,213.9 222.2,214.5 223.0,215.3 223.8,216.1 224.6,217.1 225.4,218.0 226.2,218.9 227.0,219.5 227.8,220.1 228.6,220.5 229.4,220.7 230.2,221.1 231.0,221.5 231.8,222.0 232.6,222.6 233.4,223.1 234.2,223.6 235.0,223.8 235.8,223.9 236.6,224.0 237.4,224.0 238.2,224.1 239.0,224.5 239.8,224.9 240.6,225.4 241.4,226.0 242.2,226.4 243.0,227.0 243.8,227.6 244.6,228.3 245.4,229.0" fill="none" stroke="#fff" stroke-width="2.6" stroke-linejoin="round" stroke-linecap="round"/>
<polyline points="60.6,282.3 61.4,286.5 62.2,289.9 63.0,291.0 63.8,292.1 64.6,293.2 65.4,294.3 66.2,295.1 67.0,295.5 67.8,295.8 68.6,296.0 69.4,296.2 70.2,296.4 71.0,296.7 71.8,296.9 72.6,296.6 73.4,296.1 74.2,295.7 75.0,295.3 75.8,295.0 76.6,294.0 77.4,292.8 78.2,291.5 79.0,290.2 79.8,289.2 80.6,288.2 81.4,287.1 82.2,286.1 83.0,285.0 83.8,284.4 84.6,283.8 85.4,283.3 86.2,282.9 87.0,282.5 87.8,282.1 88.6,281.6 89.4,281.0 90.2,280.4 91.0,279.6 91.8,278.9 92.6,277.5 93.4,275.9 94.2,274.0 95.0,272.2 95.8,269.0 96.6,266.3 97.4,263.6 98.2,260.6 99.0,257.7 99.8,254.7 100.6,251.1 101.4,247.1 102.2,243.4 103.0,239.8 103.8,236.1 104.6,233.2 105.4,230.7 106.2,228.3 107.0,226.6 107.8,224.9 108.6,224.1 109.4,223.7 110.2,223.3 111.0,222.8 111.8,222.1 112.6,221.4 113.4,221.1 114.2,221.2 115.0,221.3 115.8,221.4 116.6,221.4 117.4,221.3 118.2,220.8 119.0,219.6 119.8,218.6 120.6,217.7 121.4,217.3 122.2,217.0 123.0,216.8 123.8,217.6 124.6,218.3 125.4,218.7 126.2,219.2 127.0,219.8 127.8,220.3 128.6,220.4 129.4,220.2 130.2,220.0 131.0,219.8 131.8,219.5 132.6,219.2 133.4,218.9 134.2,218.5 135.0,218.1 135.8,217.7 136.6,217.3 137.4,216.9 138.2,216.4 139.0,215.8 139.8,215.2 140.6,214.5 141.4,213.7 142.2,212.8 143.0,212.0 143.8,211.4 144.6,210.8 145.4,210.2 146.2,209.8 147.0,209.3 147.8,208.9 148.6,208.6 149.4,208.1 150.2,207.6 151.0,206.9 151.8,206.1 152.6,205.3 153.4,204.5 154.2,203.8 155.0,203.1 155.8,202.5 156.6,202.0 157.4,201.5 158.2,201.2 159.0,200.8 159.8,200.4 160.6,200.0 161.4,199.6 162.2,199.1 163.0,198.5 163.8,197.8 164.6,197.0 165.4,196.1 166.2,195.2 167.0,194.4 167.8,193.6 168.6,192.9 169.4,192.2 170.2,191.6 171.0,190.9 171.8,190.2 172.6,189.4 173.4,188.6 174.2,187.7 175.0,186.7 175.8,186.0 176.6,185.2 177.4,184.4 178.2,183.7 179.0,183.0 179.8,182.4 180.6,181.9 181.4,181.4 182.2,181.1 183.0,180.8 183.8,180.6 184.6,180.5 185.4,180.8 186.2,181.1 187.0,181.4 187.8,181.7 188.6,181.9 189.4,182.1 190.2,182.3 191.0,182.5 191.8,182.8 192.6,183.2 193.4,183.7 194.2,184.1 195.0,184.5 195.8,184.9 196.6,185.2 197.4,186.0 198.2,187.2 199.0,188.2 199.8,189.3 200.6,190.2 201.4,190.9 202.2,191.7 203.0,192.4 203.8,193.2 204.6,194.1 205.4,195.0 206.2,196.0 207.0,197.0 207.8,198.1 208.6,199.1 209.4,200.2 210.2,201.2 211.0,202.3 211.8,203.3 212.6,204.3 213.4,205.2 214.2,206.2 215.0,207.2 215.8,208.3 216.6,209.5 217.4,210.8 218.2,212.1 219.0,213.5 219.8,214.8 220.6,216.1 221.4,216.9 222.2,217.6 223.0,218.3 223.8,218.7 224.6,219.1 225.4,219.4 226.2,219.7 227.0,220.1 227.8,220.5 228.6,221.0 229.4,221.5 230.2,221.9 231.0,222.3 231.8,222.7 232.6,223.0 233.4,223.3 234.2,223.5 235.0,223.7 235.8,223.8 236.6,223.9 237.4,224.0 238.2,224.2 239.0,224.5 239.8,224.8 240.6,225.3 241.4,225.8 242.2,226.4 243.0,227.4 243.8,228.5 244.6,229.6 245.4,230.8" fill="none" stroke="#fff" stroke-width="2.6" stroke-linejoin="round" stroke-linecap="round"/>
<polyline points="60.6,282.5 61.4,286.7 62.2,290.2 63.0,291.4 63.8,292.4 64.6,293.4 65.4,294.2 66.2,294.9 67.0,295.0 67.8,295.2 68.6,295.6 69.4,296.0 70.2,296.5 71.0,297.1 71.8,297.6 72.6,297.3 73.4,296.7 74.2,296.1 75.0,295.4 75.8,294.7 76.6,293.5 77.4,292.2 78.2,291.0 79.0,289.9 79.8,289.2 80.6,288.4 81.4,287.5 82.2,286.4 83.0,285.3 83.8,284.6 84.6,283.9 85.4,283.4 86.2,282.9 87.0,282.6 87.8,282.3 88.6,281.9 89.4,281.4 90.2,280.7 91.0,280.0 91.8,279.2 92.6,278.0 93.4,276.8 94.2,275.6 95.0,274.7 95.8,272.3 96.6,270.0 97.4,267.5 98.2,264.1 99.0,260.5 99.8,256.8 100.6,252.3 101.4,247.6 102.2,243.3 103.0,239.4 103.8,235.6 104.6,233.1 105.4,230.9 106.2,228.8 107.0,227.2 107.8,225.4 108.6,224.5 109.4,223.8 110.2,223.2 111.0,222.7 111.8,222.3 112.6,221.6 113.4,221.4 114.2,221.7 115.0,222.0 115.8,222.1 116.6,222.2 117.4,222.2 118.2,221.9 119.0,221.0 119.8,220.3 120.6,219.7 121.4,219.6 122.2,219.4 123.0,219.2 123.8,219.9 124.6,220.5 125.4,221.0 126.2,221.5 127.0,222.1 127.8,222.4 128.6,222.1 129.4,221.7 130.2,221.4 131.0,221.1 131.8,220.6 132.6,220.1 133.4,219.4 134.2,218.7 135.0,218.0 135.8,217.3 136.6,216.7 137.4,216.3 138.2,215.9 139.0,215.6 139.8,215.2 140.6,214.8 141.4,214.2 142.2,213.4 143.0,212.5 143.8,211.8 144.6,211.1 145.4,210.6 146.2,210.2 147.0,209.9 147.8,209.7 148.6,209.4 149.4,209.0 150.2,208.5 151.0,207.7 151.8,207.0 152.6,206.2 153.4,205.6 154.2,205.1 155.0,204.8 155.8,204.5 156.6,204.2 157.4,203.7 158.2,203.0 159.0,202.1 159.8,201.2 160.6,200.3 161.4,199.4 162.2,198.7 163.0,198.0 163.8,197.5 164.6,196.9 165.4,196.4 166.2,195.7 167.0,195.0 167.8,194.1 168.6,193.2 169.4,192.3 170.2,191.5 171.0,190.8 171.8,190.2 172.6,189.4 173.4,188.7 174.2,187.9 175.0,187.1 175.8,186.4 176.6,185.7 177.4,185.0 178.2,184.3 179.0,183.8 179.8,183.4 180.6,183.2 181.4,183.0 182.2,182.9 183.0,182.8 183.8,182.6 184.6,182.4 185.4,182.5 186.2,182.6 187.0,182.8 187.8,182.8 188.6,183.0 189.4,183.2 190.2,183.5 191.0,183.8 191.8,183.9 192.6,184.0 193.4,184.1 194.2,184.2 195.0,184.3 195.8,184.4 196.6,184.7 197.4,185.5 198.2,186.8 199.0,188.1 199.8,189.3 200.6,190.5 201.4,191.5 202.2,192.3 203.0,193.0 203.8,193.7 204.6,194.5 205.4,195.4 206.2,196.5 207.0,197.7 207.8,198.9 208.6,200.1 209.4,201.2 210.2,202.3 211.0,203.3 211.8,204.3 212.6,205.5 213.4,206.6 214.2,207.9 215.0,209.3 215.8,210.7 216.6,212.1 217.4,213.1 218.2,214.1 219.0,214.9 219.8,215.6 220.6,216.4 221.4,216.7 222.2,217.2 223.0,217.8 223.8,218.5 224.6,219.1 225.4,219.8 226.2,220.3 227.0,220.7 227.8,221.0 228.6,221.2 229.4,221.4 230.2,221.8 231.0,222.2 231.8,222.7 232.6,223.1 233.4,223.5 234.2,223.8 235.0,224.0 235.8,224.2 236.6,224.3 237.4,224.4 238.2,224.7 239.0,225.1 239.8,225.7 240.6,226.4 241.4,227.2 242.2,228.0 243.0,228.9 243.8,230.0 244.6,230.9 245.4,231.8" fill="none" stroke="#fff" stroke-width="2.6" stroke-linejoin="round" stroke-linecap="round"/>
<polyline points="49.3,166.5 49.3,312 57.6,312 58.6,290 59.6,261.5 60.6,283" fill="none" stroke="#fff" stroke-width="2.6" stroke-linejoin="miter"/>
<polygon points="152.5,198 154.6,188 154.8,59.5 157.3,59.5 157.6,186 159,192 160.2,184 160.5,160.5 162.0,160.5 162.3,184 163,190 163,200 152.5,205" fill="#fff"/>
<polygon points="243.5,222 245.8,196 246.2,115 249.0,115 249.6,128 251.2,144 252.2,145 253.6,126 254.3,116 258.9,116 259.6,133 260.6,131 261.2,118 263.5,118 264.2,150 267.2,163 269,175 269.6,228 267.8,232 266.6,215 264.6,207 263.3,229 262.3,208 259.6,206 258.7,231 257.7,207 254.6,206 253.5,233 252.5,208 249.6,207 248.3,215 247.1,236 245.2,232" fill="#fff"/>
<polyline points="268.0,227.7 268.8,232.3 269.6,236.9 270.4,238.7 271.2,240.0 272.0,241.3 272.8,242.6 273.6,243.9 274.4,245.3 275.2,246.6 276.0,248.1 276.8,249.5 277.6,251.0 278.4,252.5 279.2,254.0 280.0,255.5 280.8,256.9 281.6,258.3 282.4,259.7 283.2,261.3 284.0,263.6 284.8,265.9 285.6,268.2 286.4,270.5 287.2,272.9 288.0,275.0 288.8,276.6 289.6,278.3 290.4,280.0 291.2,281.8 292.0,283.5 292.8,284.9 293.6,285.9 294.4,286.9 295.2,287.8 296.0,288.7 296.8,289.7 297.6,290.6 298.4,291.5 299.2,292.1 300.0,292.6 300.8,293.1 301.6,293.7 302.4,294.2 303.2,294.8 304.0,295.4 304.8,295.9 305.6,296.2 306.4,296.3 307.2,296.5 308.0,296.6 308.8,296.6 309.6,296.6 310.4,296.5 311.2,296.5 312.0,296.5 312.8,296.6 313.6,296.7 314.4,296.8 315.2,296.9" fill="none" stroke="#fff" stroke-width="2.4" stroke-linejoin="round" stroke-linecap="round"/>
<polyline points="268.0,227.8 268.8,232.4 269.6,236.9 270.4,238.6 271.2,240.0 272.0,241.4 272.8,242.8 273.6,244.3 274.4,245.9 275.2,247.4 276.0,249.0 276.8,250.5 277.6,251.9 278.4,253.3 279.2,254.6 280.0,255.9 280.8,257.2 281.6,258.6 282.4,260.0 283.2,261.7 284.0,264.2 284.8,266.7 285.6,269.1 286.4,271.4 287.2,273.8 288.0,275.7 288.8,277.2 289.6,278.7 290.4,280.2 291.2,281.8 292.0,283.4 292.8,284.8 293.6,285.9 294.4,286.9 295.2,287.9 296.0,288.9 296.8,289.8 297.6,290.7 298.4,291.5 299.2,292.2 300.0,292.7 300.8,293.3 301.6,293.9 302.4,294.6 303.2,295.2 304.0,295.8 304.8,296.3 305.6,296.5 306.4,296.6 307.2,296.7 308.0,296.7 308.8,296.8 309.6,296.8 310.4,296.9 311.2,297.1 312.0,297.2 312.8,297.3 313.6,297.3 314.4,297.3 315.2,297.2" fill="none" stroke="#fff" stroke-width="2.4" stroke-linejoin="round" stroke-linecap="round"/>
<polyline points="268.0,228.6 268.8,233.1 269.6,237.4 270.4,239.2 271.2,240.5 272.0,241.8 272.8,243.1 273.6,244.6 274.4,246.1 275.2,247.7 276.0,249.2 276.8,250.7 277.6,252.2 278.4,253.5 279.2,254.8 280.0,256.2 280.8,257.6 281.6,259.1 282.4,260.6 283.2,262.4 284.0,264.9 284.8,267.3 285.6,269.6 286.4,271.8 287.2,274.1 288.0,276.1 288.8,277.7 289.6,279.4 290.4,281.1 291.2,282.8 292.0,284.4 292.8,285.6 293.6,286.4 294.4,287.2 295.2,288.1 296.0,289.0 296.8,290.1 297.6,291.2 298.4,292.2 299.2,292.9 300.0,293.4 300.8,293.8 301.6,294.1 302.4,294.6 303.2,295.1 304.0,295.7 304.8,296.4 305.6,296.7 306.4,296.9 307.2,297.1 308.0,297.1 308.8,297.1 309.6,297.0 310.4,297.1 311.2,297.2 312.0,297.3 312.8,297.5 313.6,297.6 314.4,297.6 315.2,297.5" fill="none" stroke="#fff" stroke-width="2.4" stroke-linejoin="round" stroke-linecap="round"/>
<polyline points="268.0,229.4 268.8,233.5 269.6,237.7 270.4,239.6 271.2,241.1 272.0,242.5 272.8,243.9 273.6,245.2 274.4,246.5 275.2,247.9 276.0,249.4 276.8,251.0 277.6,252.5 278.4,254.1 279.2,255.5 280.0,256.9 280.8,258.2 281.6,259.5 282.4,260.9 283.2,262.6 284.0,265.1 284.8,267.6 285.6,270.1 286.4,272.5 287.2,274.8 288.0,276.7 288.8,278.2 289.6,279.7 290.4,281.4 291.2,283.1 292.0,284.8 292.8,286.1 293.6,287.1 294.4,287.9 295.2,288.7 296.0,289.5 296.8,290.4 297.6,291.4 298.4,292.4 299.2,293.2 300.0,293.8 300.8,294.3 301.6,294.7 302.4,295.1 303.2,295.5 304.0,296.0 304.8,296.5 305.6,296.8 306.4,297.1 307.2,297.4 308.0,297.5 308.8,297.6 309.6,297.5 310.4,297.4 311.2,297.3 312.0,297.4 312.8,297.5 313.6,297.7 314.4,297.8 315.2,297.8" fill="none" stroke="#fff" stroke-width="2.4" stroke-linejoin="round" stroke-linecap="round"/>
<polyline points="268.0,231.1 268.8,234.7 269.6,238.3 270.4,240.0 271.2,241.4 272.0,242.9 272.8,244.4 273.6,245.9 274.4,247.4 275.2,248.7 276.0,250.0 276.8,251.3 277.6,252.6 278.4,253.9 279.2,255.4 280.0,256.9 280.8,258.4 281.6,259.9 282.4,261.4 283.2,263.0 284.0,265.3 284.8,267.6 285.6,269.9 286.4,272.3 287.2,274.8 288.0,277.0 288.8,278.8 289.6,280.5 290.4,282.1 291.2,283.6 292.0,285.1 292.8,286.3 293.6,287.2 294.4,288.1 295.2,289.2 296.0,290.3 296.8,291.3 297.6,292.3 298.4,293.2 299.2,293.8 300.0,294.1 300.8,294.5 301.6,295.0 302.4,295.5 303.2,296.1 304.0,296.7 304.8,297.2 305.6,297.4 306.4,297.4 307.2,297.4 308.0,297.4 308.8,297.4 309.6,297.4 310.4,297.5 311.2,297.6 312.0,297.8 312.8,297.8 313.6,297.8 314.4,297.7 315.2,297.6" fill="none" stroke="#fff" stroke-width="2.4" stroke-linejoin="round" stroke-linecap="round"/>
<polyline points="284.6,262 285.3,239 286.1,266" fill="none" stroke="#fff" stroke-width="1.8"/>
<polyline points="308,297 308.7,290.5 309.4,297" fill="none" stroke="#fff" stroke-width="1.6"/>
<polyline points="338.8,291.3 339.6,291.3 340.4,291.5 341.1,291.8 341.9,292.2 342.8,292.8 343.6,293.2 344.4,293.5 345.1,293.6 345.9,293.7 346.8,293.9 347.6,294.2 348.4,294.7 349.1,295.3 349.9,295.8 350.8,296.2 351.6,296.4 352.4,296.4 353.1,294.9 353.9,293.1 354.8,291.5 355.6,290.0 356.4,288.6 357.1,287.2 357.9,286.0 358.8,284.7 359.6,283.4 360.4,282.5 361.1,282.3 361.9,282.3 362.8,282.5 363.6,280.8 364.4,278.2 365.1,275.5 365.9,272.6 366.8,270.0 367.6,267.3 368.4,264.8 369.1,262.2 369.9,258.8 370.8,255.5 371.6,252.3 372.4,250.1 373.1,247.7 373.9,245.3 374.8,242.8 375.6,240.3 376.4,238.2 377.1,236.0 377.9,233.9 378.8,231.8 379.6,229.0 380.4,225.8 381.1,222.5 381.9,219.1 382.8,215.8 383.6,212.8 384.4,209.9 385.1,207.0 385.9,204.0 386.8,202.5 387.6,201.0 388.4,199.4 389.1,197.8 389.9,196.4 390.8,195.1 391.6,194.6 392.4,194.2 393.1,193.8 393.9,193.3 394.8,192.6 395.6,192.0 396.4,191.6 397.1,191.2 397.9,191.0 398.8,190.9 399.6,190.9 400.4,191.0 401.1,191.2 401.9,191.3 402.8,191.3 403.6,191.2 404.4,191.2 405.1,191.4 405.9,191.8 406.8,192.5 407.6,193.0 408.4,193.0 409.1,192.9 409.9,192.6 410.8,192.2 411.6,191.9 412.4,191.8 413.1,191.7 413.9,191.7 414.8,191.5 415.6,191.3 416.4,190.8 417.1,190.1 417.9,189.4 418.8,188.8 419.6,188.3 420.4,187.9 421.1,187.6 421.9,187.3 422.8,186.9 423.6,186.3 424.4,185.6 425.1,184.9 425.9,184.3 426.8,183.8 427.6,183.5 428.4,183.3 429.1,183.0 429.9,182.5 430.8,181.9 431.6,181.2 432.4,180.4 433.1,179.8 433.9,179.3 434.8,178.9 435.6,178.7 436.4,178.6 437.1,178.3 437.9,177.8 438.8,177.3 439.6,176.6 440.4,176.0 441.1,175.5 441.9,175.0 442.8,174.6 443.6,174.1 444.4,173.5 445.1,172.6 445.9,171.6 446.8,170.6 447.6,169.6 448.4,168.8 449.1,168.1 449.9,167.5 450.8,166.8 451.6,166.2 452.4,165.4 453.1,164.6 453.9,163.7 454.8,162.9 455.6,162.2 456.4,161.8 457.1,161.4 457.9,161.0 458.8,160.5 459.6,159.7 460.4,158.9 461.1,158.1 461.9,157.4 462.8,157.0 463.6,156.8 464.4,156.7 465.1,156.5 465.9,156.3 466.8,156.0 467.6,155.6 468.4,155.2 469.1,155.0 470.0,154.9 470.8,155.0 471.6,155.1 472.4,155.2 473.1,155.5 474.0,155.6 474.8,155.6 475.6,155.6 476.4,155.8 477.1,156.3 478.0,157.0 478.8,157.8 479.6,158.4 480.4,158.9 481.1,159.5 482.0,160.2 482.8,160.9 483.6,161.8 484.4,162.8 485.1,163.9 486.0,165.1 486.8,166.3 487.6,167.3 488.4,168.1 489.1,168.8 490.0,169.6 490.8,170.4 491.6,171.4 492.4,172.6 493.1,173.8 494.0,174.9 494.8,175.8 495.6,176.7 496.4,177.6 497.1,178.6 498.0,179.6 498.8,180.7 499.6,182.0 500.4,183.3 501.1,184.5 502.0,185.5 502.8,186.3 503.6,187.0 504.4,187.6 505.1,188.3 506.0,189.2 506.8,189.8 507.6,190.5 508.4,191.1 509.1,191.6 510.0,191.9 510.8,192.2 511.6,192.6 512.4,193.2 513.1,193.8 514.0,194.7 514.8,195.6 515.5,196.4 516.4,197.0 517.1,197.5 518.0,198.0 518.8,198.4 519.5,199.0 520.4,199.8 521.1,200.7 522.0,201.6 522.8,202.5 523.5,203.2 524.4,203.8 525.1,204.4 526.0,205.5 526.8,206.8" fill="none" stroke="#fff" stroke-width="2.6" stroke-linejoin="round" stroke-linecap="round"/>
<polyline points="338.8,291.4 339.6,291.7 340.4,292.0 341.1,292.3 341.9,292.6 342.8,292.9 343.6,293.2 344.4,293.4 345.1,293.6 345.9,293.8 346.8,294.0 347.6,294.3 348.4,294.6 349.1,294.9 349.9,295.3 350.8,295.7 351.6,296.1 352.4,296.5 353.1,295.3 353.9,293.7 354.8,292.0 355.6,290.3 356.4,288.6 357.1,286.8 357.9,285.4 358.8,284.1 359.6,283.0 360.4,282.4 361.1,282.5 361.9,282.6 362.8,282.8 363.6,281.1 364.4,278.5 365.1,275.9 365.9,273.3 366.8,271.1 367.6,268.9 368.4,266.7 369.1,264.4 369.9,261.3 370.8,258.1 371.6,255.1 372.4,252.9 373.1,250.8 373.9,248.6 374.8,246.1 375.6,243.6 376.4,240.9 377.1,237.8 377.9,234.7 378.8,231.6 379.6,227.9 380.4,223.9 381.1,220.0 381.9,216.3 382.8,212.9 383.6,209.9 384.4,207.0 385.1,204.2 385.9,201.3 386.8,200.4 387.6,199.6 388.4,198.7 389.1,197.9 389.9,197.2 390.8,196.4 391.6,195.9 392.4,195.4 393.1,195.0 393.9,194.7 394.8,194.4 395.6,194.3 396.4,194.4 397.1,194.4 397.9,194.5 398.8,194.4 399.6,194.3 400.4,194.2 401.1,194.3 401.9,194.2 402.8,194.0 403.6,193.8 404.4,193.6 405.1,193.3 405.9,193.1 406.8,193.0 407.6,192.9 408.4,192.5 409.1,192.2 409.9,191.9 410.8,191.6 411.6,191.2 412.4,191.0 413.1,190.7 413.9,190.3 414.8,189.9 415.6,189.5 416.4,189.1 417.1,188.8 417.9,188.5 418.8,188.3 419.6,188.3 420.4,188.3 421.1,188.2 421.9,188.1 422.8,188.0 423.6,187.9 424.4,187.6 425.1,187.3 425.9,186.9 426.8,186.4 427.6,185.9 428.4,185.3 429.1,184.8 429.9,184.3 430.8,183.8 431.6,183.3 432.4,182.8 433.1,182.2 433.9,181.7 434.8,181.1 435.6,180.4 436.4,179.6 437.1,178.8 437.9,177.9 438.8,177.0 439.6,176.2 440.4,175.3 441.1,174.4 441.9,173.7 442.8,173.1 443.6,172.5 444.4,172.0 445.1,171.4 445.9,170.9 446.8,170.3 447.6,169.6 448.4,168.9 449.1,168.2 449.9,167.6 450.8,167.0 451.6,166.4 452.4,165.8 453.1,165.3 453.9,164.8 454.8,164.4 455.6,164.0 456.4,163.7 457.1,163.3 457.9,162.9 458.8,162.5 459.6,161.9 460.4,161.2 461.1,160.4 461.9,159.6 462.8,159.0 463.6,158.4 464.4,157.8 465.1,157.3 465.9,156.8 466.8,156.3 467.6,155.9 468.4,155.5 469.1,155.2 470.0,154.9 470.8,154.5 471.6,154.2 472.4,153.9 473.1,154.0 474.0,154.1 474.8,154.3 475.6,154.4 476.4,154.8 477.1,155.5 478.0,156.3 478.8,157.2 479.6,158.2 480.4,159.2 481.1,160.3 482.0,161.5 482.8,162.7 483.6,163.9 484.4,164.9 485.1,165.9 486.0,167.0 486.8,168.0 487.6,169.0 488.4,170.0 489.1,171.1 490.0,172.1 490.8,173.2 491.6,174.3 492.4,175.3 493.1,176.2 494.0,177.0 494.8,177.6 495.6,178.3 496.4,178.8 497.1,179.3 498.0,179.9 498.8,180.4 499.6,181.1 500.4,181.8 501.1,182.6 502.0,183.6 502.8,184.7 503.6,185.8 504.4,186.8 505.1,187.8 506.0,188.7 506.8,189.3 507.6,189.8 508.4,190.4 509.1,191.0 510.0,191.7 510.8,192.5 511.6,193.3 512.4,194.2 513.1,195.2 514.0,196.1 514.8,197.1 515.5,198.0 516.4,198.9 517.1,199.7 518.0,200.4 518.8,201.1 519.5,201.7 520.4,202.2 521.1,202.8 522.0,203.3 522.8,203.8 523.5,204.4 524.4,205.0 525.1,205.8 526.0,206.9 526.8,208.0" fill="none" stroke="#fff" stroke-width="2.6" stroke-linejoin="round" stroke-linecap="round"/>
<polyline points="338.8,291.2 339.6,291.4 340.4,291.7 341.1,292.0 341.9,292.3 342.8,292.8 343.6,293.2 344.4,293.6 345.1,293.8 345.9,294.0 346.8,294.2 347.6,294.4 348.4,294.6 349.1,294.9 349.9,295.2 350.8,295.6 351.6,296.0 352.4,296.5 353.1,295.3 353.9,293.8 354.8,292.2 355.6,290.6 356.4,288.9 357.1,287.2 357.9,285.7 358.8,284.5 359.6,283.3 360.4,282.7 361.1,282.8 361.9,283.0 362.8,283.2 363.6,281.5 364.4,279.0 365.1,276.4 365.9,273.7 366.8,271.4 367.6,269.1 368.4,266.8 369.1,264.2 369.9,260.8 370.8,257.4 371.6,254.1 372.4,251.7 373.1,249.4 373.9,247.2 374.8,244.8 375.6,242.4 376.4,239.8 377.1,236.9 377.9,234.1 378.8,231.4 379.6,228.2 380.4,224.9 381.1,221.8 381.9,218.8 382.8,216.1 383.6,213.7 384.4,211.4 385.1,209.0 385.9,206.6 386.8,205.6 387.6,204.6 388.4,203.4 389.1,202.2 389.9,201.0 390.8,199.9 391.6,199.2 392.4,198.6 393.1,198.1 393.9,197.6 394.8,197.1 395.6,196.7 396.4,196.3 397.1,195.8 397.9,195.2 398.8,194.5 399.6,193.8 400.4,193.2 401.1,192.9 401.9,192.6 402.8,192.4 403.6,192.4 404.4,192.4 405.1,192.6 405.9,192.8 406.8,193.0 407.6,193.2 408.4,193.0 409.1,192.8 409.9,192.5 410.8,192.2 411.6,192.0 412.4,191.8 413.1,191.8 413.9,191.8 414.8,191.9 415.6,192.0 416.4,192.2 417.1,192.3 417.9,192.4 418.8,192.4 419.6,192.3 420.4,192.0 421.1,191.4 421.9,190.8 422.8,190.1 423.6,189.5 424.4,188.8 425.1,188.3 425.9,187.7 426.8,187.2 427.6,186.6 428.4,186.0 429.1,185.3 429.9,184.6 430.8,183.8 431.6,182.9 432.4,182.0 433.1,181.1 433.9,180.3 434.8,179.6 435.6,179.0 436.4,178.5 437.1,178.1 437.9,177.7 438.8,177.4 439.6,177.0 440.4,176.6 441.1,176.0 441.9,175.3 442.8,174.7 443.6,174.0 444.4,173.4 445.1,172.9 445.9,172.4 446.8,172.0 447.6,171.7 448.4,171.4 449.1,171.0 449.9,170.6 450.8,170.0 451.6,169.3 452.4,168.5 453.1,167.7 453.9,166.8 454.8,165.8 455.6,164.9 456.4,164.1 457.1,163.3 457.9,162.7 458.8,162.0 459.6,161.4 460.4,160.8 461.1,160.0 461.9,159.3 462.8,158.7 463.6,158.0 464.4,157.4 465.1,156.8 465.9,156.2 466.8,155.7 467.6,155.4 468.4,155.1 469.1,155.1 470.0,155.1 470.8,155.2 471.6,155.2 472.4,155.3 473.1,155.7 474.0,156.1 474.8,156.4 475.6,156.7 476.4,157.3 477.1,158.1 478.0,159.0 478.8,160.0 479.6,161.0 480.4,162.0 481.1,163.0 482.0,164.1 482.8,165.1 483.6,166.0 484.4,166.8 485.1,167.5 486.0,168.2 486.8,168.8 487.6,169.4 488.4,170.1 489.1,170.9 490.0,171.7 490.8,172.5 491.6,173.4 492.4,174.3 493.1,175.2 494.0,176.0 494.8,176.7 495.6,177.4 496.4,178.1 497.1,178.9 498.0,179.7 498.8,180.6 499.6,181.6 500.4,182.7 501.1,183.9 502.0,185.2 502.8,186.5 503.6,187.7 504.4,188.9 505.1,190.0 506.0,191.1 506.8,191.8 507.6,192.4 508.4,193.1 509.1,193.7 510.0,194.5 510.8,195.2 511.6,196.0 512.4,196.8 513.1,197.5 514.0,198.2 514.8,198.8 515.5,199.3 516.4,199.7 517.1,200.0 518.0,200.3 518.8,200.6 519.5,201.0 520.4,201.4 521.1,201.9 522.0,202.5 522.8,203.2 523.5,203.9 524.4,204.7 525.1,205.5 526.0,206.6 526.8,207.8" fill="none" stroke="#fff" stroke-width="2.6" stroke-linejoin="round" stroke-linecap="round"/>
<polyline points="338.8,291.8 339.6,291.9 340.4,291.9 341.1,291.9 341.9,291.9 342.8,292.2 343.6,292.6 344.4,293.1 345.1,293.7 345.9,294.2 346.8,294.6 347.6,295.0 348.4,295.3 349.1,295.4 349.9,295.5 350.8,295.6 351.6,295.8 352.4,296.0 353.1,294.9 353.9,293.4 354.8,292.0 355.6,290.5 356.4,289.0 357.1,287.4 357.9,286.0 358.8,284.8 359.6,283.5 360.4,282.7 361.1,282.7 361.9,282.8 362.8,283.0 363.6,281.4 364.4,279.0 365.1,276.6 365.9,274.1 366.8,272.2 367.6,270.2 368.4,268.1 369.1,265.9 369.9,263.2 370.8,260.3 371.6,257.6 372.4,255.5 373.1,253.5 373.9,251.3 374.8,248.8 375.6,246.1 376.4,243.1 377.1,240.0 377.9,236.8 378.8,233.7 379.6,230.2 380.4,226.7 381.1,223.3 381.9,220.1 382.8,217.0 383.6,214.3 384.4,211.5 385.1,208.7 385.9,205.9 386.8,204.7 387.6,203.5 388.4,202.4 389.1,201.3 389.9,200.6 390.8,199.9 391.6,199.7 392.4,199.6 393.1,199.5 393.9,199.2 394.8,198.9 395.6,198.5 396.4,198.1 397.1,197.6 397.9,197.2 398.8,196.7 399.6,196.4 400.4,196.2 401.1,196.2 401.9,196.2 402.8,196.1 403.6,195.9 404.4,195.6 405.1,195.2 405.9,194.8 406.8,194.5 407.6,194.3 408.4,193.9 409.1,193.5 409.9,193.3 410.8,193.2 411.6,193.0 412.4,192.8 413.1,192.6 413.9,192.3 414.8,192.0 415.6,191.7 416.4,191.5 417.1,191.4 417.9,191.4 418.8,191.6 419.6,191.8 420.4,191.9 421.1,191.7 421.9,191.5 422.8,191.1 423.6,190.7 424.4,190.1 425.1,189.6 425.9,189.0 426.8,188.5 427.6,188.1 428.4,187.7 429.1,187.3 429.9,186.8 430.8,186.2 431.6,185.5 432.4,184.6 433.1,183.7 433.9,182.7 434.8,181.8 435.6,180.9 436.4,180.2 437.1,179.5 437.9,179.0 438.8,178.5 439.6,177.9 440.4,177.3 441.1,176.5 441.9,175.7 442.8,174.9 443.6,174.1 444.4,173.3 445.1,172.7 445.9,172.2 446.8,171.8 447.6,171.5 448.4,171.2 449.1,170.9 449.9,170.5 450.8,169.9 451.6,169.3 452.4,168.6 453.1,167.9 453.9,167.2 454.8,166.6 455.6,166.0 456.4,165.6 457.1,165.2 457.9,164.7 458.8,164.2 459.6,163.5 460.4,162.7 461.1,161.8 461.9,160.9 462.8,160.2 463.6,159.5 464.4,159.0 465.1,158.5 465.9,158.2 466.8,157.8 467.6,157.4 468.4,156.9 469.1,156.5 470.0,156.1 470.8,155.6 471.6,155.2 472.4,154.9 473.1,155.2 474.0,155.5 474.8,156.0 475.6,156.6 476.4,157.4 477.1,158.4 478.0,159.4 478.8,160.3 479.6,161.1 480.4,161.9 481.1,162.7 482.0,163.8 482.8,164.9 483.6,166.2 484.4,167.5 485.1,168.7 486.0,169.9 486.8,171.0 487.6,172.0 488.4,172.8 489.1,173.5 490.0,174.2 490.8,174.8 491.6,175.5 492.4,176.3 493.1,177.2 494.0,178.1 494.8,178.9 495.6,179.7 496.4,180.5 497.1,181.1 498.0,181.7 498.8,182.2 499.6,182.8 500.4,183.5 501.1,184.3 502.0,185.3 502.8,186.3 503.6,187.5 504.4,188.6 505.1,189.8 506.0,190.9 506.8,191.6 507.6,192.3 508.4,192.9 509.1,193.6 510.0,194.3 510.8,195.2 511.6,196.1 512.4,197.1 513.1,198.1 514.0,199.0 514.8,199.8 515.5,200.5 516.4,201.1 517.1,201.5 518.0,201.9 518.8,202.4 519.5,203.0 520.4,203.6 521.1,204.3 522.0,205.0 522.8,205.7 523.5,206.4 524.4,206.9 525.1,207.5 526.0,208.3 526.8,209.1" fill="none" stroke="#fff" stroke-width="2.6" stroke-linejoin="round" stroke-linecap="round"/>
<polyline points="338.8,291.7 339.6,292.0 340.4,292.2 341.1,292.4 341.9,292.5 342.8,292.7 343.6,292.9 344.4,293.1 345.1,293.4 345.9,293.7 346.8,294.1 347.6,294.6 348.4,295.2 349.1,295.7 349.9,296.0 350.8,296.3 351.6,296.5 352.4,296.7 353.1,295.3 353.9,293.5 354.8,291.8 355.6,290.1 356.4,288.5 357.1,287.0 357.9,285.8 358.8,284.9 359.6,283.9 360.4,283.3 361.1,283.3 361.9,283.3 362.8,283.2 363.6,281.2 364.4,278.4 365.1,275.6 365.9,273.0 366.8,271.0 367.6,269.3 368.4,267.6 369.1,265.8 369.9,263.5 370.8,261.2 371.6,258.9 372.4,257.3 373.1,255.6 373.9,253.9 374.8,251.7 375.6,249.5 376.4,247.2 377.1,244.8 377.9,242.4 378.8,240.0 379.6,237.1 380.4,233.9 381.1,230.6 381.9,227.1 382.8,223.6 383.6,220.0 384.4,216.3 385.1,212.7 385.9,209.2 386.8,207.1 387.6,205.3 388.4,203.7 389.1,202.2 389.9,201.0 390.8,199.8 391.6,199.0 392.4,198.3 393.1,197.6 393.9,197.0 394.8,196.4 395.6,196.1 396.4,195.9 397.1,195.9 397.9,196.0 398.8,196.2 399.6,196.3 400.4,196.6 401.1,196.9 401.9,197.2 402.8,197.3 403.6,197.4 404.4,197.4 405.1,197.4 405.9,197.4 406.8,197.5 407.6,197.5 408.4,197.5 409.1,197.4 409.9,197.2 410.8,197.0 411.6,196.6 412.4,196.2 413.1,195.6 413.9,195.0 414.8,194.3 415.6,193.7 416.4,193.2 417.1,192.8 417.9,192.4 418.8,192.2 419.6,191.9 420.4,191.6 421.1,191.1 421.9,190.5 422.8,189.9 423.6,189.3 424.4,188.7 425.1,188.1 425.9,187.6 426.8,187.3 427.6,187.0 428.4,186.8 429.1,186.7 429.9,186.6 430.8,186.4 431.6,186.1 432.4,185.7 433.1,185.1 433.9,184.6 434.8,183.9 435.6,183.3 436.4,182.7 437.1,182.1 437.9,181.6 438.8,181.1 439.6,180.6 440.4,180.1 441.1,179.4 441.9,178.7 442.8,177.8 443.6,176.8 444.4,175.8 445.1,174.8 445.9,173.8 446.8,172.9 447.6,172.1 448.4,171.4 449.1,170.7 449.9,170.1 450.8,169.5 451.6,168.8 452.4,168.1 453.1,167.3 453.9,166.5 454.8,165.7 455.6,164.9 456.4,164.3 457.1,163.8 457.9,163.5 458.8,163.2 459.6,162.9 460.4,162.7 461.1,162.4 461.9,162.0 462.8,161.8 463.6,161.5 464.4,161.1 465.1,160.6 465.9,160.2 466.8,159.8 467.6,159.4 468.4,159.1 469.1,159.0 470.0,158.9 470.8,158.7 471.6,158.5 472.4,158.3 473.1,158.3 474.0,158.3 474.8,158.2 475.6,158.2 476.4,158.3 477.1,158.8 478.0,159.4 478.8,160.1 479.6,160.9 480.4,161.7 481.1,162.5 482.0,163.5 482.8,164.4 483.6,165.3 484.4,166.2 485.1,167.1 486.0,168.1 486.8,169.1 487.6,170.3 488.4,171.5 489.1,172.8 490.0,174.2 490.8,175.6 491.6,176.9 492.4,178.1 493.1,179.2 494.0,180.2 494.8,181.1 495.6,182.0 496.4,182.8 497.1,183.6 498.0,184.5 498.8,185.5 499.6,186.4 500.4,187.4 501.1,188.3 502.0,189.1 502.8,189.8 503.6,190.5 504.4,191.0 505.1,191.5 506.0,192.0 506.8,192.3 507.6,192.7 508.4,193.2 509.1,193.7 510.0,194.4 510.8,195.1 511.6,195.8 512.4,196.5 513.1,197.1 514.0,197.7 514.8,198.3 515.5,198.9 516.4,199.5 517.1,200.2 518.0,201.0 518.8,201.9 519.5,202.9 520.4,204.0 521.1,205.1 522.0,206.2 522.8,207.1 523.5,208.0 524.4,208.7 525.1,209.5 526.0,210.6 526.8,211.7" fill="none" stroke="#fff" stroke-width="2.6" stroke-linejoin="round" stroke-linecap="round"/>
<polyline points="338.8,291.2 339.6,291.5 340.4,291.8 341.1,292.2 341.9,292.5 342.8,293.0 343.6,293.3 344.4,293.6 345.1,293.8 345.9,294.0 346.8,294.2 347.6,294.4 348.4,294.8 349.1,295.2 349.9,295.7 350.8,296.1 351.6,296.5 352.4,296.9 353.1,295.7 353.9,294.1 354.8,292.4 355.6,290.6 356.4,288.8 357.1,287.1 357.9,285.8 358.8,284.7 359.6,283.7 360.4,283.3 361.1,283.4 361.9,283.6 362.8,283.6 363.6,281.7 364.4,278.9 365.1,276.1 365.9,273.3 366.8,271.3 367.6,269.3 368.4,267.5 369.1,265.7 369.9,263.4 370.8,261.2 371.6,259.0 372.4,257.4 373.1,255.9 373.9,254.3 374.8,252.3 375.6,250.1 376.4,247.9 377.1,245.7 377.9,243.5 378.8,241.4 379.6,238.9 380.4,236.2 381.1,233.3 381.9,230.3 382.8,227.2 383.6,223.8 384.4,220.4 385.1,216.9 385.9,213.4 386.8,211.0 387.6,208.9 388.4,206.9 389.1,205.1 389.9,203.7 390.8,202.2 391.6,201.2 392.4,200.4 393.1,199.5 393.9,198.6 394.8,197.8 395.6,197.2 396.4,196.9 397.1,196.7 397.9,196.6 398.8,196.6 399.6,196.6 400.4,196.7 401.1,197.0 401.9,197.2 402.8,197.3 403.6,197.4 404.4,197.5 405.1,197.6 405.9,197.8 406.8,198.1 407.6,198.4 408.4,198.5 409.1,198.6 409.9,198.5 410.8,198.4 411.6,198.1 412.4,197.7 413.1,197.3 413.9,196.8 414.8,196.3 415.6,195.9 416.4,195.6 417.1,195.3 417.9,195.0 418.8,194.7 419.6,194.3 420.4,193.7 421.1,192.9 421.9,192.0 422.8,191.1 423.6,190.3 424.4,189.5 425.1,188.9 425.9,188.4 426.8,188.1 427.6,187.8 428.4,187.5 429.1,187.2 429.9,186.9 430.8,186.4 431.6,185.9 432.4,185.3 433.1,184.8 433.9,184.3 434.8,183.9 435.6,183.6 436.4,183.3 437.1,183.1 437.9,182.8 438.8,182.4 439.6,181.8 440.4,181.2 441.1,180.4 441.9,179.6 442.8,178.7 443.6,177.9 444.4,177.2 445.1,176.5 445.9,175.8 446.8,175.2 447.6,174.5 448.4,173.7 449.1,172.9 449.9,172.0 450.8,170.9 451.6,169.8 452.4,168.8 453.1,167.8 453.9,167.0 454.8,166.3 455.6,165.7 456.4,165.2 457.1,164.8 457.9,164.4 458.8,163.9 459.6,163.3 460.4,162.7 461.1,162.1 461.9,161.5 462.8,161.2 463.6,161.0 464.4,160.9 465.1,160.9 465.9,160.8 466.8,160.8 467.6,160.6 468.4,160.4 469.1,160.2 470.0,159.9 470.8,159.6 471.6,159.3 472.4,159.0 473.1,159.3 474.0,159.6 474.8,159.9 475.6,160.2 476.4,160.8 477.1,161.5 478.0,162.0 478.8,162.5 479.6,162.9 480.4,163.3 481.1,163.7 482.0,164.4 482.8,165.2 483.6,166.1 484.4,167.1 485.1,168.2 486.0,169.3 486.8,170.3 487.6,171.4 488.4,172.3 489.1,173.3 490.0,174.2 490.8,175.2 491.6,176.3 492.4,177.5 493.1,178.7 494.0,180.1 494.8,181.4 495.6,182.7 496.4,183.9 497.1,185.0 498.0,185.9 498.8,186.8 499.6,187.6 500.4,188.4 501.1,189.2 502.0,190.1 502.8,191.0 503.6,191.9 504.4,192.9 505.1,193.8 506.0,194.6 506.8,195.0 507.6,195.3 508.4,195.5 509.1,195.7 510.0,196.0 510.8,196.3 511.6,196.7 512.4,197.2 513.1,197.9 514.0,198.6 514.8,199.3 515.5,200.0 516.4,200.6 517.1,201.2 518.0,201.7 518.8,202.3 519.5,203.0 520.4,203.7 521.1,204.6 522.0,205.6 522.8,206.7 523.5,207.8 524.4,208.9 525.1,210.0 526.0,211.4 526.8,212.7" fill="none" stroke="#fff" stroke-width="2.6" stroke-linejoin="round" stroke-linecap="round"/>
<polyline points="338.8,291.4 339.6,291.8 340.4,292.1 341.1,292.4 341.9,292.6 342.8,292.8 343.6,293.0 344.4,293.2 345.1,293.4 345.9,293.7 346.8,294.1 347.6,294.7 348.4,295.2 349.1,295.7 349.9,296.1 350.8,296.4 351.6,296.5 352.4,296.6 353.1,295.2 353.9,293.6 354.8,292.1 355.6,290.6 356.4,289.2 357.1,287.8 357.9,286.6 358.8,285.5 359.6,284.3 360.4,283.5 361.1,283.4 361.9,283.3 362.8,283.2 363.6,281.5 364.4,279.1 365.1,276.7 365.9,274.3 366.8,272.6 367.6,270.8 368.4,268.8 369.1,266.6 369.9,263.9 370.8,261.2 371.6,258.7 372.4,257.0 373.1,255.5 373.9,254.1 374.8,252.2 375.6,250.3 376.4,248.2 377.1,245.8 377.9,243.5 378.8,241.2 379.6,238.6 380.4,236.0 381.1,233.6 381.9,231.1 382.8,228.8 383.6,226.2 384.4,223.4 385.1,220.4 385.9,217.2 386.8,214.8 387.6,212.5 388.4,210.1 389.1,208.0 389.9,206.6 390.8,205.1 391.6,204.3 392.4,203.6 393.1,202.8 393.9,201.9 394.8,200.9 395.6,200.0 396.4,199.2 397.1,198.6 397.9,198.1 398.8,197.7 399.6,197.4 400.4,197.4 401.1,197.5 401.9,197.5 402.8,197.4 403.6,197.4 404.4,197.3 405.1,197.4 405.9,197.5 406.8,197.8 407.6,198.2 408.4,198.4 409.1,198.6 409.9,198.7 410.8,198.7 411.6,198.5 412.4,198.3 413.1,198.1 413.9,197.9 414.8,197.8 415.6,197.8 416.4,197.8 417.1,197.7 417.9,197.6 418.8,197.3 419.6,196.9 420.4,196.1 421.1,195.1 421.9,194.2 422.8,193.3 423.6,192.6 424.4,191.9 425.1,191.3 425.9,190.8 426.8,190.1 427.6,189.4 428.4,188.6 429.1,187.8 429.9,187.0 430.8,186.3 431.6,185.7 432.4,185.2 433.1,184.9 433.9,184.6 434.8,184.3 435.6,184.0 436.4,183.5 437.1,183.0 437.9,182.4 438.8,181.8 439.6,181.2 440.4,180.8 441.1,180.5 441.9,180.2 442.8,179.9 443.6,179.5 444.4,179.0 445.1,178.3 445.9,177.5 446.8,176.7 447.6,175.8 448.4,175.0 449.1,174.3 449.9,173.7 450.8,172.9 451.6,172.2 452.4,171.4 453.1,170.4 453.9,169.4 454.8,168.3 455.6,167.2 456.4,166.2 457.1,165.4 457.9,164.7 458.8,164.2 459.6,163.7 460.4,163.3 461.1,162.8 461.9,162.2 462.8,161.7 463.6,161.2 464.4,160.8 465.1,160.4 465.9,160.2 466.8,160.1 467.6,160.1 468.4,160.1 469.1,160.3 470.0,160.3 470.8,160.3 471.6,160.1 472.4,160.0 473.1,160.2 474.0,160.5 474.8,161.0 475.6,161.4 476.4,162.2 477.1,163.2 478.0,164.0 478.8,164.8 479.6,165.4 480.4,165.8 481.1,166.3 482.0,166.8 482.8,167.5 483.6,168.3 484.4,169.2 485.1,170.1 486.0,171.0 486.8,171.9 487.6,172.7 488.4,173.4 489.1,174.0 490.0,174.8 490.8,175.6 491.6,176.5 492.4,177.6 493.1,178.9 494.0,180.1 494.8,181.4 495.6,182.5 496.4,183.6 497.1,184.6 498.0,185.5 498.8,186.5 499.6,187.5 500.4,188.6 501.1,189.8 502.0,191.1 502.8,192.3 503.6,193.5 504.4,194.5 505.1,195.3 506.0,196.0 506.8,196.4 507.6,196.8 508.4,197.2 509.1,197.7 510.0,198.3 510.8,198.9 511.6,199.5 512.4,200.0 513.1,200.4 514.0,200.6 514.8,200.9 515.5,201.1 516.4,201.4 517.1,201.8 518.0,202.3 518.8,203.1 519.5,203.9 520.4,204.8 521.1,205.6 522.0,206.3 522.8,207.0 523.5,207.6 524.4,208.3 525.1,209.1 526.0,210.5 526.8,212.0" fill="none" stroke="#fff" stroke-width="2.6" stroke-linejoin="round" stroke-linecap="round"/>
<polyline points="338.8,291.6 339.6,292.0 340.4,292.3 341.1,292.4 341.9,292.4 342.8,292.5 343.6,292.7 344.4,293.1 345.1,293.6 345.9,294.2 346.8,294.8 347.6,295.2 348.4,295.5 349.1,295.6 349.9,295.7 350.8,295.8 351.6,296.0 352.4,296.5 353.1,295.5 353.9,294.2 354.8,292.8 355.6,291.1 356.4,289.3 357.1,287.5 357.9,285.9 358.8,284.8 359.6,283.7 360.4,283.3 361.1,283.6 361.9,283.8 362.8,283.8 363.6,281.9 364.4,279.2 365.1,276.5 365.9,273.9 366.8,272.3 367.6,271.0 368.4,269.7 369.1,268.3 369.9,266.4 370.8,264.4 371.6,262.5 372.4,261.0 373.1,259.7 373.9,258.7 374.8,256.9 375.6,255.0 376.4,253.0 377.1,250.7 377.9,248.2 378.8,245.5 379.6,242.6 380.4,239.5 381.1,236.6 381.9,233.7 382.8,230.8 383.6,227.5 384.4,224.1 385.1,220.4 385.9,216.7 386.8,213.9 387.6,211.4 388.4,209.1 389.1,207.1 389.9,205.7 390.8,204.4 391.6,203.5 392.4,202.7 393.1,201.9 393.9,201.2 394.8,200.6 395.6,200.3 396.4,200.3 397.1,200.3 397.9,200.4 398.8,200.3 399.6,200.1 400.4,199.9 401.1,199.9 401.9,200.0 402.8,200.2 403.6,200.5 404.4,200.9 405.1,201.2 405.9,201.3 406.8,201.2 407.6,201.0 408.4,200.6 409.1,200.3 409.9,200.1 410.8,200.0 411.6,199.9 412.4,199.8 413.1,199.5 413.9,199.0 414.8,198.4 415.6,197.7 416.4,197.1 417.1,196.6 417.9,196.3 418.8,196.1 419.6,195.9 420.4,195.5 421.1,194.7 421.9,193.9 422.8,193.0 423.6,192.3 424.4,191.7 425.1,191.3 425.9,191.1 426.8,190.9 427.6,190.6 428.4,190.2 429.1,189.7 429.9,189.1 430.8,188.5 431.6,188.1 432.4,187.8 433.1,187.6 433.9,187.4 434.8,187.1 435.6,186.6 436.4,185.9 437.1,185.1 437.9,184.3 438.8,183.6 439.6,183.1 440.4,182.6 441.1,182.1 441.9,181.5 442.8,180.8 443.6,179.9 444.4,178.8 445.1,177.8 445.9,176.9 446.8,176.1 447.6,175.5 448.4,174.9 449.1,174.2 449.9,173.4 450.8,172.4 451.6,171.4 452.4,170.3 453.1,169.4 453.9,168.7 454.8,168.2 455.6,167.8 456.4,167.4 457.1,166.9 457.9,166.3 458.8,165.7 459.6,165.0 460.4,164.5 461.1,164.1 461.9,163.9 462.8,163.9 463.6,163.9 464.4,163.8 465.1,163.4 465.9,163.0 466.8,162.4 467.6,162.0 468.4,161.6 469.1,161.6 470.0,161.7 470.8,161.6 471.6,161.5 472.4,161.1 473.1,161.1 474.0,161.1 474.8,161.1 475.6,161.2 476.4,161.7 477.1,162.5 478.0,163.3 478.8,164.0 479.6,164.6 480.4,165.0 481.1,165.5 482.0,166.2 482.8,167.1 483.6,168.1 484.4,169.3 485.1,170.6 486.0,171.7 486.8,172.8 487.6,173.7 488.4,174.6 489.1,175.6 490.0,176.7 490.8,178.1 491.6,179.5 492.4,180.9 493.1,182.2 494.0,183.3 494.8,184.2 495.6,185.0 496.4,185.9 497.1,186.8 498.0,187.8 498.8,189.0 499.6,190.0 500.4,191.0 501.1,191.8 502.0,192.4 502.8,192.9 503.6,193.4 504.4,194.0 505.1,194.7 506.0,195.6 506.8,196.2 507.6,196.8 508.4,197.2 509.1,197.4 510.0,197.6 510.8,197.9 511.6,198.3 512.4,198.9 513.1,199.7 514.0,200.5 514.8,201.3 515.5,202.0 516.4,202.6 517.1,203.1 518.0,203.6 518.8,204.3 519.5,205.3 520.4,206.4 521.1,207.6 522.0,208.7 522.8,209.7 523.5,210.5 524.4,211.2 525.1,211.9 526.0,213.1 526.8,214.5" fill="none" stroke="#fff" stroke-width="2.6" stroke-linejoin="round" stroke-linecap="round"/>
<polyline points="338.8,291.3 339.6,291.4 340.4,291.8 341.1,292.2 341.9,292.6 342.8,293.1 343.6,293.4 344.4,293.6 345.1,293.7 345.9,293.9 346.8,294.2 347.6,294.7 348.4,295.3 349.1,295.8 349.9,296.2 350.8,296.4 351.6,296.5 352.4,296.5 353.1,295.2 353.9,293.6 354.8,292.2 355.6,290.9 356.4,289.5 357.1,288.0 357.9,286.6 358.8,285.3 359.6,283.9 360.4,283.1 361.1,283.1 361.9,283.4 362.8,283.7 363.6,282.2 364.4,279.9 365.1,277.5 365.9,274.9 366.8,273.2 367.6,271.7 368.4,270.4 369.1,269.2 369.9,268.1 370.8,266.8 371.6,265.5 372.4,264.3 373.1,263.0 373.9,261.6 374.8,259.2 375.6,256.8 376.4,254.5 377.1,252.3 377.9,249.9 378.8,247.4 379.6,244.4 380.4,241.1 381.1,237.7 381.9,234.2 382.8,230.9 383.6,227.5 384.4,224.2 385.1,220.9 385.9,217.5 386.8,215.0 387.6,212.4 388.4,209.9 389.1,207.7 389.9,206.2 390.8,204.9 391.6,204.4 392.4,204.2 393.1,203.9 393.9,203.6 394.8,203.2 395.6,202.7 396.4,202.4 397.1,202.3 397.9,202.3 398.8,202.4 399.6,202.6 400.4,202.7 401.1,202.8 401.9,202.7 402.8,202.5 403.6,202.3 404.4,202.2 405.1,202.3 405.9,202.3 406.8,202.4 407.6,202.3 408.4,202.0 409.1,201.5 409.9,200.9 410.8,200.4 411.6,199.9 412.4,199.6 413.1,199.4 413.9,199.2 414.8,198.9 415.6,198.4 416.4,197.9 417.1,197.2 417.9,196.7 418.8,196.3 419.6,196.1 420.4,195.9 421.1,195.6 421.9,195.2 422.8,194.7 423.6,194.1 424.4,193.4 425.1,192.9 425.9,192.4 426.8,192.2 427.6,192.1 428.4,192.0 429.1,191.8 429.9,191.4 430.8,190.8 431.6,190.2 432.4,189.5 433.1,188.9 433.9,188.5 434.8,188.1 435.6,187.7 436.4,187.2 437.1,186.5 437.9,185.6 438.8,184.6 439.6,183.6 440.4,182.8 441.1,182.1 441.9,181.5 442.8,180.9 443.6,180.2 444.4,179.4 445.1,178.4 445.9,177.3 446.8,176.4 447.6,175.5 448.4,174.9 449.1,174.4 449.9,173.9 450.8,173.3 451.6,172.5 452.4,171.7 453.1,170.8 453.9,169.9 454.8,169.2 455.6,168.7 456.4,168.4 457.1,168.2 457.9,168.0 458.8,167.6 459.6,167.0 460.4,166.3 461.1,165.7 461.9,165.2 462.8,165.0 463.6,165.0 464.4,164.9 465.1,164.7 465.9,164.3 466.8,163.7 467.6,163.1 468.4,162.4 469.1,162.0 470.0,161.8 470.8,161.7 471.6,161.6 472.4,161.5 473.1,161.6 474.0,161.6 474.8,161.5 475.6,161.4 476.4,161.7 477.1,162.5 478.0,163.4 478.8,164.4 479.6,165.3 480.4,166.0 481.1,166.7 482.0,167.5 482.8,168.3 483.6,169.3 484.4,170.5 485.1,171.9 486.0,173.3 486.8,174.6 487.6,175.8 488.4,176.8 489.1,177.8 490.0,178.8 490.8,179.9 491.6,181.1 492.4,182.5 493.1,183.8 494.0,185.0 494.8,185.9 495.6,186.7 496.4,187.3 497.1,187.9 498.0,188.7 498.8,189.5 499.6,190.5 500.4,191.4 501.1,192.2 502.0,192.9 502.8,193.4 503.6,193.8 504.4,194.3 505.1,194.9 506.0,195.7 506.8,196.3 507.6,197.0 508.4,197.6 509.1,198.1 510.0,198.5 510.8,198.9 511.6,199.3 512.4,199.8 513.1,200.6 514.0,201.6 514.8,202.5 515.5,203.5 516.4,204.3 517.1,204.9 518.0,205.5 518.8,206.1 519.5,207.0 520.4,208.0 521.1,209.1 522.0,210.2 522.8,211.2 523.5,212.1 524.4,212.7 525.1,213.4 526.0,214.4 526.8,215.4" fill="none" stroke="#fff" stroke-width="2.6" stroke-linejoin="round" stroke-linecap="round"/>
<polyline points="338.8,291.9 339.6,292.1 340.4,292.2 341.1,292.1 341.9,292.1 342.8,292.4 343.6,292.9 344.4,293.5 345.1,294.1 345.9,294.5 346.8,294.9 347.6,295.0 348.4,295.1 349.1,295.3 349.9,295.5 350.8,295.9 351.6,296.4 352.4,296.9 353.1,295.8 353.9,294.2 354.8,292.5 355.6,290.7 356.4,289.0 357.1,287.4 357.9,286.2 358.8,285.3 359.6,284.4 360.4,283.9 361.1,283.9 361.9,283.8 362.8,283.8 363.6,282.1 364.4,279.8 365.1,277.7 365.9,275.7 366.8,274.7 367.6,273.7 368.4,272.5 369.1,271.2 369.9,269.9 370.8,268.5 371.6,267.2 372.4,266.1 373.1,264.9 373.9,263.5 374.8,260.9 375.6,258.1 376.4,255.0 377.1,252.0 377.9,249.1 378.8,246.4 379.6,243.5 380.4,240.5 381.1,237.4 381.9,234.1 382.8,230.7 383.6,227.2 384.4,223.8 385.1,220.6 385.9,217.7 386.8,215.8 387.6,214.0 388.4,212.0 389.1,210.1 389.9,208.7 390.8,207.3 391.6,206.7 392.4,206.6 393.1,206.6 393.9,206.8 394.8,206.9 395.6,206.8 396.4,206.4 397.1,206.0 397.9,205.5 398.8,205.1 399.6,204.8 400.4,204.7 401.1,204.8 401.9,204.7 402.8,204.4 403.6,203.9 404.4,203.3 405.1,202.8 405.9,202.3 406.8,202.1 407.6,201.9 408.4,201.7 409.1,201.4 409.9,201.0 410.8,200.4 411.6,199.7 412.4,199.2 413.1,198.9 413.9,198.7 414.8,198.7 415.6,198.7 416.4,198.6 417.1,198.4 417.9,198.0 418.8,197.8 419.6,197.6 420.4,197.5 421.1,197.3 421.9,197.2 422.8,197.1 423.6,196.8 424.4,196.4 425.1,195.8 425.9,195.2 426.8,194.7 427.6,194.3 428.4,194.1 429.1,193.8 429.9,193.5 430.8,192.8 431.6,191.9 432.4,191.0 433.1,190.0 433.9,189.2 434.8,188.4 435.6,187.8 436.4,187.2 437.1,186.5 437.9,185.6 438.8,184.5 439.6,183.5 440.4,182.5 441.1,181.7 441.9,181.0 442.8,180.5 443.6,180.0 444.4,179.4 445.1,178.7 445.9,177.8 446.8,177.0 447.6,176.3 448.4,175.8 449.1,175.5 449.9,175.2 450.8,174.9 451.6,174.3 452.4,173.6 453.1,172.8 453.9,172.0 454.8,171.3 455.6,170.8 456.4,170.5 457.1,170.2 457.9,169.9 458.8,169.4 459.6,168.7 460.4,167.9 461.1,167.1 461.9,166.4 462.8,166.0 463.6,165.8 464.4,165.5 465.1,165.1 465.9,164.5 466.8,163.8 467.6,162.9 468.4,162.2 469.1,161.8 470.0,161.6 470.8,161.5 471.6,161.4 472.4,161.2 473.1,161.4 474.0,161.4 474.8,161.5 475.6,161.6 476.4,162.2 477.1,163.3 478.0,164.5 478.8,165.7 479.6,166.7 480.4,167.7 481.1,168.5 482.0,169.5 482.8,170.6 483.6,171.8 484.4,173.2 485.1,174.6 486.0,176.0 486.8,177.1 487.6,178.1 488.4,179.0 489.1,179.8 490.0,180.7 490.8,181.8 491.6,182.9 492.4,184.1 493.1,185.0 494.0,185.8 494.8,186.3 495.6,186.8 496.4,187.2 497.1,187.8 498.0,188.6 498.8,189.5 499.6,190.4 500.4,191.2 501.1,191.8 502.0,192.3 502.8,192.8 503.6,193.4 504.4,194.3 505.1,195.3 506.0,196.4 506.8,197.3 507.6,198.0 508.4,198.6 509.1,199.1 510.0,199.7 510.8,200.3 511.6,201.2 512.4,202.1 513.1,203.2 514.0,204.2 514.8,205.0 515.5,205.6 516.4,206.1 517.1,206.7 518.0,207.3 518.8,208.1 519.5,209.1 520.4,210.1 521.1,210.9 522.0,211.6 522.8,212.1 523.5,212.5 524.4,212.9 525.1,213.5 526.0,214.6 526.8,215.8" fill="none" stroke="#fff" stroke-width="2.6" stroke-linejoin="round" stroke-linecap="round"/>
<polyline points="338.8,291.9 339.6,292.2 340.4,292.4 341.1,292.5 341.9,292.6 342.8,292.8 343.6,293.0 344.4,293.2 345.1,293.6 345.9,293.9 346.8,294.4 347.6,294.8 348.4,295.4 349.1,295.9 349.9,296.2 350.8,296.6 351.6,296.8 352.4,297.0 353.1,295.7 353.9,294.1 354.8,292.5 355.6,290.8 356.4,289.1 357.1,287.5 357.9,286.2 358.8,285.2 359.6,284.3 360.4,283.8 361.1,284.0 361.9,284.2 362.8,284.3 363.6,282.6 364.4,280.1 365.1,277.7 365.9,275.2 366.8,273.9 367.6,272.8 368.4,271.8 369.1,270.9 369.9,270.0 370.8,269.1 371.6,268.3 372.4,267.4 373.1,266.5 373.9,265.2 374.8,262.8 375.6,260.3 376.4,257.7 377.1,255.2 377.9,252.7 378.8,250.2 379.6,247.7 380.4,244.9 381.1,242.0 381.9,239.0 382.8,236.0 383.6,232.6 384.4,229.1 385.1,225.5 385.9,221.9 386.8,218.9 387.6,216.0 388.4,213.3 389.1,210.8 389.9,209.2 390.8,207.7 391.6,207.0 392.4,206.8 393.1,206.6 393.9,206.4 394.8,206.3 395.6,206.1 396.4,205.9 397.1,205.6 397.9,205.4 398.8,205.1 399.6,204.8 400.4,204.6 401.1,204.7 401.9,204.8 402.8,204.9 403.6,204.8 404.4,204.8 405.1,204.7 405.9,204.6 406.8,204.4 407.6,204.1 408.4,203.9 409.1,203.5 409.9,203.2 410.8,202.7 411.6,202.2 412.4,201.8 413.1,201.5 413.9,201.2 414.8,200.9 415.6,200.6 416.4,200.4 417.1,200.1 417.9,199.7 418.8,199.3 419.6,198.9 420.4,198.4 421.1,197.6 421.9,196.9 422.8,196.3 423.6,195.8 424.4,195.4 425.1,195.2 425.9,194.9 426.8,194.7 427.6,194.5 428.4,194.2 429.1,193.9 429.9,193.4 430.8,192.9 431.6,192.3 432.4,191.6 433.1,190.9 433.9,190.1 434.8,189.4 435.6,188.8 436.4,188.3 437.1,187.7 437.9,187.2 438.8,186.7 439.6,186.1 440.4,185.3 441.1,184.4 441.9,183.5 442.8,182.6 443.6,181.6 444.4,180.7 445.1,179.8 445.9,179.0 446.8,178.3 447.6,177.7 448.4,177.1 449.1,176.5 449.9,175.9 450.8,175.2 451.6,174.4 452.4,173.6 453.1,172.8 453.9,172.0 454.8,171.1 455.6,170.4 456.4,169.8 457.1,169.4 457.9,169.1 458.8,168.8 459.6,168.5 460.4,168.3 461.1,168.0 461.9,167.6 462.8,167.3 463.6,166.8 464.4,166.3 465.1,165.8 465.9,165.3 466.8,164.8 467.6,164.3 468.4,164.0 469.1,163.9 470.0,163.8 470.8,163.7 471.6,163.5 472.4,163.3 473.1,163.6 474.0,163.7 474.8,163.8 475.6,163.8 476.4,164.0 477.1,164.6 478.0,165.2 478.8,165.9 479.6,166.7 480.4,167.6 481.1,168.6 482.0,169.8 482.8,170.9 483.6,172.1 484.4,173.2 485.1,174.3 486.0,175.4 486.8,176.4 487.6,177.5 488.4,178.5 489.1,179.6 490.0,180.8 490.8,182.0 491.6,183.3 492.4,184.6 493.1,185.7 494.0,186.8 494.8,187.8 495.6,188.7 496.4,189.5 497.1,190.3 498.0,191.0 498.8,191.8 499.6,192.5 500.4,193.1 501.1,193.8 502.0,194.5 502.8,195.2 503.6,196.0 504.4,196.8 505.1,197.6 506.0,198.4 506.8,198.8 507.6,199.2 508.4,199.6 509.1,199.9 510.0,200.3 510.8,200.7 511.6,201.2 512.4,201.8 513.1,202.5 514.0,203.3 514.8,204.2 515.5,205.1 516.4,206.0 517.1,206.9 518.0,207.7 518.8,208.5 519.5,209.3 520.4,210.1 521.1,210.9 522.0,211.6 522.8,212.4 523.5,213.1 524.4,213.9 525.1,214.9 526.0,216.2 526.8,217.6" fill="none" stroke="#fff" stroke-width="2.6" stroke-linejoin="round" stroke-linecap="round"/>
<polyline points="338.8,291.4 339.6,291.5 340.4,291.7 341.1,292.1 341.9,292.6 342.8,293.1 343.6,293.5 344.4,293.7 345.1,293.8 345.9,294.0 346.8,294.3 347.6,294.7 348.4,295.3 349.1,295.9 349.9,296.3 350.8,296.5 351.6,296.6 352.4,296.7 353.1,295.3 353.9,293.8 354.8,292.4 355.6,291.1 356.4,289.7 357.1,288.2 357.9,286.9 358.8,285.6 359.6,284.2 360.4,283.5 361.1,283.6 361.9,283.9 362.8,284.3 363.6,283.0 364.4,280.9 365.1,278.5 365.9,276.1 366.8,274.7 367.6,273.6 368.4,272.6 369.1,271.7 369.9,270.9 370.8,270.0 371.6,268.9 372.4,267.6 373.1,266.2 373.9,264.7 374.8,262.3 375.6,259.9 376.4,257.6 377.1,255.5 377.9,253.3 378.8,250.6 379.6,247.5 380.4,244.2 381.1,240.9 381.9,237.7 382.8,234.6 383.6,231.5 384.4,228.5 385.1,225.6 385.9,222.5 386.8,220.0 387.6,217.4 388.4,214.9 389.1,212.7 389.9,211.4 390.8,210.3 391.6,210.1 392.4,210.2 393.1,210.1 393.9,209.6 394.8,208.9 395.6,208.2 396.4,207.7 397.1,207.3 397.9,207.0 398.8,206.7 399.6,206.4 400.4,206.1 401.1,205.7 401.9,205.2 402.8,204.8 403.6,204.5 404.4,204.4 405.1,204.4 405.9,204.4 406.8,204.4 407.6,204.1 408.4,203.7 409.1,203.1 409.9,202.5 410.8,202.1 411.6,201.8 412.4,201.7 413.1,201.6 413.9,201.5 414.8,201.2 415.6,200.8 416.4,200.4 417.1,200.1 417.9,200.0 418.8,200.1 419.6,200.4 420.4,200.5 421.1,200.2 421.9,199.8 422.8,199.2 423.6,198.5 424.4,197.7 425.1,197.1 425.9,196.7 426.8,196.3 427.6,195.9 428.4,195.4 429.1,194.7 429.9,193.9 430.8,193.0 431.6,192.2 432.4,191.5 433.1,191.0 433.9,190.6 434.8,190.1 435.6,189.5 436.4,188.7 437.1,187.8 437.9,186.9 438.8,185.9 439.6,185.0 440.4,184.4 441.1,183.9 441.9,183.3 442.8,182.6 443.6,181.8 444.4,180.9 445.1,180.0 445.9,179.3 446.8,178.8 447.6,178.4 448.4,178.2 449.1,177.9 449.9,177.4 450.8,176.7 451.6,175.9 452.4,175.1 453.1,174.3 453.9,173.6 454.8,173.0 455.6,172.5 456.4,171.9 457.1,171.3 457.9,170.5 458.8,169.7 459.6,168.9 460.4,168.2 461.1,167.7 461.9,167.3 462.8,167.2 463.6,166.9 464.4,166.5 465.1,166.0 465.9,165.3 466.8,164.8 467.6,164.3 468.4,164.0 469.1,163.8 470.0,163.7 470.8,163.5 471.6,163.2 472.4,162.8 473.1,162.8 474.0,162.9 474.8,163.2 475.6,163.7 476.4,164.5 477.1,165.7 478.0,166.8 478.8,167.7 479.6,168.6 480.4,169.4 481.1,170.4 482.0,171.6 482.8,173.0 483.6,174.2 484.4,175.4 485.1,176.4 486.0,177.3 486.8,178.0 487.6,178.7 488.4,179.6 489.1,180.5 490.0,181.7 490.8,182.9 491.6,184.0 492.4,185.0 493.1,185.9 494.0,186.6 494.8,187.2 495.6,188.0 496.4,188.9 497.1,190.0 498.0,191.1 498.8,191.9 499.6,192.6 500.4,193.1 501.1,193.6 502.0,194.1 502.8,194.7 503.6,195.6 504.4,196.6 505.1,197.7 506.0,198.7 506.8,199.4 507.6,199.9 508.4,200.4 509.1,200.9 510.0,201.6 510.8,202.4 511.6,203.4 512.4,204.5 513.1,205.3 514.0,205.9 514.8,206.3 515.5,206.6 516.4,207.0 517.1,207.5 518.0,208.2 518.8,209.1 519.5,210.0 520.4,210.9 521.1,211.6 522.0,212.1 522.8,212.6 523.5,213.2 524.4,213.9 525.1,214.8 526.0,216.3 526.8,217.7" fill="none" stroke="#fff" stroke-width="2.6" stroke-linejoin="round" stroke-linecap="round"/>
<polyline points="329.3,198.5 329.3,312 338.0,312 338.75,291.5" fill="none" stroke="#fff" stroke-width="2.6" stroke-linejoin="miter"/>
<polygon points="433,184 434.7,177 434.9,69.5 437.5,69.5 437.7,175 439.5,180 439.5,186 433,190" fill="#fff"/>
<polygon points="525.9,142 526.25,82 529,82 529.5,96 530.1,105 530.9,104 531.3,85 533.75,85 534.3,94 535,98.75 535.9,97 536.3,88.75 540,88.75 540.3,82 543.75,82 543.9,95 545.6,110 546.9,120 548,117 550,117 550.4,142" fill="#fff"/>
<polygon points="525.8,141 533.0,141 532.6,176 531.7,190 530.2,200 529.2,207 528.4,218 524.4,219 524.7,195" fill="#fff"/>
<polygon points="538.4,141 542.3,141 542.3,181 541.0,183 539.6,172 538.6,160" fill="#fff"/>
<polygon points="546.0,141 550.4,141 551.2,225 547.9,225 547.8,176 546.6,158" fill="#fff"/>
<rect x="534.6" y="141" width="0.9" height="12" fill="#fff"/>
<polyline points="549.0,215.4 549.8,216.9 550.6,218.4 551.4,220.0 552.2,221.7 553.0,223.6 553.8,225.6 554.6,227.6 555.4,229.5 556.2,231.4 557.0,233.3 557.8,235.2 558.6,237.1 559.4,239.0 560.2,241.0 561.0,243.0 561.8,245.1 562.6,247.2 563.4,249.3 564.2,251.4 565.0,253.3 565.8,255.7 566.6,257.9 567.4,260.2 568.2,262.6 569.0,265.0 569.8,267.4 570.6,269.5 571.4,271.3 572.2,273.3 573.0,275.1 573.8,276.9 574.6,278.7 575.4,280.1 576.2,281.3 577.0,282.6 577.8,283.9 578.6,285.2 579.4,286.6 580.2,287.8 581.0,288.6 581.8,289.3 582.6,289.9 583.4,290.5 584.2,291.0 585.0,291.6 585.8,291.7 586.6,291.9 587.4,292.2 588.2,292.5 589.0,292.6 589.8,292.7 590.6,292.7 591.4,292.7 592.2,292.6 593.0,292.5 593.8,292.5 594.6,292.5 595.2,292.5" fill="none" stroke="#fff" stroke-width="2.6" stroke-linejoin="round" stroke-linecap="round"/>
<polyline points="549.0,216.3 549.8,218.1 550.6,219.9 551.4,221.6 552.2,223.4 553.0,225.4 553.8,227.4 554.6,229.2 555.4,231.1 556.2,233.0 557.0,234.8 557.8,236.6 558.6,238.5 559.4,240.3 560.2,242.3 561.0,244.2 561.8,246.2 562.6,248.2 563.4,250.2 564.2,252.1 565.0,254.0 565.8,256.3 566.6,258.6 567.4,260.8 568.2,263.1 569.0,265.4 569.8,267.7 570.6,269.7 571.4,271.5 572.2,273.4 573.0,275.3 573.8,277.2 574.6,279.1 575.4,280.7 576.2,282.0 577.0,283.2 577.8,284.5 578.6,285.7 579.4,286.9 580.2,288.0 581.0,288.7 581.8,289.5 582.6,290.3 583.4,291.1 584.2,291.8 585.0,292.6 585.8,292.8 586.6,293.0 587.4,293.1 588.2,293.2 589.0,293.0 589.8,292.9 590.6,292.8 591.4,292.8 592.2,292.8 593.0,292.8 593.8,292.9 594.6,292.9 595.2,293.0" fill="none" stroke="#fff" stroke-width="2.6" stroke-linejoin="round" stroke-linecap="round"/>
<polyline points="549.0,219.0 549.8,220.4 550.6,221.8 551.4,223.2 552.2,224.7 553.0,226.6 553.8,228.4 554.6,230.2 555.4,232.0 556.2,233.8 557.0,235.6 557.8,237.3 558.6,239.1 559.4,241.0 560.2,242.9 561.0,244.9 561.8,246.9 562.6,248.9 563.4,250.9 564.2,252.8 565.0,254.7 565.8,257.0 566.6,259.2 567.4,261.6 568.2,264.0 569.0,266.5 569.8,269.0 570.6,271.1 571.4,273.0 572.2,274.8 573.0,276.6 573.8,278.3 574.6,280.0 575.4,281.5 576.2,282.7 577.0,284.0 577.8,285.3 578.6,286.7 579.4,288.0 580.2,289.2 581.0,289.8 581.8,290.4 582.6,291.0 583.4,291.5 584.2,292.1 585.0,292.7 585.8,292.8 586.6,293.0 587.4,293.3 588.2,293.4 589.0,293.5 589.8,293.4 590.6,293.4 591.4,293.2 592.2,293.1 593.0,293.0 593.8,293.0 594.6,293.0 595.2,293.1" fill="none" stroke="#fff" stroke-width="2.6" stroke-linejoin="round" stroke-linecap="round"/>
<polyline points="549.0,219.3 549.8,220.6 550.6,221.9 551.4,223.2 552.2,224.6 553.0,226.3 553.8,228.1 554.6,229.9 555.4,231.8 556.2,233.8 557.0,235.9 557.8,238.0 558.6,240.2 559.4,242.3 560.2,244.4 561.0,246.6 561.8,248.7 562.6,250.8 563.4,252.8 564.2,254.8 565.0,256.8 565.8,259.1 566.6,261.4 567.4,263.7 568.2,266.1 569.0,268.4 569.8,270.8 570.6,272.7 571.4,274.4 572.2,276.1 573.0,277.8 573.8,279.4 574.6,281.0 575.4,282.3 576.2,283.4 577.0,284.4 577.8,285.4 578.6,286.5 579.4,287.7 580.2,288.7 581.0,289.4 581.8,290.1 582.6,290.9 583.4,291.6 584.2,292.4 585.0,293.1 585.8,293.3 586.6,293.4 587.4,293.6 588.2,293.7 589.0,293.6 589.8,293.6 590.6,293.6 591.4,293.6 592.2,293.7 593.0,293.8 593.8,293.9 594.6,294.0 595.2,294.1" fill="none" stroke="#fff" stroke-width="2.6" stroke-linejoin="round" stroke-linecap="round"/>
<polyline points="549.0,223.2 549.8,224.4 550.6,225.4 551.4,226.4 552.2,227.5 553.0,229.0 553.8,230.6 554.6,232.2 555.4,234.1 556.2,236.0 557.0,237.9 557.8,239.6 558.6,241.3 559.4,243.0 560.2,244.8 561.0,246.8 561.8,248.8 562.6,250.9 563.4,252.9 564.2,254.9 565.0,256.8 565.8,259.0 566.6,261.2 567.4,263.6 568.2,266.0 569.0,268.5 569.8,271.1 570.6,273.1 571.4,274.9 572.2,276.6 573.0,278.2 573.8,279.9 574.6,281.6 575.4,283.2 576.2,284.5 577.0,285.9 577.8,287.1 578.6,288.2 579.4,289.3 580.2,290.1 581.0,290.7 581.8,291.3 582.6,292.0 583.4,292.7 584.2,293.4 585.0,294.0 585.8,294.0 586.6,294.0 587.4,293.9 588.2,293.9 589.0,293.9 589.8,294.0 590.6,294.1 591.4,294.2 592.2,294.1 593.0,294.0 593.8,293.9 594.6,293.8 595.2,293.7" fill="none" stroke="#fff" stroke-width="2.6" stroke-linejoin="round" stroke-linecap="round"/>
<polyline points="549.0,223.6 549.8,224.7 550.6,225.9 551.4,227.0 552.2,228.2 553.0,229.7 553.8,231.1 554.6,232.5 555.4,234.1 556.2,235.9 557.0,237.8 557.8,239.8 558.6,241.8 559.4,243.9 560.2,246.0 561.0,248.0 561.8,250.0 562.6,251.9 563.4,253.9 564.2,255.9 565.0,258.1 565.8,260.6 566.6,263.0 567.4,265.5 568.2,267.8 569.0,270.1 569.8,272.3 570.6,274.0 571.4,275.6 572.2,277.3 573.0,279.0 573.8,280.8 574.6,282.6 575.4,284.1 576.2,285.2 577.0,286.2 577.8,287.2 578.6,288.2 579.4,289.3 580.2,290.3 581.0,291.0 581.8,291.7 582.6,292.3 583.4,292.9 584.2,293.5 585.0,294.0 585.8,293.9 586.6,293.9 587.4,294.0 588.2,294.1 589.0,294.3 589.8,294.4 590.6,294.5 591.4,294.5 592.2,294.5 593.0,294.4 593.8,294.3 594.6,294.3 595.2,294.3" fill="none" stroke="#fff" stroke-width="2.6" stroke-linejoin="round" stroke-linecap="round"/>
<polyline points="587.5,293 588.2,284.5 588.9,293" fill="none" stroke="#fff" stroke-width="1.6"/>
</svg>
</body></html>
